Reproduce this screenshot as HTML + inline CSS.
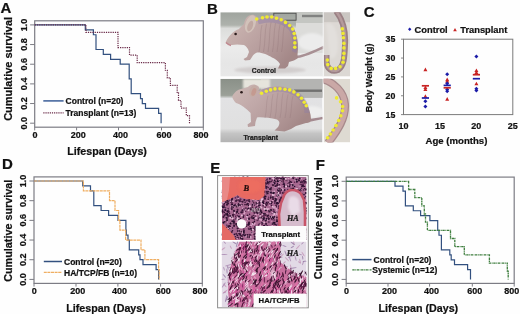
<!DOCTYPE html>
<html><head><meta charset="utf-8"><style>
html,body{margin:0;padding:0;background:#fff;}
svg{display:block;font-family:"Liberation Sans", sans-serif;}
text{stroke:#111;stroke-width:0.22px;}
</style></head><body>
<svg width="520" height="314" viewBox="0 0 520 314">
<rect width="520" height="314" fill="#fefefe"/>
<defs>
<filter id="soft" x="-5%" y="-5%" width="110%" height="110%"><feGaussianBlur stdDeviation="0.55"/></filter>
<filter id="soft2" x="-20%" y="-20%" width="140%" height="140%"><feGaussianBlur stdDeviation="1.2"/></filter>
<filter id="soft3" x="-20%" y="-20%" width="140%" height="140%"><feGaussianBlur stdDeviation="2.2"/></filter>
<clipPath id="cB1"><rect x="220.3" y="12.2" width="103.2" height="64.4"/></clipPath>
<clipPath id="cB1i"><rect x="323.6" y="12.2" width="26.6" height="64.4"/></clipPath>
<clipPath id="cB2"><rect x="220.3" y="78.8" width="102.2" height="63.6"/></clipPath>
<clipPath id="cB2i"><rect x="323.6" y="78.8" width="26.6" height="63.6"/></clipPath>
<clipPath id="cE1"><rect x="221.6" y="176.4" width="85" height="63.6"/></clipPath>
<clipPath id="cE2"><rect x="221.6" y="241.5" width="85" height="65.8"/></clipPath>
<linearGradient id="gB1bg" x1="0" y1="0" x2="0" y2="1">
 <stop offset="0" stop-color="#9fa49e"/><stop offset="0.2" stop-color="#aeb2ac"/>
 <stop offset="0.25" stop-color="#dcdddb"/><stop offset="0.55" stop-color="#ebebeb"/><stop offset="0.8" stop-color="#e6e6e6"/><stop offset="1" stop-color="#e8e8e8"/>
</linearGradient>
<linearGradient id="gB2bg" x1="0" y1="0" x2="0" y2="1">
 <stop offset="0" stop-color="#8a9088"/><stop offset="0.26" stop-color="#9ba098"/>
 <stop offset="0.31" stop-color="#e2e2e4"/><stop offset="0.78" stop-color="#e0e0e0"/><stop offset="0.86" stop-color="#c4c4c4"/><stop offset="1" stop-color="#b2b2b2"/>
</linearGradient>
<linearGradient id="gMouse" x1="0" y1="0" x2="1" y2="0.6">
 <stop offset="0" stop-color="#d0bcb6"/><stop offset="0.35" stop-color="#c2aaa8"/><stop offset="0.7" stop-color="#b49a9a"/><stop offset="1" stop-color="#a48888"/>
</linearGradient>
<linearGradient id="gMouse2" x1="0" y1="0" x2="1" y2="0.6">
 <stop offset="0" stop-color="#cebab6"/><stop offset="0.35" stop-color="#c2aaaa"/><stop offset="0.7" stop-color="#b49a9a"/><stop offset="1" stop-color="#a48888"/>
</linearGradient>
</defs>
<g filter="url(#soft)">
<g clip-path="url(#cB1)">
<rect x="220.3" y="12.2" width="103.2" height="64.4" fill="url(#gB1bg)"/>
<rect x="296" y="12.2" width="28" height="11" fill="#c4c6c2"/>
<rect x="296" y="23" width="28" height="30" fill="#dcdcda"/>
<ellipse cx="312" cy="42" rx="14" ry="9" fill="#ececec" filter="url(#soft2)"/>
<rect x="273.8" y="13.2" width="22.3" height="7" fill="none" stroke="#4a4a4a" stroke-width="0.9"/>
<rect x="302" y="14.8" width="21" height="2.4" fill="#555" opacity="0.6"/>
<ellipse cx="270" cy="70" rx="36" ry="3.5" fill="#d2cece" filter="url(#soft2)"/>
<path d="M296,57 C303,57 313,52 324,47" fill="none" stroke="#a89094" stroke-width="2.6"/>
<path d="M225.7,42.2 C228,37 233,31 238.6,29.3 L244,24 C245,17 250,14 254,15 C257,16 258,18 257,20 C262,16.5 270,15 276,16 C285,18 293,25 295.5,32 C298,40 298.5,48 297.5,55 L298,58 C296,60 292,61 289,62 L288,66 L285,68.5 L278,68.5 L280,64 C278,61 275,58.5 272,57.5 C268,55 262,52.3 257,52.5 C255,53 253,55 252,57 L250,60 L245,60.5 L243.5,59 L247,57 L249,52 C248,48 246,46 244,45 C240,44.5 236,44 232,45 C229,45 226,44 225.7,42.2 Z" fill="url(#gMouse)"/>
<ellipse cx="250.5" cy="24" rx="5" ry="9" fill="#d2c2ba" transform="rotate(20 250.5 24)"/><ellipse cx="250.2" cy="26" rx="2.6" ry="5.5" fill="#c0a8a2" transform="rotate(20 250.2 26)"/>
<path d="M258,22 C270,18 285,20 292,30 C296,40 296,48 294,52" fill="none" stroke="#8c7ca8" stroke-width="5" opacity="0.45"/>
<path d="M262,25.0 C260,32 261,42 259,52" fill="none" stroke="#8a6e70" stroke-width="0.8" opacity="0.35"/>
<path d="M266.5,23.6 C264.5,32 265.5,42 263.5,52" fill="none" stroke="#8a6e70" stroke-width="0.8" opacity="0.35"/>
<path d="M271,22.3 C269,32 270,42 268,52" fill="none" stroke="#8a6e70" stroke-width="0.8" opacity="0.35"/>
<path d="M275.5,23.1 C273.5,32 274.5,42 272.5,52" fill="none" stroke="#8a6e70" stroke-width="0.8" opacity="0.35"/>
<path d="M280,24.4 C278,32 279,42 277,52" fill="none" stroke="#8a6e70" stroke-width="0.8" opacity="0.35"/>
<path d="M284.5,25.8 C282.5,32 283.5,42 281.5,52" fill="none" stroke="#8a6e70" stroke-width="0.8" opacity="0.35"/>
<circle cx="235.6" cy="34" r="1.3" fill="#2a1a1a"/>
<path d="M226,42.5 C227.5,44 229,45 231,45.5" fill="none" stroke="#c08890" stroke-width="1.5"/>
<circle cx="256.7" cy="19" r="1.8" fill="#eeea30"/><circle cx="262.5" cy="17.7" r="1.8" fill="#eeea30"/><circle cx="267" cy="17" r="1.8" fill="#eeea30"/><circle cx="271.7" cy="17" r="1.8" fill="#eeea30"/><circle cx="276.5" cy="18.3" r="1.8" fill="#eeea30"/><circle cx="281.2" cy="19.8" r="1.8" fill="#eeea30"/><circle cx="285.5" cy="22.4" r="1.8" fill="#eeea30"/><circle cx="289.7" cy="25.5" r="1.8" fill="#eeea30"/><circle cx="292.7" cy="29.1" r="1.8" fill="#eeea30"/><circle cx="294.2" cy="33.6" r="1.8" fill="#eeea30"/><circle cx="294.8" cy="38" r="1.8" fill="#eeea30"/><circle cx="294.8" cy="42.9" r="1.8" fill="#eeea30"/><circle cx="294.8" cy="47.2" r="1.8" fill="#eeea30"/>
<text x="251.8" y="72.6" font-size="6.8" font-weight="bold" fill="#2a2a2a">Control</text>
</g>
<g clip-path="url(#cB1i)">
<rect x="323.6" y="12.2" width="26.6" height="64.4" fill="#dcd8d4"/>
<rect x="323.6" y="12.2" width="26.6" height="10" fill="#cac6c2"/>
<path d="M326,24 C332,20 338,30 338,45 C338,55 334,60 330,58 Z" fill="#e2dfdc" filter="url(#soft2)"/>
<path d="M336,11 C343,20 346,30 345,45 C344.5,58 344,66 338,70 C332,72.5 327,69 326.5,62 L326.5,55" fill="none" stroke="#9a8084" stroke-width="6"/>
<path d="M336,11 C343,20 346,30 345,45 C344.5,58 344,66 338,70 C332,72.5 327,69 326.5,62 L326.5,55" fill="none" stroke="#b49a9c" stroke-width="2.5"/>
<circle cx="342.3" cy="28.9" r="1.8" fill="#eeea30"/><circle cx="343" cy="33.4" r="1.8" fill="#eeea30"/><circle cx="343.4" cy="37.8" r="1.8" fill="#eeea30"/><circle cx="343.9" cy="43.4" r="1.8" fill="#eeea30"/><circle cx="343.9" cy="47.9" r="1.8" fill="#eeea30"/><circle cx="343.9" cy="53.4" r="1.8" fill="#eeea30"/><circle cx="343.4" cy="57.9" r="1.8" fill="#eeea30"/><circle cx="343" cy="62.3" r="1.8" fill="#eeea30"/><circle cx="340" cy="66.8" r="1.8" fill="#eeea30"/><circle cx="335.6" cy="68.4" r="1.8" fill="#eeea30"/><circle cx="331.2" cy="68.4" r="1.8" fill="#eeea30"/><circle cx="327.8" cy="64.6" r="1.8" fill="#eeea30"/><circle cx="327.4" cy="60.1" r="1.8" fill="#eeea30"/>
</g>
<rect x="322.7" y="12.2" width="0.9" height="64.4" fill="#f4f4f4"/>
<g clip-path="url(#cB2)">
<rect x="220.3" y="78.8" width="102.2" height="63.6" fill="url(#gB2bg)"/>
<rect x="261" y="78.8" width="62" height="19" fill="#b4b4b2"/>
<rect x="243" y="78.8" width="27" height="10" fill="#e6e4dc" filter="url(#soft2)"/>
<rect x="294" y="89.5" width="28" height="2.4" fill="#3a3a3a" opacity="0.55"/>
<ellipse cx="312" cy="112" rx="12" ry="6" fill="#eeeeee" filter="url(#soft2)"/>
<path d="M306,121 C312,120 317,119 323,118" fill="none" stroke="#a48a90" stroke-width="2.6"/>
<path d="M232.2,96.6 C234,92 238,89.5 241.2,88.9 L248,87 C250,84 255,83.5 258,86 C260,88 259,90 258.5,91 C265,88 272,86 280,86.3 C290,87 300,93 305.6,101.8 C309,108 311,114 311,119 C311,122 309,123 306,123 L296,126 L291,129 L284.5,131.5 L274.5,130.5 L278,127 C280,124 280,121 277,119.5 C270,118 262,117 257,117.5 L255.5,122 L255,126 L248,127 L247.5,124.5 L251,122 L250.6,113 C246,108 240,104 236,103 C234,101 232.5,99 232.2,96.6 Z" fill="url(#gMouse2)"/>
<ellipse cx="253.5" cy="91" rx="4" ry="6" fill="#c4aca4" transform="rotate(20 253.5 91)"/><ellipse cx="253.8" cy="92" rx="2.2" ry="4" fill="#c49a90" transform="rotate(20 253.8 92)"/>
<path d="M262,92 C272,88 288,88 298,95 C305,101 307,108 307,113" fill="none" stroke="#8c7ca8" stroke-width="5" opacity="0.4"/>
<path d="M268,95.6 C266,102 267,110 265,118" fill="none" stroke="#8a6e70" stroke-width="0.8" opacity="0.3"/>
<path d="M273,94.1 C271,102 272,110 270,118" fill="none" stroke="#8a6e70" stroke-width="0.8" opacity="0.3"/>
<path d="M278,92.6 C276,102 277,110 275,118" fill="none" stroke="#8a6e70" stroke-width="0.8" opacity="0.3"/>
<path d="M283,92.9 C281,102 282,110 280,118" fill="none" stroke="#8a6e70" stroke-width="0.8" opacity="0.3"/>
<path d="M288,94.4 C286,102 287,110 285,118" fill="none" stroke="#8a6e70" stroke-width="0.8" opacity="0.3"/>
<path d="M293,95.9 C291,102 292,110 290,118" fill="none" stroke="#8a6e70" stroke-width="0.8" opacity="0.3"/>
<circle cx="241.5" cy="92.3" r="1.3" fill="#2a1a1a"/>
<circle cx="261.6" cy="93.3" r="1.8" fill="#eeea30"/><circle cx="266.3" cy="91.3" r="1.8" fill="#eeea30"/><circle cx="270.6" cy="89.9" r="1.8" fill="#eeea30"/><circle cx="275" cy="88.9" r="1.8" fill="#eeea30"/><circle cx="280" cy="88.7" r="1.8" fill="#eeea30"/><circle cx="285" cy="89.2" r="1.8" fill="#eeea30"/><circle cx="289.7" cy="89.9" r="1.8" fill="#eeea30"/><circle cx="293.9" cy="91.9" r="1.8" fill="#eeea30"/><circle cx="298" cy="94.7" r="1.8" fill="#eeea30"/><circle cx="301.5" cy="98.2" r="1.8" fill="#eeea30"/><circle cx="304.2" cy="102.3" r="1.8" fill="#eeea30"/><circle cx="306.3" cy="105.8" r="1.8" fill="#eeea30"/>
<text x="243.6" y="139.6" font-size="6.8" font-weight="bold" fill="#222">Transplant</text>
</g>
<g clip-path="url(#cB2i)">
<rect x="323.6" y="78.8" width="26.6" height="63.6" fill="#dedad2"/>
<path d="M322,79 C334,82 344,92 345,104 C346,118 338,130 328,143" fill="none" stroke="#a88a8c" stroke-width="8"/>
<path d="M322,79 C334,82 344,92 345,104 C346,118 338,130 328,143" fill="none" stroke="#caa8a6" stroke-width="5.5"/>
<circle cx="336.6" cy="97.9" r="1.8" fill="#eeea30"/><circle cx="340.6" cy="101.8" r="1.8" fill="#eeea30"/><circle cx="342.6" cy="106.5" r="1.8" fill="#eeea30"/><circle cx="342.5" cy="110.8" r="1.8" fill="#eeea30"/><circle cx="340.8" cy="115.8" r="1.8" fill="#eeea30"/><circle cx="338.6" cy="120.5" r="1.8" fill="#eeea30"/><circle cx="336" cy="125.5" r="1.8" fill="#eeea30"/><circle cx="333.2" cy="130" r="1.8" fill="#eeea30"/><circle cx="330.4" cy="134" r="1.8" fill="#eeea30"/><circle cx="327.6" cy="137.8" r="1.8" fill="#eeea30"/>
</g>
</g>
<rect x="217.6" y="175.6" width="90.7" height="132.2" fill="#fff" stroke="#8e8e8e" stroke-width="1"/>
<g filter="url(#soft)">
<g clip-path="url(#cE1)">
<rect x="222" y="177" width="84.5" height="63" fill="#a86890"/>
<circle cx="260.2" cy="212.3" r="1.11" fill="#d8a0c4"/>
<circle cx="260.2" cy="230.9" r="0.70" fill="#d8a0c4"/>
<circle cx="275.2" cy="227.0" r="0.65" fill="#5a2850"/>
<circle cx="234.0" cy="210.9" r="1.09" fill="#3a1838"/>
<circle cx="272.3" cy="202.0" r="0.85" fill="#4a2040"/>
<circle cx="274.7" cy="229.4" r="0.63" fill="#3a1838"/>
<circle cx="238.1" cy="192.2" r="0.62" fill="#d8a0c4"/>
<circle cx="249.6" cy="214.2" r="0.71" fill="#341434"/>
<circle cx="276.1" cy="208.5" r="0.96" fill="#d8a0c4"/>
<circle cx="277.3" cy="202.6" r="0.90" fill="#2a1030"/>
<circle cx="281.8" cy="196.9" r="0.73" fill="#5a2850"/>
<circle cx="224.5" cy="212.5" r="0.66" fill="#2a1030"/>
<circle cx="293.5" cy="201.4" r="1.13" fill="#3a1838"/>
<circle cx="240.0" cy="235.4" r="0.63" fill="#e6c0d8"/>
<circle cx="304.8" cy="202.0" r="0.64" fill="#341434"/>
<circle cx="287.8" cy="194.0" r="0.65" fill="#24102a"/>
<circle cx="223.3" cy="202.8" r="1.11" fill="#4a2040"/>
<circle cx="242.8" cy="183.4" r="0.63" fill="#d8a0c4"/>
<circle cx="237.0" cy="212.2" r="0.85" fill="#341434"/>
<circle cx="305.3" cy="225.5" r="0.83" fill="#e6c0d8"/>
<circle cx="231.8" cy="203.5" r="0.72" fill="#5a2850"/>
<circle cx="295.0" cy="238.4" r="0.93" fill="#3a1838"/>
<circle cx="239.8" cy="201.8" r="1.07" fill="#2a1030"/>
<circle cx="225.6" cy="186.2" r="0.84" fill="#3a1838"/>
<circle cx="287.3" cy="197.7" r="0.76" fill="#2a1030"/>
<circle cx="228.3" cy="190.2" r="0.95" fill="#3a1838"/>
<circle cx="272.8" cy="200.4" r="0.85" fill="#d8a0c4"/>
<circle cx="292.3" cy="185.6" r="0.81" fill="#4a2040"/>
<circle cx="248.3" cy="191.4" r="0.94" fill="#341434"/>
<circle cx="235.4" cy="216.6" r="0.90" fill="#e6c0d8"/>
<circle cx="296.5" cy="215.0" r="0.83" fill="#2a1030"/>
<circle cx="231.2" cy="209.3" r="0.74" fill="#e6c0d8"/>
<circle cx="243.7" cy="228.9" r="0.93" fill="#5a2850"/>
<circle cx="265.9" cy="235.5" r="1.14" fill="#4a2040"/>
<circle cx="241.3" cy="212.2" r="1.07" fill="#2a1030"/>
<circle cx="245.7" cy="234.8" r="0.71" fill="#3a1838"/>
<circle cx="227.8" cy="202.9" r="0.74" fill="#3a1838"/>
<circle cx="236.9" cy="200.2" r="0.91" fill="#4a2040"/>
<circle cx="229.8" cy="185.7" r="0.85" fill="#24102a"/>
<circle cx="277.5" cy="220.5" r="0.92" fill="#4a2040"/>
<circle cx="271.8" cy="235.2" r="0.86" fill="#24102a"/>
<circle cx="281.2" cy="237.7" r="0.61" fill="#2a1030"/>
<circle cx="262.7" cy="223.0" r="0.78" fill="#2a1030"/>
<circle cx="228.4" cy="211.4" r="1.01" fill="#4a2040"/>
<circle cx="289.0" cy="234.6" r="0.79" fill="#d8a0c4"/>
<circle cx="298.1" cy="231.9" r="0.83" fill="#3a1838"/>
<circle cx="295.0" cy="213.1" r="0.94" fill="#e6c0d8"/>
<circle cx="254.0" cy="177.8" r="0.64" fill="#2a1030"/>
<circle cx="276.0" cy="239.6" r="1.08" fill="#24102a"/>
<circle cx="254.8" cy="223.3" r="0.92" fill="#d8a0c4"/>
<circle cx="261.1" cy="211.1" r="0.89" fill="#3a1838"/>
<circle cx="248.2" cy="182.5" r="0.61" fill="#2a1030"/>
<circle cx="264.0" cy="215.7" r="1.11" fill="#5a2850"/>
<circle cx="297.7" cy="200.2" r="0.68" fill="#341434"/>
<circle cx="265.8" cy="224.5" r="0.79" fill="#d8a0c4"/>
<circle cx="264.1" cy="192.2" r="0.82" fill="#5a2850"/>
<circle cx="238.8" cy="204.1" r="1.04" fill="#341434"/>
<circle cx="296.4" cy="201.2" r="0.92" fill="#24102a"/>
<circle cx="239.7" cy="185.5" r="0.79" fill="#3a1838"/>
<circle cx="282.1" cy="236.9" r="0.75" fill="#4a2040"/>
<circle cx="231.5" cy="206.7" r="1.11" fill="#e6c0d8"/>
<circle cx="254.3" cy="209.8" r="0.97" fill="#d8a0c4"/>
<circle cx="249.1" cy="229.2" r="0.75" fill="#3a1838"/>
<circle cx="279.3" cy="194.7" r="0.79" fill="#3a1838"/>
<circle cx="276.2" cy="202.5" r="0.70" fill="#5a2850"/>
<circle cx="242.1" cy="185.9" r="0.63" fill="#2a1030"/>
<circle cx="259.7" cy="216.7" r="0.96" fill="#24102a"/>
<circle cx="303.0" cy="220.1" r="0.71" fill="#d8a0c4"/>
<circle cx="243.6" cy="222.0" r="1.02" fill="#3a1838"/>
<circle cx="237.1" cy="194.2" r="0.79" fill="#4a2040"/>
<circle cx="255.3" cy="226.9" r="1.10" fill="#2a1030"/>
<circle cx="256.7" cy="233.2" r="0.81" fill="#d8a0c4"/>
<circle cx="260.3" cy="216.4" r="1.10" fill="#e6c0d8"/>
<circle cx="268.5" cy="218.1" r="0.88" fill="#24102a"/>
<circle cx="261.2" cy="218.0" r="0.71" fill="#2a1030"/>
<circle cx="240.0" cy="233.7" r="1.14" fill="#5a2850"/>
<circle cx="267.4" cy="226.8" r="0.78" fill="#3a1838"/>
<circle cx="251.4" cy="182.2" r="0.84" fill="#e6c0d8"/>
<circle cx="286.9" cy="207.7" r="0.62" fill="#2a1030"/>
<circle cx="258.2" cy="179.2" r="0.89" fill="#4a2040"/>
<circle cx="261.8" cy="240.0" r="1.10" fill="#d8a0c4"/>
<circle cx="301.9" cy="208.0" r="1.12" fill="#2a1030"/>
<circle cx="286.0" cy="204.7" r="0.91" fill="#4a2040"/>
<circle cx="266.2" cy="230.1" r="0.91" fill="#5a2850"/>
<circle cx="278.7" cy="237.2" r="1.08" fill="#341434"/>
<circle cx="247.7" cy="185.9" r="0.90" fill="#5a2850"/>
<circle cx="270.4" cy="189.7" r="0.89" fill="#3a1838"/>
<circle cx="273.1" cy="178.7" r="1.13" fill="#e6c0d8"/>
<circle cx="268.0" cy="239.3" r="0.67" fill="#2a1030"/>
<circle cx="280.4" cy="181.2" r="0.90" fill="#e6c0d8"/>
<circle cx="299.8" cy="227.4" r="0.82" fill="#341434"/>
<circle cx="262.0" cy="185.0" r="0.84" fill="#d8a0c4"/>
<circle cx="266.4" cy="183.8" r="0.83" fill="#3a1838"/>
<circle cx="300.2" cy="185.2" r="1.03" fill="#3a1838"/>
<circle cx="225.0" cy="186.8" r="0.61" fill="#5a2850"/>
<circle cx="249.2" cy="199.4" r="0.94" fill="#2a1030"/>
<circle cx="264.2" cy="213.7" r="1.07" fill="#5a2850"/>
<circle cx="282.6" cy="221.2" r="1.08" fill="#3a1838"/>
<circle cx="253.7" cy="203.0" r="0.89" fill="#4a2040"/>
<circle cx="267.5" cy="231.4" r="0.89" fill="#341434"/>
<circle cx="266.8" cy="230.6" r="0.94" fill="#4a2040"/>
<circle cx="241.7" cy="223.7" r="1.05" fill="#4a2040"/>
<circle cx="248.7" cy="196.8" r="1.11" fill="#341434"/>
<circle cx="287.8" cy="189.3" r="0.65" fill="#341434"/>
<circle cx="233.2" cy="182.6" r="0.81" fill="#e6c0d8"/>
<circle cx="292.3" cy="203.6" r="1.03" fill="#4a2040"/>
<circle cx="239.0" cy="216.6" r="1.04" fill="#2a1030"/>
<circle cx="239.0" cy="220.0" r="1.10" fill="#24102a"/>
<circle cx="231.8" cy="208.9" r="1.02" fill="#341434"/>
<circle cx="289.8" cy="207.4" r="0.61" fill="#d8a0c4"/>
<circle cx="234.4" cy="188.6" r="0.71" fill="#4a2040"/>
<circle cx="305.7" cy="235.4" r="0.65" fill="#3a1838"/>
<circle cx="233.4" cy="219.9" r="0.64" fill="#2a1030"/>
<circle cx="249.6" cy="206.4" r="0.88" fill="#e6c0d8"/>
<circle cx="239.8" cy="200.5" r="0.95" fill="#3a1838"/>
<circle cx="293.3" cy="188.4" r="0.85" fill="#24102a"/>
<circle cx="256.2" cy="189.3" r="0.69" fill="#3a1838"/>
<circle cx="249.4" cy="182.3" r="1.06" fill="#e6c0d8"/>
<circle cx="270.1" cy="189.0" r="0.92" fill="#24102a"/>
<circle cx="290.0" cy="193.3" r="1.10" fill="#4a2040"/>
<circle cx="290.8" cy="202.6" r="1.09" fill="#24102a"/>
<circle cx="286.8" cy="225.2" r="0.82" fill="#4a2040"/>
<circle cx="228.0" cy="198.5" r="0.86" fill="#3a1838"/>
<circle cx="297.0" cy="239.4" r="1.10" fill="#3a1838"/>
<circle cx="241.6" cy="236.5" r="0.97" fill="#24102a"/>
<circle cx="240.3" cy="202.6" r="0.70" fill="#2a1030"/>
<circle cx="254.9" cy="240.0" r="0.95" fill="#2a1030"/>
<circle cx="286.4" cy="238.7" r="0.61" fill="#2a1030"/>
<circle cx="284.4" cy="193.2" r="0.82" fill="#3a1838"/>
<circle cx="286.3" cy="217.8" r="0.61" fill="#5a2850"/>
<circle cx="243.2" cy="234.1" r="0.90" fill="#e6c0d8"/>
<circle cx="303.7" cy="212.8" r="1.15" fill="#d8a0c4"/>
<circle cx="290.4" cy="181.8" r="0.93" fill="#3a1838"/>
<circle cx="254.7" cy="236.1" r="0.81" fill="#4a2040"/>
<circle cx="294.3" cy="211.1" r="0.93" fill="#e6c0d8"/>
<circle cx="301.9" cy="203.5" r="0.89" fill="#5a2850"/>
<circle cx="252.9" cy="195.0" r="0.96" fill="#5a2850"/>
<circle cx="278.1" cy="224.1" r="0.61" fill="#341434"/>
<circle cx="271.5" cy="216.9" r="0.82" fill="#e6c0d8"/>
<circle cx="226.5" cy="196.9" r="0.82" fill="#24102a"/>
<circle cx="228.2" cy="234.0" r="0.84" fill="#d8a0c4"/>
<circle cx="243.2" cy="224.6" r="0.62" fill="#2a1030"/>
<circle cx="301.2" cy="222.5" r="0.86" fill="#341434"/>
<circle cx="273.0" cy="184.3" r="0.94" fill="#d8a0c4"/>
<circle cx="232.0" cy="231.3" r="0.80" fill="#4a2040"/>
<circle cx="232.5" cy="204.9" r="0.97" fill="#d8a0c4"/>
<circle cx="272.8" cy="217.3" r="0.98" fill="#24102a"/>
<circle cx="287.7" cy="210.4" r="1.15" fill="#5a2850"/>
<circle cx="284.0" cy="192.0" r="0.66" fill="#5a2850"/>
<circle cx="288.3" cy="216.4" r="0.80" fill="#5a2850"/>
<circle cx="273.5" cy="222.7" r="0.98" fill="#341434"/>
<circle cx="275.5" cy="224.5" r="0.70" fill="#341434"/>
<circle cx="264.4" cy="218.1" r="0.71" fill="#3a1838"/>
<circle cx="275.1" cy="177.6" r="0.74" fill="#3a1838"/>
<circle cx="274.7" cy="183.5" r="0.90" fill="#2a1030"/>
<circle cx="285.9" cy="234.5" r="0.69" fill="#341434"/>
<circle cx="275.3" cy="200.5" r="0.86" fill="#341434"/>
<circle cx="250.6" cy="208.1" r="0.67" fill="#2a1030"/>
<circle cx="289.8" cy="205.2" r="1.05" fill="#341434"/>
<circle cx="259.5" cy="224.1" r="0.81" fill="#4a2040"/>
<circle cx="253.2" cy="218.2" r="1.14" fill="#24102a"/>
<circle cx="246.6" cy="224.8" r="1.05" fill="#4a2040"/>
<circle cx="258.1" cy="200.3" r="0.65" fill="#24102a"/>
<circle cx="228.6" cy="182.2" r="0.91" fill="#d8a0c4"/>
<circle cx="290.9" cy="206.2" r="1.05" fill="#3a1838"/>
<circle cx="228.4" cy="190.4" r="0.96" fill="#2a1030"/>
<circle cx="280.7" cy="208.2" r="1.02" fill="#24102a"/>
<circle cx="245.9" cy="186.0" r="0.80" fill="#24102a"/>
<circle cx="253.0" cy="184.4" r="0.99" fill="#5a2850"/>
<circle cx="259.0" cy="227.6" r="0.77" fill="#24102a"/>
<circle cx="240.7" cy="238.0" r="1.00" fill="#341434"/>
<circle cx="229.1" cy="229.2" r="0.61" fill="#e6c0d8"/>
<circle cx="271.4" cy="227.2" r="1.01" fill="#24102a"/>
<circle cx="289.4" cy="211.1" r="1.06" fill="#4a2040"/>
<circle cx="236.9" cy="224.8" r="1.08" fill="#5a2850"/>
<circle cx="290.6" cy="190.9" r="0.63" fill="#4a2040"/>
<circle cx="270.0" cy="237.9" r="0.96" fill="#e6c0d8"/>
<circle cx="227.4" cy="211.4" r="1.03" fill="#2a1030"/>
<circle cx="250.3" cy="194.2" r="0.66" fill="#24102a"/>
<circle cx="229.2" cy="217.0" r="0.68" fill="#e6c0d8"/>
<circle cx="242.7" cy="190.9" r="1.02" fill="#24102a"/>
<circle cx="286.6" cy="201.8" r="0.79" fill="#24102a"/>
<circle cx="278.8" cy="208.1" r="0.90" fill="#2a1030"/>
<circle cx="281.8" cy="234.6" r="0.83" fill="#24102a"/>
<circle cx="294.1" cy="227.8" r="1.06" fill="#d8a0c4"/>
<circle cx="302.9" cy="217.3" r="0.89" fill="#3a1838"/>
<circle cx="289.8" cy="203.6" r="0.83" fill="#4a2040"/>
<circle cx="242.8" cy="187.2" r="0.95" fill="#4a2040"/>
<circle cx="249.1" cy="201.5" r="0.89" fill="#5a2850"/>
<circle cx="303.9" cy="180.7" r="0.77" fill="#2a1030"/>
<circle cx="247.6" cy="186.8" r="1.11" fill="#3a1838"/>
<circle cx="285.6" cy="178.1" r="0.86" fill="#3a1838"/>
<circle cx="248.4" cy="189.5" r="0.80" fill="#341434"/>
<circle cx="272.7" cy="206.7" r="0.88" fill="#d8a0c4"/>
<circle cx="237.6" cy="194.7" r="0.69" fill="#5a2850"/>
<circle cx="275.0" cy="236.3" r="0.90" fill="#5a2850"/>
<circle cx="263.0" cy="202.4" r="1.13" fill="#2a1030"/>
<circle cx="262.8" cy="190.9" r="0.63" fill="#4a2040"/>
<circle cx="289.7" cy="201.3" r="0.89" fill="#5a2850"/>
<circle cx="288.6" cy="180.7" r="1.11" fill="#3a1838"/>
<circle cx="295.9" cy="234.0" r="0.85" fill="#341434"/>
<circle cx="282.3" cy="215.2" r="0.69" fill="#4a2040"/>
<circle cx="287.2" cy="186.1" r="1.10" fill="#4a2040"/>
<circle cx="275.8" cy="239.6" r="0.75" fill="#3a1838"/>
<circle cx="234.7" cy="225.5" r="0.60" fill="#4a2040"/>
<circle cx="291.5" cy="182.2" r="0.75" fill="#2a1030"/>
<circle cx="297.2" cy="220.7" r="0.65" fill="#5a2850"/>
<circle cx="223.6" cy="188.8" r="0.71" fill="#2a1030"/>
<circle cx="288.0" cy="204.7" r="0.62" fill="#e6c0d8"/>
<circle cx="266.4" cy="186.9" r="1.06" fill="#5a2850"/>
<circle cx="248.7" cy="202.5" r="0.91" fill="#d8a0c4"/>
<circle cx="278.4" cy="181.2" r="0.64" fill="#4a2040"/>
<circle cx="230.9" cy="201.8" r="0.85" fill="#2a1030"/>
<circle cx="277.3" cy="177.8" r="0.81" fill="#d8a0c4"/>
<circle cx="242.1" cy="212.5" r="0.85" fill="#3a1838"/>
<circle cx="294.3" cy="230.2" r="1.00" fill="#4a2040"/>
<circle cx="246.5" cy="200.7" r="0.90" fill="#5a2850"/>
<circle cx="302.6" cy="224.6" r="0.91" fill="#2a1030"/>
<circle cx="243.7" cy="189.6" r="1.00" fill="#24102a"/>
<circle cx="248.2" cy="194.2" r="0.86" fill="#24102a"/>
<circle cx="259.8" cy="201.1" r="0.66" fill="#2a1030"/>
<circle cx="233.1" cy="216.7" r="0.70" fill="#341434"/>
<circle cx="256.0" cy="229.7" r="0.93" fill="#2a1030"/>
<circle cx="230.5" cy="179.0" r="1.14" fill="#e6c0d8"/>
<circle cx="256.4" cy="181.6" r="1.11" fill="#e6c0d8"/>
<circle cx="300.3" cy="185.8" r="0.71" fill="#4a2040"/>
<circle cx="291.4" cy="201.3" r="0.78" fill="#e6c0d8"/>
<circle cx="274.6" cy="222.8" r="0.94" fill="#24102a"/>
<circle cx="305.0" cy="226.7" r="0.96" fill="#3a1838"/>
<circle cx="244.0" cy="188.9" r="0.77" fill="#d8a0c4"/>
<circle cx="231.0" cy="200.8" r="0.88" fill="#5a2850"/>
<circle cx="291.7" cy="215.5" r="0.69" fill="#5a2850"/>
<circle cx="268.3" cy="199.2" r="0.88" fill="#4a2040"/>
<circle cx="270.5" cy="189.5" r="1.11" fill="#341434"/>
<circle cx="269.9" cy="178.7" r="0.96" fill="#2a1030"/>
<circle cx="233.5" cy="207.1" r="0.83" fill="#24102a"/>
<circle cx="249.8" cy="235.5" r="0.80" fill="#d8a0c4"/>
<circle cx="296.6" cy="205.5" r="1.00" fill="#341434"/>
<circle cx="298.4" cy="211.2" r="0.91" fill="#5a2850"/>
<circle cx="236.2" cy="224.0" r="1.09" fill="#24102a"/>
<circle cx="272.8" cy="184.7" r="1.05" fill="#5a2850"/>
<circle cx="279.9" cy="199.9" r="1.02" fill="#24102a"/>
<circle cx="292.2" cy="188.7" r="0.90" fill="#2a1030"/>
<circle cx="260.4" cy="202.4" r="1.03" fill="#4a2040"/>
<circle cx="248.0" cy="219.3" r="1.01" fill="#e6c0d8"/>
<circle cx="274.0" cy="217.3" r="1.02" fill="#4a2040"/>
<circle cx="238.9" cy="206.5" r="0.68" fill="#e6c0d8"/>
<circle cx="232.0" cy="202.6" r="0.78" fill="#4a2040"/>
<circle cx="244.3" cy="212.8" r="0.78" fill="#3a1838"/>
<circle cx="283.0" cy="226.6" r="0.82" fill="#d8a0c4"/>
<circle cx="272.7" cy="206.6" r="0.83" fill="#e6c0d8"/>
<circle cx="285.5" cy="207.6" r="1.15" fill="#e6c0d8"/>
<circle cx="291.7" cy="184.4" r="0.66" fill="#24102a"/>
<circle cx="266.4" cy="204.2" r="1.10" fill="#24102a"/>
<circle cx="298.7" cy="195.7" r="0.94" fill="#e6c0d8"/>
<circle cx="283.9" cy="214.6" r="1.01" fill="#5a2850"/>
<circle cx="296.6" cy="232.3" r="0.73" fill="#d8a0c4"/>
<circle cx="242.5" cy="232.0" r="1.13" fill="#d8a0c4"/>
<circle cx="280.7" cy="210.2" r="0.73" fill="#5a2850"/>
<circle cx="277.5" cy="236.2" r="1.08" fill="#24102a"/>
<circle cx="295.2" cy="203.5" r="1.04" fill="#341434"/>
<circle cx="276.9" cy="203.6" r="0.67" fill="#2a1030"/>
<circle cx="230.3" cy="226.9" r="0.67" fill="#d8a0c4"/>
<circle cx="222.0" cy="192.4" r="0.76" fill="#24102a"/>
<circle cx="236.5" cy="204.8" r="0.85" fill="#e6c0d8"/>
<circle cx="233.9" cy="220.6" r="0.73" fill="#5a2850"/>
<circle cx="224.6" cy="233.6" r="0.77" fill="#d8a0c4"/>
<circle cx="234.1" cy="225.9" r="1.03" fill="#341434"/>
<circle cx="239.1" cy="231.1" r="0.98" fill="#3a1838"/>
<circle cx="238.5" cy="229.8" r="0.79" fill="#d8a0c4"/>
<circle cx="223.4" cy="217.0" r="0.98" fill="#341434"/>
<circle cx="267.0" cy="191.9" r="1.12" fill="#3a1838"/>
<circle cx="276.9" cy="196.3" r="1.05" fill="#5a2850"/>
<circle cx="295.5" cy="221.9" r="0.67" fill="#d8a0c4"/>
<circle cx="257.1" cy="187.7" r="1.07" fill="#2a1030"/>
<circle cx="282.0" cy="189.4" r="0.70" fill="#341434"/>
<circle cx="264.4" cy="195.6" r="0.75" fill="#2a1030"/>
<circle cx="271.8" cy="191.4" r="0.77" fill="#4a2040"/>
<circle cx="278.4" cy="194.4" r="0.95" fill="#2a1030"/>
<circle cx="261.1" cy="181.8" r="1.10" fill="#2a1030"/>
<circle cx="266.9" cy="179.9" r="0.93" fill="#5a2850"/>
<circle cx="267.4" cy="203.7" r="0.91" fill="#4a2040"/>
<circle cx="246.1" cy="224.6" r="0.74" fill="#5a2850"/>
<circle cx="284.0" cy="178.8" r="1.03" fill="#4a2040"/>
<circle cx="305.5" cy="179.1" r="0.85" fill="#e6c0d8"/>
<circle cx="222.2" cy="233.2" r="0.63" fill="#2a1030"/>
<circle cx="269.0" cy="217.6" r="0.80" fill="#d8a0c4"/>
<circle cx="288.2" cy="209.6" r="0.88" fill="#4a2040"/>
<circle cx="272.2" cy="225.6" r="0.66" fill="#e6c0d8"/>
<circle cx="241.9" cy="204.7" r="1.03" fill="#341434"/>
<circle cx="243.9" cy="211.3" r="1.07" fill="#d8a0c4"/>
<circle cx="244.1" cy="189.8" r="1.13" fill="#3a1838"/>
<circle cx="270.4" cy="232.0" r="0.70" fill="#4a2040"/>
<circle cx="273.4" cy="215.3" r="1.04" fill="#d8a0c4"/>
<circle cx="283.1" cy="231.0" r="0.62" fill="#2a1030"/>
<circle cx="298.7" cy="212.8" r="0.90" fill="#341434"/>
<circle cx="274.7" cy="180.4" r="0.83" fill="#24102a"/>
<circle cx="291.3" cy="223.5" r="1.03" fill="#d8a0c4"/>
<circle cx="229.5" cy="228.7" r="0.69" fill="#5a2850"/>
<circle cx="243.0" cy="208.3" r="0.96" fill="#d8a0c4"/>
<circle cx="227.2" cy="202.9" r="0.80" fill="#341434"/>
<circle cx="281.5" cy="237.3" r="0.67" fill="#4a2040"/>
<circle cx="234.2" cy="205.7" r="1.01" fill="#3a1838"/>
<circle cx="222.3" cy="202.8" r="0.89" fill="#2a1030"/>
<circle cx="255.2" cy="195.8" r="0.83" fill="#2a1030"/>
<circle cx="304.1" cy="219.8" r="0.99" fill="#341434"/>
<circle cx="247.0" cy="184.5" r="1.07" fill="#e6c0d8"/>
<circle cx="261.0" cy="235.7" r="0.80" fill="#24102a"/>
<circle cx="302.0" cy="235.2" r="0.72" fill="#4a2040"/>
<circle cx="256.1" cy="217.9" r="0.63" fill="#24102a"/>
<circle cx="269.9" cy="234.5" r="1.09" fill="#4a2040"/>
<circle cx="261.1" cy="201.8" r="1.06" fill="#e6c0d8"/>
<circle cx="254.0" cy="180.1" r="0.83" fill="#341434"/>
<circle cx="237.5" cy="211.6" r="0.69" fill="#341434"/>
<circle cx="255.8" cy="214.4" r="1.02" fill="#d8a0c4"/>
<circle cx="259.8" cy="239.6" r="0.97" fill="#d8a0c4"/>
<circle cx="239.3" cy="201.1" r="0.64" fill="#5a2850"/>
<circle cx="252.7" cy="194.3" r="0.61" fill="#4a2040"/>
<circle cx="284.7" cy="209.3" r="0.91" fill="#341434"/>
<circle cx="244.7" cy="199.7" r="0.68" fill="#24102a"/>
<circle cx="233.6" cy="192.2" r="1.06" fill="#2a1030"/>
<circle cx="223.7" cy="197.3" r="0.81" fill="#2a1030"/>
<circle cx="294.2" cy="201.0" r="0.74" fill="#3a1838"/>
<circle cx="247.5" cy="215.3" r="0.87" fill="#341434"/>
<circle cx="234.7" cy="214.5" r="0.62" fill="#5a2850"/>
<circle cx="256.7" cy="207.2" r="0.98" fill="#5a2850"/>
<circle cx="248.5" cy="205.5" r="0.81" fill="#341434"/>
<circle cx="292.5" cy="210.7" r="0.85" fill="#4a2040"/>
<circle cx="254.7" cy="231.6" r="0.72" fill="#5a2850"/>
<circle cx="253.3" cy="215.5" r="0.68" fill="#3a1838"/>
<circle cx="285.1" cy="207.4" r="0.61" fill="#5a2850"/>
<circle cx="277.8" cy="181.2" r="1.07" fill="#24102a"/>
<circle cx="278.3" cy="237.2" r="1.08" fill="#341434"/>
<circle cx="288.2" cy="193.4" r="1.04" fill="#2a1030"/>
<circle cx="255.2" cy="180.8" r="0.81" fill="#24102a"/>
<circle cx="246.0" cy="221.3" r="0.72" fill="#e6c0d8"/>
<circle cx="239.1" cy="225.4" r="0.79" fill="#341434"/>
<circle cx="266.0" cy="223.8" r="1.10" fill="#4a2040"/>
<circle cx="262.4" cy="193.2" r="1.07" fill="#5a2850"/>
<circle cx="281.2" cy="178.5" r="0.82" fill="#24102a"/>
<circle cx="298.9" cy="234.5" r="0.75" fill="#e6c0d8"/>
<circle cx="263.9" cy="213.9" r="0.86" fill="#24102a"/>
<circle cx="296.9" cy="181.6" r="0.62" fill="#24102a"/>
<circle cx="297.4" cy="212.6" r="0.74" fill="#4a2040"/>
<circle cx="276.3" cy="201.2" r="0.79" fill="#24102a"/>
<circle cx="224.6" cy="221.6" r="0.72" fill="#2a1030"/>
<circle cx="275.0" cy="216.1" r="0.83" fill="#e6c0d8"/>
<circle cx="227.4" cy="181.3" r="0.86" fill="#d8a0c4"/>
<circle cx="254.3" cy="234.3" r="0.62" fill="#4a2040"/>
<circle cx="279.7" cy="194.2" r="0.87" fill="#d8a0c4"/>
<circle cx="304.6" cy="186.4" r="0.71" fill="#341434"/>
<circle cx="243.8" cy="190.9" r="0.89" fill="#e6c0d8"/>
<circle cx="222.3" cy="211.5" r="1.07" fill="#2a1030"/>
<circle cx="274.8" cy="212.3" r="1.06" fill="#24102a"/>
<circle cx="244.3" cy="183.5" r="0.61" fill="#341434"/>
<circle cx="280.8" cy="220.3" r="1.13" fill="#4a2040"/>
<circle cx="235.5" cy="216.2" r="0.87" fill="#5a2850"/>
<circle cx="253.2" cy="195.0" r="1.01" fill="#d8a0c4"/>
<circle cx="242.0" cy="192.7" r="0.78" fill="#4a2040"/>
<circle cx="299.5" cy="223.5" r="1.08" fill="#2a1030"/>
<circle cx="291.1" cy="232.8" r="0.77" fill="#d8a0c4"/>
<circle cx="265.3" cy="219.8" r="0.62" fill="#e6c0d8"/>
<circle cx="295.5" cy="180.4" r="0.74" fill="#e6c0d8"/>
<circle cx="243.4" cy="217.0" r="0.80" fill="#24102a"/>
<circle cx="237.5" cy="230.9" r="0.71" fill="#4a2040"/>
<circle cx="270.0" cy="203.5" r="0.99" fill="#5a2850"/>
<circle cx="289.7" cy="184.9" r="0.81" fill="#5a2850"/>
<circle cx="241.5" cy="188.6" r="0.61" fill="#4a2040"/>
<circle cx="244.6" cy="194.1" r="0.74" fill="#e6c0d8"/>
<circle cx="254.7" cy="219.8" r="0.68" fill="#4a2040"/>
<circle cx="282.3" cy="184.5" r="0.62" fill="#5a2850"/>
<circle cx="252.1" cy="210.9" r="1.04" fill="#e6c0d8"/>
<circle cx="249.9" cy="178.7" r="0.90" fill="#d8a0c4"/>
<circle cx="236.5" cy="181.2" r="0.84" fill="#5a2850"/>
<circle cx="240.9" cy="222.5" r="0.82" fill="#4a2040"/>
<circle cx="304.9" cy="201.5" r="0.98" fill="#5a2850"/>
<circle cx="289.6" cy="186.3" r="0.70" fill="#2a1030"/>
<circle cx="269.0" cy="233.5" r="1.08" fill="#e6c0d8"/>
<circle cx="232.2" cy="197.4" r="0.61" fill="#4a2040"/>
<circle cx="245.1" cy="202.2" r="0.78" fill="#2a1030"/>
<circle cx="262.7" cy="200.0" r="0.74" fill="#3a1838"/>
<circle cx="234.8" cy="177.4" r="1.02" fill="#2a1030"/>
<circle cx="222.3" cy="198.2" r="0.68" fill="#341434"/>
<circle cx="305.8" cy="202.7" r="0.62" fill="#24102a"/>
<circle cx="290.2" cy="201.9" r="0.63" fill="#5a2850"/>
<circle cx="245.4" cy="236.1" r="1.08" fill="#d8a0c4"/>
<circle cx="270.3" cy="236.3" r="0.63" fill="#3a1838"/>
<circle cx="301.8" cy="211.0" r="0.97" fill="#5a2850"/>
<circle cx="252.3" cy="224.5" r="0.77" fill="#d8a0c4"/>
<circle cx="222.9" cy="190.2" r="1.13" fill="#3a1838"/>
<circle cx="286.8" cy="193.7" r="0.73" fill="#d8a0c4"/>
<circle cx="255.7" cy="227.6" r="1.06" fill="#2a1030"/>
<circle cx="301.1" cy="207.4" r="1.06" fill="#e6c0d8"/>
<circle cx="243.2" cy="234.3" r="0.61" fill="#4a2040"/>
<circle cx="241.2" cy="201.5" r="0.80" fill="#5a2850"/>
<circle cx="290.5" cy="200.0" r="0.95" fill="#24102a"/>
<circle cx="248.4" cy="181.2" r="0.96" fill="#2a1030"/>
<circle cx="244.4" cy="190.5" r="0.70" fill="#3a1838"/>
<circle cx="284.8" cy="211.4" r="0.97" fill="#4a2040"/>
<circle cx="251.4" cy="186.8" r="0.81" fill="#4a2040"/>
<circle cx="258.4" cy="177.6" r="0.88" fill="#e6c0d8"/>
<circle cx="230.0" cy="236.9" r="1.06" fill="#341434"/>
<circle cx="223.8" cy="188.0" r="0.64" fill="#2a1030"/>
<circle cx="270.9" cy="197.3" r="0.86" fill="#341434"/>
<circle cx="264.2" cy="226.2" r="1.09" fill="#5a2850"/>
<circle cx="227.9" cy="201.6" r="1.11" fill="#4a2040"/>
<circle cx="287.7" cy="210.1" r="0.61" fill="#e6c0d8"/>
<circle cx="299.0" cy="180.5" r="0.94" fill="#24102a"/>
<circle cx="297.0" cy="231.0" r="0.95" fill="#2a1030"/>
<circle cx="232.3" cy="223.5" r="1.01" fill="#e6c0d8"/>
<circle cx="278.2" cy="203.4" r="0.81" fill="#341434"/>
<circle cx="253.7" cy="211.1" r="0.62" fill="#3a1838"/>
<circle cx="266.6" cy="205.5" r="0.76" fill="#3a1838"/>
<circle cx="272.2" cy="235.7" r="0.68" fill="#d8a0c4"/>
<circle cx="249.7" cy="193.1" r="0.94" fill="#341434"/>
<circle cx="284.3" cy="239.3" r="0.82" fill="#4a2040"/>
<circle cx="285.6" cy="233.5" r="0.66" fill="#4a2040"/>
<circle cx="293.0" cy="217.9" r="1.12" fill="#2a1030"/>
<circle cx="289.4" cy="209.2" r="1.15" fill="#2a1030"/>
<circle cx="237.6" cy="179.4" r="0.79" fill="#24102a"/>
<circle cx="260.4" cy="210.8" r="1.08" fill="#341434"/>
<circle cx="263.3" cy="237.6" r="0.73" fill="#2a1030"/>
<circle cx="268.9" cy="226.6" r="0.87" fill="#341434"/>
<circle cx="228.1" cy="208.3" r="0.63" fill="#2a1030"/>
<circle cx="289.3" cy="186.6" r="0.80" fill="#2a1030"/>
<circle cx="250.2" cy="235.5" r="1.13" fill="#341434"/>
<circle cx="292.5" cy="184.4" r="0.70" fill="#e6c0d8"/>
<circle cx="224.6" cy="220.0" r="0.86" fill="#d8a0c4"/>
<circle cx="228.1" cy="239.2" r="0.71" fill="#24102a"/>
<circle cx="296.1" cy="222.8" r="0.71" fill="#e6c0d8"/>
<circle cx="254.0" cy="228.4" r="0.98" fill="#5a2850"/>
<circle cx="277.6" cy="190.1" r="0.72" fill="#4a2040"/>
<circle cx="236.5" cy="213.6" r="0.62" fill="#5a2850"/>
<circle cx="231.8" cy="236.3" r="0.94" fill="#24102a"/>
<circle cx="248.0" cy="177.5" r="0.64" fill="#341434"/>
<circle cx="284.2" cy="199.7" r="0.77" fill="#e6c0d8"/>
<circle cx="238.9" cy="181.5" r="0.75" fill="#24102a"/>
<circle cx="291.3" cy="202.8" r="0.85" fill="#2a1030"/>
<circle cx="301.6" cy="198.8" r="0.99" fill="#341434"/>
<circle cx="263.6" cy="184.4" r="0.67" fill="#5a2850"/>
<circle cx="302.4" cy="181.9" r="0.96" fill="#341434"/>
<circle cx="300.9" cy="201.4" r="1.01" fill="#341434"/>
<circle cx="259.9" cy="181.0" r="0.83" fill="#5a2850"/>
<circle cx="271.4" cy="218.5" r="0.75" fill="#3a1838"/>
<circle cx="278.8" cy="192.4" r="0.83" fill="#4a2040"/>
<circle cx="272.1" cy="231.6" r="0.81" fill="#5a2850"/>
<circle cx="250.9" cy="228.7" r="1.07" fill="#2a1030"/>
<circle cx="268.1" cy="183.3" r="1.09" fill="#2a1030"/>
<circle cx="288.8" cy="178.0" r="0.62" fill="#24102a"/>
<circle cx="305.6" cy="228.4" r="1.08" fill="#4a2040"/>
<circle cx="261.6" cy="199.8" r="0.86" fill="#24102a"/>
<circle cx="262.5" cy="218.1" r="0.63" fill="#341434"/>
<circle cx="304.5" cy="239.5" r="0.82" fill="#341434"/>
<circle cx="276.9" cy="221.2" r="1.15" fill="#2a1030"/>
<circle cx="306.5" cy="218.3" r="1.03" fill="#341434"/>
<circle cx="265.8" cy="213.8" r="0.87" fill="#4a2040"/>
<circle cx="265.6" cy="183.0" r="1.04" fill="#3a1838"/>
<circle cx="236.1" cy="217.9" r="0.94" fill="#5a2850"/>
<circle cx="278.1" cy="238.1" r="0.86" fill="#2a1030"/>
<circle cx="258.6" cy="186.8" r="0.80" fill="#24102a"/>
<circle cx="301.8" cy="233.4" r="0.61" fill="#24102a"/>
<circle cx="256.9" cy="212.3" r="1.14" fill="#2a1030"/>
<circle cx="247.5" cy="209.0" r="0.67" fill="#341434"/>
<circle cx="233.0" cy="182.6" r="0.88" fill="#5a2850"/>
<circle cx="251.8" cy="192.5" r="0.92" fill="#d8a0c4"/>
<circle cx="226.6" cy="190.7" r="0.85" fill="#2a1030"/>
<circle cx="260.8" cy="230.6" r="0.66" fill="#4a2040"/>
<circle cx="234.2" cy="212.6" r="0.70" fill="#2a1030"/>
<circle cx="256.9" cy="177.7" r="0.68" fill="#2a1030"/>
<circle cx="284.1" cy="221.9" r="0.69" fill="#3a1838"/>
<circle cx="256.2" cy="208.1" r="1.10" fill="#3a1838"/>
<circle cx="254.9" cy="195.9" r="0.72" fill="#2a1030"/>
<circle cx="277.5" cy="203.4" r="1.09" fill="#341434"/>
<circle cx="277.3" cy="232.9" r="1.12" fill="#2a1030"/>
<circle cx="255.3" cy="195.9" r="1.01" fill="#5a2850"/>
<circle cx="240.6" cy="182.3" r="1.04" fill="#e6c0d8"/>
<circle cx="252.3" cy="204.1" r="0.85" fill="#3a1838"/>
<circle cx="248.3" cy="210.5" r="0.69" fill="#e6c0d8"/>
<circle cx="268.3" cy="202.2" r="0.72" fill="#2a1030"/>
<circle cx="282.3" cy="179.0" r="0.80" fill="#341434"/>
<circle cx="265.9" cy="210.2" r="1.00" fill="#24102a"/>
<circle cx="256.4" cy="237.9" r="0.60" fill="#24102a"/>
<circle cx="303.2" cy="200.0" r="0.93" fill="#24102a"/>
<circle cx="293.0" cy="190.2" r="1.02" fill="#3a1838"/>
<circle cx="248.6" cy="208.4" r="0.88" fill="#24102a"/>
<circle cx="226.5" cy="182.8" r="0.74" fill="#5a2850"/>
<circle cx="290.3" cy="236.5" r="0.96" fill="#24102a"/>
<circle cx="256.0" cy="195.0" r="0.97" fill="#2a1030"/>
<circle cx="255.5" cy="191.2" r="0.74" fill="#3a1838"/>
<circle cx="248.8" cy="228.6" r="1.03" fill="#5a2850"/>
<circle cx="226.8" cy="225.1" r="0.63" fill="#2a1030"/>
<circle cx="268.7" cy="235.4" r="0.95" fill="#3a1838"/>
<circle cx="274.1" cy="220.0" r="0.72" fill="#3a1838"/>
<circle cx="291.6" cy="207.2" r="0.78" fill="#2a1030"/>
<circle cx="236.6" cy="182.3" r="0.98" fill="#4a2040"/>
<circle cx="253.9" cy="205.2" r="0.84" fill="#2a1030"/>
<circle cx="259.6" cy="233.5" r="1.00" fill="#2a1030"/>
<circle cx="302.8" cy="199.4" r="1.06" fill="#2a1030"/>
<circle cx="281.4" cy="202.0" r="0.98" fill="#2a1030"/>
<circle cx="299.9" cy="190.3" r="0.83" fill="#4a2040"/>
<circle cx="292.9" cy="184.8" r="1.08" fill="#d8a0c4"/>
<circle cx="256.4" cy="233.5" r="1.11" fill="#341434"/>
<circle cx="279.0" cy="235.5" r="0.87" fill="#e6c0d8"/>
<circle cx="265.2" cy="207.3" r="0.90" fill="#4a2040"/>
<circle cx="287.3" cy="197.4" r="0.61" fill="#4a2040"/>
<circle cx="277.0" cy="200.8" r="1.04" fill="#e6c0d8"/>
<circle cx="260.3" cy="214.1" r="0.85" fill="#4a2040"/>
<circle cx="262.6" cy="238.8" r="0.78" fill="#d8a0c4"/>
<circle cx="241.7" cy="193.5" r="1.00" fill="#3a1838"/>
<circle cx="243.7" cy="181.0" r="1.05" fill="#e6c0d8"/>
<circle cx="242.6" cy="190.4" r="1.10" fill="#2a1030"/>
<circle cx="269.3" cy="238.5" r="1.10" fill="#d8a0c4"/>
<circle cx="254.7" cy="184.4" r="0.70" fill="#2a1030"/>
<circle cx="279.4" cy="208.5" r="0.68" fill="#24102a"/>
<circle cx="270.0" cy="211.7" r="0.78" fill="#4a2040"/>
<circle cx="259.7" cy="238.2" r="0.80" fill="#5a2850"/>
<circle cx="230.3" cy="226.4" r="0.72" fill="#341434"/>
<circle cx="294.8" cy="223.5" r="0.79" fill="#4a2040"/>
<circle cx="286.6" cy="213.7" r="1.09" fill="#24102a"/>
<circle cx="280.2" cy="199.9" r="1.12" fill="#5a2850"/>
<circle cx="273.4" cy="229.3" r="1.14" fill="#2a1030"/>
<circle cx="243.1" cy="178.3" r="0.90" fill="#5a2850"/>
<circle cx="278.4" cy="195.0" r="0.91" fill="#5a2850"/>
<circle cx="263.0" cy="194.2" r="0.76" fill="#5a2850"/>
<circle cx="301.7" cy="186.6" r="0.81" fill="#4a2040"/>
<circle cx="273.5" cy="211.3" r="1.00" fill="#5a2850"/>
<circle cx="247.9" cy="203.9" r="1.03" fill="#341434"/>
<circle cx="262.6" cy="220.2" r="0.79" fill="#341434"/>
<circle cx="301.7" cy="208.9" r="0.91" fill="#24102a"/>
<circle cx="296.8" cy="181.7" r="0.90" fill="#2a1030"/>
<circle cx="247.5" cy="177.2" r="1.11" fill="#2a1030"/>
<circle cx="238.5" cy="200.1" r="0.79" fill="#4a2040"/>
<circle cx="227.2" cy="219.0" r="0.64" fill="#3a1838"/>
<circle cx="256.9" cy="186.0" r="1.10" fill="#2a1030"/>
<circle cx="258.9" cy="219.8" r="0.65" fill="#24102a"/>
<circle cx="273.8" cy="235.3" r="1.08" fill="#2a1030"/>
<circle cx="257.3" cy="207.6" r="0.64" fill="#d8a0c4"/>
<circle cx="224.5" cy="236.2" r="1.09" fill="#2a1030"/>
<circle cx="233.4" cy="195.9" r="0.78" fill="#5a2850"/>
<circle cx="301.3" cy="238.5" r="1.12" fill="#4a2040"/>
<circle cx="294.6" cy="235.9" r="0.61" fill="#d8a0c4"/>
<circle cx="289.2" cy="239.8" r="0.91" fill="#24102a"/>
<circle cx="300.9" cy="182.4" r="0.89" fill="#3a1838"/>
<circle cx="231.2" cy="195.8" r="0.77" fill="#3a1838"/>
<circle cx="257.0" cy="186.4" r="0.70" fill="#2a1030"/>
<circle cx="222.1" cy="181.3" r="1.04" fill="#e6c0d8"/>
<circle cx="292.4" cy="202.7" r="0.78" fill="#24102a"/>
<circle cx="255.1" cy="233.6" r="0.73" fill="#3a1838"/>
<circle cx="271.5" cy="210.1" r="0.78" fill="#24102a"/>
<circle cx="260.4" cy="191.8" r="1.09" fill="#4a2040"/>
<circle cx="239.0" cy="190.3" r="0.85" fill="#341434"/>
<circle cx="288.2" cy="198.0" r="0.73" fill="#5a2850"/>
<circle cx="272.3" cy="213.2" r="0.92" fill="#3a1838"/>
<circle cx="237.6" cy="191.6" r="0.77" fill="#24102a"/>
<circle cx="284.5" cy="189.9" r="0.62" fill="#341434"/>
<circle cx="267.6" cy="182.0" r="1.02" fill="#341434"/>
<circle cx="259.3" cy="179.8" r="0.91" fill="#4a2040"/>
<circle cx="253.3" cy="199.5" r="1.10" fill="#e6c0d8"/>
<circle cx="306.5" cy="203.4" r="0.97" fill="#341434"/>
<circle cx="250.6" cy="226.8" r="0.81" fill="#5a2850"/>
<circle cx="269.5" cy="236.5" r="0.64" fill="#3a1838"/>
<circle cx="226.4" cy="179.1" r="1.12" fill="#e6c0d8"/>
<circle cx="299.3" cy="186.0" r="0.71" fill="#d8a0c4"/>
<circle cx="303.2" cy="235.7" r="0.79" fill="#4a2040"/>
<circle cx="234.0" cy="222.0" r="1.12" fill="#341434"/>
<circle cx="242.1" cy="221.2" r="0.73" fill="#d8a0c4"/>
<circle cx="253.0" cy="222.8" r="1.11" fill="#4a2040"/>
<circle cx="301.3" cy="181.5" r="0.70" fill="#24102a"/>
<circle cx="279.2" cy="184.8" r="0.78" fill="#2a1030"/>
<circle cx="245.1" cy="209.9" r="1.05" fill="#d8a0c4"/>
<circle cx="286.4" cy="210.2" r="1.12" fill="#2a1030"/>
<circle cx="277.2" cy="178.0" r="1.11" fill="#4a2040"/>
<circle cx="235.5" cy="197.8" r="0.91" fill="#5a2850"/>
<circle cx="262.9" cy="233.3" r="0.93" fill="#24102a"/>
<circle cx="273.0" cy="230.3" r="0.86" fill="#341434"/>
<circle cx="234.5" cy="206.6" r="0.97" fill="#d8a0c4"/>
<circle cx="286.4" cy="202.2" r="0.63" fill="#4a2040"/>
<circle cx="225.8" cy="202.3" r="1.05" fill="#3a1838"/>
<circle cx="224.0" cy="203.7" r="1.13" fill="#2a1030"/>
<circle cx="261.3" cy="188.5" r="0.61" fill="#5a2850"/>
<circle cx="304.1" cy="198.2" r="1.07" fill="#24102a"/>
<circle cx="280.1" cy="192.8" r="1.01" fill="#4a2040"/>
<circle cx="252.1" cy="232.7" r="0.92" fill="#e6c0d8"/>
<circle cx="258.3" cy="214.0" r="0.74" fill="#d8a0c4"/>
<circle cx="241.7" cy="236.0" r="1.07" fill="#4a2040"/>
<circle cx="261.6" cy="212.4" r="1.11" fill="#4a2040"/>
<circle cx="300.9" cy="196.8" r="0.91" fill="#e6c0d8"/>
<circle cx="235.3" cy="236.7" r="0.76" fill="#2a1030"/>
<circle cx="275.6" cy="177.2" r="0.86" fill="#2a1030"/>
<circle cx="264.0" cy="235.1" r="0.88" fill="#e6c0d8"/>
<circle cx="279.9" cy="218.8" r="0.82" fill="#d8a0c4"/>
<circle cx="270.5" cy="216.8" r="0.85" fill="#2a1030"/>
<circle cx="249.0" cy="217.3" r="0.63" fill="#4a2040"/>
<circle cx="304.0" cy="194.6" r="0.84" fill="#2a1030"/>
<circle cx="245.7" cy="180.2" r="0.92" fill="#e6c0d8"/>
<circle cx="289.4" cy="193.0" r="1.10" fill="#2a1030"/>
<circle cx="258.0" cy="212.0" r="1.12" fill="#d8a0c4"/>
<circle cx="294.6" cy="186.5" r="0.77" fill="#24102a"/>
<circle cx="300.3" cy="217.7" r="0.98" fill="#d8a0c4"/>
<circle cx="289.9" cy="238.7" r="1.10" fill="#341434"/>
<circle cx="289.4" cy="221.8" r="1.05" fill="#4a2040"/>
<circle cx="231.9" cy="207.0" r="0.99" fill="#3a1838"/>
<circle cx="299.7" cy="178.4" r="0.88" fill="#24102a"/>
<circle cx="261.8" cy="217.6" r="0.97" fill="#e6c0d8"/>
<circle cx="300.8" cy="217.6" r="0.64" fill="#4a2040"/>
<circle cx="231.2" cy="238.9" r="1.08" fill="#5a2850"/>
<circle cx="243.5" cy="215.5" r="1.03" fill="#5a2850"/>
<circle cx="305.2" cy="216.2" r="0.67" fill="#3a1838"/>
<circle cx="258.9" cy="202.7" r="0.82" fill="#3a1838"/>
<circle cx="270.1" cy="236.4" r="0.95" fill="#d8a0c4"/>
<circle cx="241.0" cy="221.8" r="0.62" fill="#4a2040"/>
<circle cx="264.2" cy="238.7" r="0.73" fill="#2a1030"/>
<circle cx="280.7" cy="209.5" r="0.77" fill="#5a2850"/>
<circle cx="280.4" cy="178.7" r="0.75" fill="#2a1030"/>
<circle cx="249.9" cy="235.4" r="1.10" fill="#5a2850"/>
<circle cx="267.0" cy="213.6" r="0.77" fill="#d8a0c4"/>
<circle cx="287.4" cy="198.0" r="0.75" fill="#d8a0c4"/>
<circle cx="227.6" cy="183.1" r="0.99" fill="#3a1838"/>
<circle cx="262.0" cy="223.9" r="0.74" fill="#341434"/>
<circle cx="300.8" cy="199.9" r="0.84" fill="#e6c0d8"/>
<circle cx="227.9" cy="180.3" r="0.80" fill="#e6c0d8"/>
<circle cx="240.2" cy="235.0" r="1.03" fill="#2a1030"/>
<circle cx="232.3" cy="204.3" r="0.98" fill="#5a2850"/>
<circle cx="271.5" cy="203.4" r="0.61" fill="#2a1030"/>
<circle cx="238.0" cy="225.3" r="0.63" fill="#4a2040"/>
<circle cx="237.5" cy="238.0" r="1.03" fill="#24102a"/>
<circle cx="244.7" cy="227.2" r="0.62" fill="#3a1838"/>
<circle cx="260.6" cy="204.2" r="0.66" fill="#d8a0c4"/>
<circle cx="238.4" cy="192.9" r="1.10" fill="#2a1030"/>
<circle cx="222.2" cy="206.3" r="0.94" fill="#4a2040"/>
<circle cx="306.1" cy="208.4" r="1.03" fill="#341434"/>
<circle cx="256.1" cy="217.9" r="0.97" fill="#e6c0d8"/>
<circle cx="225.9" cy="221.8" r="0.67" fill="#3a1838"/>
<circle cx="270.2" cy="202.4" r="0.81" fill="#e6c0d8"/>
<circle cx="283.7" cy="216.0" r="0.71" fill="#341434"/>
<circle cx="294.0" cy="207.7" r="0.92" fill="#24102a"/>
<circle cx="300.3" cy="217.2" r="0.78" fill="#3a1838"/>
<circle cx="240.7" cy="231.5" r="0.88" fill="#e6c0d8"/>
<circle cx="284.5" cy="231.8" r="0.71" fill="#3a1838"/>
<circle cx="288.9" cy="221.6" r="0.85" fill="#24102a"/>
<circle cx="278.0" cy="189.9" r="0.84" fill="#341434"/>
<circle cx="274.7" cy="202.9" r="0.77" fill="#2a1030"/>
<circle cx="260.5" cy="206.8" r="1.08" fill="#d8a0c4"/>
<circle cx="277.7" cy="219.7" r="0.88" fill="#e6c0d8"/>
<circle cx="296.9" cy="181.7" r="0.72" fill="#341434"/>
<circle cx="283.2" cy="236.8" r="0.96" fill="#d8a0c4"/>
<circle cx="258.8" cy="218.2" r="0.72" fill="#2a1030"/>
<circle cx="267.6" cy="238.7" r="0.79" fill="#e6c0d8"/>
<circle cx="223.4" cy="203.2" r="1.02" fill="#5a2850"/>
<circle cx="229.6" cy="200.9" r="1.08" fill="#5a2850"/>
<circle cx="306.0" cy="189.4" r="1.10" fill="#3a1838"/>
<circle cx="264.1" cy="180.3" r="0.72" fill="#e6c0d8"/>
<circle cx="227.6" cy="238.6" r="0.99" fill="#24102a"/>
<circle cx="285.1" cy="213.5" r="0.74" fill="#e6c0d8"/>
<circle cx="268.0" cy="239.2" r="0.68" fill="#24102a"/>
<circle cx="290.4" cy="209.1" r="0.61" fill="#24102a"/>
<circle cx="266.6" cy="208.2" r="0.69" fill="#d8a0c4"/>
<circle cx="278.0" cy="195.2" r="1.04" fill="#e6c0d8"/>
<circle cx="279.1" cy="183.2" r="0.63" fill="#d8a0c4"/>
<circle cx="266.8" cy="239.4" r="0.91" fill="#5a2850"/>
<circle cx="251.8" cy="224.8" r="0.64" fill="#5a2850"/>
<circle cx="268.1" cy="187.6" r="0.80" fill="#341434"/>
<circle cx="254.1" cy="194.2" r="0.80" fill="#3a1838"/>
<circle cx="267.6" cy="202.1" r="0.82" fill="#5a2850"/>
<circle cx="274.9" cy="229.6" r="0.94" fill="#341434"/>
<circle cx="237.0" cy="184.4" r="0.65" fill="#3a1838"/>
<circle cx="284.4" cy="193.7" r="0.87" fill="#3a1838"/>
<circle cx="278.2" cy="195.3" r="0.78" fill="#24102a"/>
<circle cx="281.1" cy="198.2" r="1.08" fill="#341434"/>
<circle cx="293.5" cy="221.2" r="0.62" fill="#5a2850"/>
<circle cx="273.5" cy="239.2" r="0.72" fill="#341434"/>
<circle cx="272.9" cy="197.1" r="0.96" fill="#24102a"/>
<circle cx="288.6" cy="232.9" r="0.70" fill="#4a2040"/>
<circle cx="299.3" cy="219.7" r="0.69" fill="#24102a"/>
<circle cx="273.1" cy="198.9" r="1.02" fill="#24102a"/>
<circle cx="295.7" cy="191.3" r="0.80" fill="#341434"/>
<circle cx="263.7" cy="219.1" r="1.07" fill="#2a1030"/>
<circle cx="286.8" cy="219.9" r="1.12" fill="#3a1838"/>
<circle cx="230.0" cy="179.8" r="0.79" fill="#d8a0c4"/>
<circle cx="272.7" cy="231.3" r="0.63" fill="#2a1030"/>
<circle cx="257.3" cy="234.3" r="0.94" fill="#5a2850"/>
<circle cx="225.7" cy="186.6" r="0.97" fill="#3a1838"/>
<circle cx="261.5" cy="195.2" r="0.91" fill="#24102a"/>
<circle cx="243.1" cy="177.2" r="1.11" fill="#5a2850"/>
<circle cx="244.0" cy="178.0" r="0.77" fill="#4a2040"/>
<circle cx="244.7" cy="184.1" r="1.07" fill="#d8a0c4"/>
<circle cx="279.2" cy="189.0" r="0.90" fill="#d8a0c4"/>
<circle cx="280.5" cy="208.5" r="0.83" fill="#e6c0d8"/>
<circle cx="252.6" cy="193.7" r="0.84" fill="#341434"/>
<circle cx="246.1" cy="195.7" r="0.82" fill="#3a1838"/>
<circle cx="274.4" cy="195.0" r="0.71" fill="#d8a0c4"/>
<circle cx="280.4" cy="223.9" r="0.85" fill="#e6c0d8"/>
<circle cx="264.4" cy="191.3" r="0.92" fill="#341434"/>
<circle cx="228.3" cy="192.6" r="1.13" fill="#e6c0d8"/>
<circle cx="265.5" cy="196.5" r="1.07" fill="#24102a"/>
<circle cx="305.7" cy="181.8" r="1.15" fill="#3a1838"/>
<circle cx="295.2" cy="227.3" r="0.99" fill="#2a1030"/>
<circle cx="259.8" cy="239.3" r="1.09" fill="#3a1838"/>
<circle cx="271.2" cy="187.9" r="0.86" fill="#341434"/>
<circle cx="279.0" cy="190.7" r="0.85" fill="#24102a"/>
<circle cx="305.6" cy="235.1" r="0.94" fill="#3a1838"/>
<circle cx="240.6" cy="218.4" r="0.72" fill="#2a1030"/>
<circle cx="242.5" cy="196.6" r="0.70" fill="#2a1030"/>
<circle cx="304.5" cy="188.6" r="0.70" fill="#341434"/>
<circle cx="286.1" cy="180.6" r="0.62" fill="#4a2040"/>
<circle cx="288.8" cy="217.0" r="1.01" fill="#d8a0c4"/>
<circle cx="276.5" cy="239.0" r="1.04" fill="#4a2040"/>
<circle cx="249.0" cy="184.3" r="0.60" fill="#3a1838"/>
<circle cx="295.2" cy="196.2" r="1.08" fill="#5a2850"/>
<circle cx="254.8" cy="217.8" r="0.83" fill="#3a1838"/>
<circle cx="242.3" cy="194.6" r="1.10" fill="#2a1030"/>
<circle cx="227.6" cy="188.7" r="0.73" fill="#5a2850"/>
<circle cx="301.1" cy="218.9" r="0.67" fill="#e6c0d8"/>
<circle cx="301.0" cy="197.2" r="0.60" fill="#e6c0d8"/>
<circle cx="263.6" cy="201.2" r="0.89" fill="#3a1838"/>
<circle cx="231.9" cy="199.7" r="0.93" fill="#24102a"/>
<circle cx="254.9" cy="236.4" r="0.95" fill="#4a2040"/>
<circle cx="239.2" cy="177.7" r="0.96" fill="#341434"/>
<circle cx="259.9" cy="207.5" r="0.62" fill="#3a1838"/>
<circle cx="233.0" cy="201.2" r="0.72" fill="#e6c0d8"/>
<circle cx="274.4" cy="224.0" r="1.02" fill="#3a1838"/>
<circle cx="251.6" cy="181.2" r="0.75" fill="#3a1838"/>
<circle cx="297.7" cy="192.2" r="0.96" fill="#4a2040"/>
<circle cx="229.3" cy="179.9" r="1.07" fill="#3a1838"/>
<circle cx="272.1" cy="191.5" r="0.70" fill="#d8a0c4"/>
<circle cx="231.5" cy="189.6" r="0.95" fill="#4a2040"/>
<circle cx="228.0" cy="229.1" r="1.04" fill="#e6c0d8"/>
<circle cx="234.6" cy="212.8" r="0.88" fill="#e6c0d8"/>
<circle cx="222.5" cy="196.4" r="1.14" fill="#3a1838"/>
<circle cx="238.3" cy="198.2" r="0.61" fill="#e6c0d8"/>
<circle cx="246.5" cy="195.0" r="0.97" fill="#4a2040"/>
<circle cx="254.4" cy="221.6" r="0.80" fill="#2a1030"/>
<circle cx="298.7" cy="179.6" r="0.76" fill="#5a2850"/>
<circle cx="242.7" cy="239.8" r="0.65" fill="#4a2040"/>
<circle cx="275.1" cy="231.5" r="0.79" fill="#5a2850"/>
<circle cx="231.5" cy="238.7" r="1.01" fill="#24102a"/>
<circle cx="271.9" cy="219.6" r="0.92" fill="#5a2850"/>
<circle cx="306.4" cy="229.9" r="0.96" fill="#4a2040"/>
<circle cx="243.9" cy="208.3" r="0.65" fill="#3a1838"/>
<circle cx="258.7" cy="213.5" r="0.71" fill="#e6c0d8"/>
<circle cx="238.2" cy="205.2" r="1.07" fill="#3a1838"/>
<circle cx="244.2" cy="200.0" r="0.98" fill="#341434"/>
<circle cx="267.8" cy="193.6" r="0.81" fill="#24102a"/>
<circle cx="284.0" cy="184.3" r="0.98" fill="#24102a"/>
<circle cx="276.2" cy="206.6" r="0.88" fill="#3a1838"/>
<circle cx="227.5" cy="222.1" r="0.73" fill="#d8a0c4"/>
<circle cx="237.0" cy="206.2" r="0.86" fill="#e6c0d8"/>
<circle cx="244.7" cy="212.4" r="0.73" fill="#d8a0c4"/>
<circle cx="267.5" cy="216.0" r="1.10" fill="#341434"/>
<circle cx="232.6" cy="214.7" r="0.98" fill="#e6c0d8"/>
<circle cx="257.0" cy="188.5" r="1.00" fill="#24102a"/>
<circle cx="303.8" cy="180.7" r="0.65" fill="#3a1838"/>
<circle cx="233.8" cy="219.6" r="0.74" fill="#5a2850"/>
<circle cx="268.3" cy="230.9" r="0.80" fill="#2a1030"/>
<circle cx="226.8" cy="217.8" r="0.86" fill="#2a1030"/>
<circle cx="224.5" cy="187.2" r="0.64" fill="#24102a"/>
<circle cx="232.8" cy="215.0" r="1.05" fill="#24102a"/>
<circle cx="299.6" cy="200.5" r="0.96" fill="#24102a"/>
<circle cx="296.7" cy="211.9" r="0.92" fill="#3a1838"/>
<circle cx="279.2" cy="238.4" r="0.76" fill="#5a2850"/>
<circle cx="275.5" cy="206.5" r="0.61" fill="#d8a0c4"/>
<circle cx="294.0" cy="207.4" r="1.10" fill="#4a2040"/>
<circle cx="265.1" cy="180.7" r="0.67" fill="#24102a"/>
<circle cx="279.6" cy="239.4" r="1.04" fill="#5a2850"/>
<circle cx="228.2" cy="215.3" r="0.83" fill="#5a2850"/>
<circle cx="255.3" cy="235.0" r="0.87" fill="#e6c0d8"/>
<circle cx="279.6" cy="230.9" r="0.64" fill="#2a1030"/>
<circle cx="225.9" cy="202.2" r="0.64" fill="#4a2040"/>
<circle cx="259.5" cy="212.8" r="0.65" fill="#341434"/>
<circle cx="286.5" cy="205.0" r="0.76" fill="#24102a"/>
<circle cx="254.4" cy="234.4" r="1.00" fill="#3a1838"/>
<circle cx="296.9" cy="207.4" r="0.67" fill="#4a2040"/>
<circle cx="231.6" cy="232.3" r="1.00" fill="#4a2040"/>
<circle cx="240.1" cy="205.1" r="0.93" fill="#3a1838"/>
<circle cx="245.8" cy="180.1" r="0.99" fill="#e6c0d8"/>
<circle cx="287.9" cy="183.9" r="0.62" fill="#24102a"/>
<circle cx="261.7" cy="233.7" r="1.03" fill="#341434"/>
<circle cx="292.0" cy="234.4" r="0.70" fill="#d8a0c4"/>
<circle cx="247.4" cy="234.8" r="0.71" fill="#2a1030"/>
<circle cx="257.4" cy="186.9" r="0.85" fill="#4a2040"/>
<circle cx="249.1" cy="222.6" r="1.10" fill="#3a1838"/>
<circle cx="291.0" cy="192.0" r="1.06" fill="#5a2850"/>
<circle cx="243.0" cy="211.8" r="0.77" fill="#4a2040"/>
<circle cx="272.3" cy="193.5" r="0.73" fill="#e6c0d8"/>
<circle cx="295.4" cy="236.0" r="0.72" fill="#2a1030"/>
<circle cx="232.0" cy="183.0" r="0.69" fill="#e6c0d8"/>
<circle cx="263.9" cy="217.6" r="0.80" fill="#24102a"/>
<circle cx="228.5" cy="191.2" r="0.93" fill="#341434"/>
<circle cx="232.9" cy="221.3" r="0.93" fill="#e6c0d8"/>
<circle cx="256.4" cy="217.8" r="0.81" fill="#e6c0d8"/>
<circle cx="288.1" cy="184.8" r="0.74" fill="#d8a0c4"/>
<circle cx="251.7" cy="230.3" r="1.04" fill="#4a2040"/>
<circle cx="293.3" cy="201.3" r="0.95" fill="#5a2850"/>
<circle cx="254.5" cy="212.8" r="1.13" fill="#4a2040"/>
<circle cx="299.8" cy="196.1" r="0.81" fill="#2a1030"/>
<circle cx="281.1" cy="238.8" r="0.89" fill="#2a1030"/>
<circle cx="267.1" cy="226.0" r="0.87" fill="#2a1030"/>
<circle cx="296.2" cy="199.2" r="0.86" fill="#341434"/>
<circle cx="289.6" cy="235.8" r="1.04" fill="#5a2850"/>
<circle cx="283.6" cy="178.9" r="0.95" fill="#24102a"/>
<circle cx="264.0" cy="177.7" r="0.83" fill="#2a1030"/>
<circle cx="288.9" cy="215.0" r="0.61" fill="#d8a0c4"/>
<circle cx="261.5" cy="207.7" r="0.78" fill="#e6c0d8"/>
<circle cx="259.0" cy="193.2" r="0.67" fill="#2a1030"/>
<circle cx="232.6" cy="227.9" r="0.65" fill="#2a1030"/>
<circle cx="264.6" cy="188.3" r="0.94" fill="#5a2850"/>
<circle cx="305.8" cy="213.4" r="1.09" fill="#2a1030"/>
<circle cx="286.0" cy="217.7" r="0.86" fill="#24102a"/>
<circle cx="278.6" cy="187.0" r="0.89" fill="#e6c0d8"/>
<circle cx="290.1" cy="223.9" r="1.09" fill="#d8a0c4"/>
<circle cx="229.8" cy="186.1" r="0.63" fill="#4a2040"/>
<circle cx="303.3" cy="226.0" r="0.66" fill="#4a2040"/>
<circle cx="261.3" cy="212.6" r="0.75" fill="#24102a"/>
<circle cx="230.7" cy="198.1" r="0.83" fill="#d8a0c4"/>
<circle cx="268.3" cy="182.9" r="1.09" fill="#2a1030"/>
<circle cx="251.4" cy="217.8" r="0.97" fill="#4a2040"/>
<circle cx="256.9" cy="209.8" r="0.71" fill="#d8a0c4"/>
<circle cx="225.5" cy="180.7" r="0.86" fill="#4a2040"/>
<circle cx="272.4" cy="212.7" r="0.90" fill="#d8a0c4"/>
<circle cx="222.3" cy="239.2" r="1.06" fill="#e6c0d8"/>
<circle cx="274.9" cy="207.0" r="0.96" fill="#d8a0c4"/>
<circle cx="237.1" cy="224.6" r="1.05" fill="#341434"/>
<circle cx="276.6" cy="200.0" r="0.84" fill="#2a1030"/>
<circle cx="298.9" cy="206.8" r="0.67" fill="#24102a"/>
<circle cx="229.7" cy="194.9" r="1.07" fill="#24102a"/>
<circle cx="258.9" cy="205.8" r="0.86" fill="#24102a"/>
<circle cx="289.1" cy="208.9" r="1.12" fill="#24102a"/>
<circle cx="304.1" cy="221.0" r="0.68" fill="#e6c0d8"/>
<circle cx="269.5" cy="235.5" r="0.90" fill="#e6c0d8"/>
<circle cx="278.5" cy="191.1" r="0.79" fill="#2a1030"/>
<circle cx="248.8" cy="200.2" r="0.77" fill="#4a2040"/>
<circle cx="227.0" cy="220.3" r="0.94" fill="#24102a"/>
<circle cx="236.9" cy="183.6" r="0.61" fill="#341434"/>
<circle cx="237.7" cy="228.5" r="1.12" fill="#341434"/>
<circle cx="238.0" cy="196.9" r="1.02" fill="#5a2850"/>
<circle cx="225.7" cy="207.8" r="0.65" fill="#2a1030"/>
<circle cx="289.1" cy="193.5" r="1.05" fill="#5a2850"/>
<circle cx="272.8" cy="237.4" r="1.12" fill="#4a2040"/>
<circle cx="294.0" cy="197.7" r="1.11" fill="#341434"/>
<circle cx="232.2" cy="196.1" r="0.84" fill="#24102a"/>
<circle cx="239.2" cy="233.6" r="1.08" fill="#3a1838"/>
<circle cx="226.3" cy="195.0" r="0.76" fill="#e6c0d8"/>
<circle cx="255.7" cy="181.9" r="1.07" fill="#e6c0d8"/>
<circle cx="228.0" cy="192.5" r="1.00" fill="#24102a"/>
<circle cx="259.0" cy="208.5" r="1.03" fill="#5a2850"/>
<circle cx="256.8" cy="211.4" r="0.82" fill="#5a2850"/>
<circle cx="253.2" cy="205.7" r="0.62" fill="#d8a0c4"/>
<circle cx="289.3" cy="182.8" r="0.94" fill="#3a1838"/>
<circle cx="247.1" cy="195.8" r="0.66" fill="#3a1838"/>
<circle cx="289.9" cy="214.5" r="1.00" fill="#3a1838"/>
<circle cx="252.4" cy="205.0" r="0.89" fill="#3a1838"/>
<circle cx="257.4" cy="202.3" r="1.06" fill="#d8a0c4"/>
<circle cx="230.2" cy="201.3" r="0.75" fill="#e6c0d8"/>
<circle cx="289.0" cy="229.6" r="1.09" fill="#4a2040"/>
<circle cx="278.9" cy="206.1" r="0.89" fill="#3a1838"/>
<circle cx="292.4" cy="229.1" r="0.90" fill="#3a1838"/>
<circle cx="272.6" cy="185.4" r="0.60" fill="#4a2040"/>
<circle cx="297.8" cy="194.0" r="1.09" fill="#d8a0c4"/>
<circle cx="231.5" cy="216.9" r="1.05" fill="#e6c0d8"/>
<circle cx="222.6" cy="191.2" r="1.00" fill="#5a2850"/>
<circle cx="303.2" cy="202.8" r="0.85" fill="#3a1838"/>
<circle cx="271.7" cy="221.1" r="0.64" fill="#d8a0c4"/>
<circle cx="262.5" cy="198.3" r="0.66" fill="#e6c0d8"/>
<circle cx="301.0" cy="184.8" r="0.85" fill="#5a2850"/>
<circle cx="268.7" cy="208.6" r="0.70" fill="#e6c0d8"/>
<circle cx="256.7" cy="206.8" r="0.84" fill="#5a2850"/>
<circle cx="301.4" cy="235.7" r="1.10" fill="#341434"/>
<circle cx="281.8" cy="189.5" r="1.10" fill="#d8a0c4"/>
<circle cx="273.2" cy="199.0" r="1.15" fill="#5a2850"/>
<circle cx="277.2" cy="185.2" r="1.11" fill="#3a1838"/>
<circle cx="277.6" cy="183.3" r="0.67" fill="#2a1030"/>
<circle cx="297.9" cy="193.6" r="0.66" fill="#5a2850"/>
<circle cx="304.1" cy="222.1" r="0.86" fill="#24102a"/>
<circle cx="286.8" cy="209.1" r="0.75" fill="#24102a"/>
<circle cx="284.7" cy="185.6" r="0.74" fill="#341434"/>
<circle cx="236.7" cy="223.9" r="0.66" fill="#3a1838"/>
<circle cx="300.2" cy="230.0" r="1.07" fill="#24102a"/>
<circle cx="269.9" cy="181.7" r="1.00" fill="#3a1838"/>
<circle cx="225.7" cy="180.9" r="1.00" fill="#d8a0c4"/>
<circle cx="226.0" cy="213.9" r="0.98" fill="#341434"/>
<circle cx="278.2" cy="220.7" r="0.80" fill="#2a1030"/>
<circle cx="286.3" cy="200.9" r="0.99" fill="#e6c0d8"/>
<circle cx="261.1" cy="189.9" r="0.85" fill="#2a1030"/>
<circle cx="235.2" cy="239.2" r="1.11" fill="#341434"/>
<circle cx="233.6" cy="238.0" r="1.05" fill="#4a2040"/>
<circle cx="279.2" cy="178.3" r="1.08" fill="#4a2040"/>
<circle cx="283.8" cy="215.7" r="0.79" fill="#24102a"/>
<circle cx="276.0" cy="199.0" r="1.14" fill="#3a1838"/>
<circle cx="278.4" cy="215.2" r="1.04" fill="#d8a0c4"/>
<circle cx="260.8" cy="177.9" r="0.94" fill="#4a2040"/>
<circle cx="294.9" cy="215.6" r="0.80" fill="#3a1838"/>
<circle cx="276.5" cy="197.4" r="0.87" fill="#d8a0c4"/>
<circle cx="272.1" cy="230.7" r="1.02" fill="#341434"/>
<circle cx="261.1" cy="233.5" r="0.82" fill="#3a1838"/>
<circle cx="268.8" cy="234.8" r="0.63" fill="#e6c0d8"/>
<circle cx="248.7" cy="181.1" r="1.08" fill="#5a2850"/>
<circle cx="284.9" cy="223.9" r="0.65" fill="#e6c0d8"/>
<circle cx="252.2" cy="179.9" r="0.94" fill="#341434"/>
<circle cx="270.7" cy="196.0" r="0.78" fill="#5a2850"/>
<circle cx="257.2" cy="220.4" r="0.79" fill="#5a2850"/>
<circle cx="281.0" cy="199.5" r="0.82" fill="#5a2850"/>
<circle cx="302.4" cy="225.9" r="1.04" fill="#4a2040"/>
<circle cx="295.2" cy="223.7" r="0.63" fill="#4a2040"/>
<circle cx="242.9" cy="183.1" r="1.06" fill="#4a2040"/>
<circle cx="291.8" cy="183.8" r="0.84" fill="#d8a0c4"/>
<circle cx="233.4" cy="238.0" r="0.88" fill="#5a2850"/>
<circle cx="227.0" cy="204.7" r="1.05" fill="#3a1838"/>
<circle cx="243.9" cy="190.7" r="0.77" fill="#e6c0d8"/>
<circle cx="249.0" cy="218.9" r="1.10" fill="#341434"/>
<circle cx="297.1" cy="235.1" r="0.74" fill="#24102a"/>
<circle cx="229.6" cy="213.7" r="0.64" fill="#2a1030"/>
<circle cx="265.3" cy="220.4" r="0.72" fill="#3a1838"/>
<circle cx="291.7" cy="185.3" r="1.06" fill="#d8a0c4"/>
<circle cx="294.4" cy="208.2" r="0.85" fill="#5a2850"/>
<circle cx="225.3" cy="210.1" r="1.11" fill="#2a1030"/>
<circle cx="249.7" cy="188.1" r="0.83" fill="#4a2040"/>
<circle cx="256.9" cy="210.1" r="0.75" fill="#5a2850"/>
<circle cx="280.1" cy="195.5" r="0.65" fill="#e6c0d8"/>
<circle cx="253.0" cy="189.0" r="0.60" fill="#2a1030"/>
<circle cx="285.5" cy="238.9" r="0.92" fill="#3a1838"/>
<circle cx="261.9" cy="234.1" r="0.99" fill="#24102a"/>
<circle cx="274.6" cy="237.2" r="0.76" fill="#341434"/>
<circle cx="229.1" cy="178.1" r="1.07" fill="#4a2040"/>
<circle cx="263.7" cy="203.5" r="0.80" fill="#24102a"/>
<circle cx="247.9" cy="188.9" r="0.84" fill="#d8a0c4"/>
<circle cx="224.5" cy="215.4" r="1.08" fill="#3a1838"/>
<circle cx="242.6" cy="184.9" r="0.78" fill="#341434"/>
<circle cx="242.7" cy="186.8" r="1.13" fill="#2a1030"/>
<circle cx="300.0" cy="211.1" r="0.63" fill="#24102a"/>
<circle cx="293.9" cy="190.6" r="0.69" fill="#3a1838"/>
<circle cx="222.2" cy="234.8" r="1.08" fill="#24102a"/>
<circle cx="225.9" cy="236.7" r="0.73" fill="#341434"/>
<circle cx="230.2" cy="210.7" r="0.63" fill="#d8a0c4"/>
<circle cx="230.4" cy="223.6" r="0.84" fill="#2a1030"/>
<circle cx="242.6" cy="201.8" r="1.04" fill="#3a1838"/>
<circle cx="268.0" cy="200.7" r="0.73" fill="#d8a0c4"/>
<circle cx="302.1" cy="220.8" r="0.72" fill="#341434"/>
<circle cx="232.6" cy="230.6" r="0.72" fill="#2a1030"/>
<circle cx="265.0" cy="198.7" r="1.07" fill="#2a1030"/>
<circle cx="226.4" cy="216.8" r="0.85" fill="#e6c0d8"/>
<circle cx="305.0" cy="191.9" r="0.63" fill="#d8a0c4"/>
<circle cx="301.6" cy="190.1" r="0.60" fill="#4a2040"/>
<circle cx="261.8" cy="198.8" r="1.07" fill="#d8a0c4"/>
<circle cx="257.2" cy="237.3" r="0.61" fill="#5a2850"/>
<circle cx="233.3" cy="214.4" r="0.95" fill="#4a2040"/>
<circle cx="271.5" cy="205.4" r="0.82" fill="#3a1838"/>
<circle cx="275.4" cy="187.1" r="1.09" fill="#d8a0c4"/>
<circle cx="296.9" cy="188.8" r="0.87" fill="#341434"/>
<circle cx="248.8" cy="189.7" r="0.84" fill="#d8a0c4"/>
<circle cx="262.0" cy="239.1" r="0.76" fill="#e6c0d8"/>
<circle cx="287.0" cy="237.9" r="0.76" fill="#341434"/>
<circle cx="296.6" cy="235.2" r="0.75" fill="#2a1030"/>
<circle cx="305.5" cy="233.0" r="0.91" fill="#4a2040"/>
<circle cx="268.9" cy="210.7" r="0.80" fill="#2a1030"/>
<circle cx="285.9" cy="207.2" r="0.71" fill="#2a1030"/>
<circle cx="294.1" cy="205.8" r="0.84" fill="#3a1838"/>
<circle cx="302.0" cy="184.7" r="0.94" fill="#4a2040"/>
<circle cx="279.4" cy="222.4" r="0.68" fill="#2a1030"/>
<circle cx="277.3" cy="183.8" r="0.66" fill="#2a1030"/>
<circle cx="273.5" cy="231.6" r="0.90" fill="#4a2040"/>
<circle cx="291.4" cy="234.7" r="0.94" fill="#3a1838"/>
<circle cx="223.9" cy="198.9" r="0.65" fill="#4a2040"/>
<circle cx="272.0" cy="193.3" r="0.63" fill="#24102a"/>
<circle cx="256.6" cy="235.6" r="0.71" fill="#341434"/>
<circle cx="239.9" cy="203.0" r="0.65" fill="#e6c0d8"/>
<circle cx="235.0" cy="178.0" r="0.92" fill="#341434"/>
<circle cx="237.7" cy="189.6" r="1.14" fill="#5a2850"/>
<circle cx="283.5" cy="212.4" r="0.74" fill="#341434"/>
<circle cx="243.8" cy="231.8" r="0.97" fill="#24102a"/>
<circle cx="236.3" cy="212.1" r="0.61" fill="#3a1838"/>
<circle cx="248.2" cy="184.1" r="0.62" fill="#341434"/>
<circle cx="242.4" cy="183.3" r="1.03" fill="#4a2040"/>
<circle cx="297.7" cy="206.5" r="0.70" fill="#3a1838"/>
<circle cx="292.0" cy="229.6" r="1.14" fill="#341434"/>
<circle cx="274.6" cy="213.7" r="0.78" fill="#e6c0d8"/>
<circle cx="273.0" cy="194.9" r="1.14" fill="#e6c0d8"/>
<circle cx="295.0" cy="222.4" r="0.72" fill="#3a1838"/>
<circle cx="242.5" cy="184.4" r="0.67" fill="#5a2850"/>
<circle cx="265.8" cy="215.2" r="0.90" fill="#4a2040"/>
<circle cx="269.1" cy="211.8" r="0.73" fill="#2a1030"/>
<circle cx="270.6" cy="196.7" r="0.66" fill="#5a2850"/>
<circle cx="223.8" cy="202.0" r="1.11" fill="#d8a0c4"/>
<circle cx="237.1" cy="226.7" r="0.65" fill="#341434"/>
<circle cx="279.7" cy="229.0" r="0.60" fill="#2a1030"/>
<circle cx="237.1" cy="222.1" r="0.92" fill="#d8a0c4"/>
<circle cx="261.8" cy="185.9" r="0.88" fill="#341434"/>
<circle cx="245.3" cy="183.3" r="1.11" fill="#5a2850"/>
<circle cx="274.1" cy="211.6" r="1.02" fill="#5a2850"/>
<circle cx="248.1" cy="225.1" r="0.87" fill="#4a2040"/>
<circle cx="252.1" cy="186.2" r="0.88" fill="#24102a"/>
<circle cx="274.5" cy="201.2" r="0.65" fill="#3a1838"/>
<circle cx="248.8" cy="224.4" r="1.07" fill="#341434"/>
<circle cx="288.1" cy="204.5" r="1.01" fill="#24102a"/>
<circle cx="278.4" cy="212.3" r="0.65" fill="#3a1838"/>
<circle cx="258.2" cy="238.1" r="0.86" fill="#4a2040"/>
<circle cx="255.1" cy="216.1" r="0.76" fill="#3a1838"/>
<circle cx="297.1" cy="188.2" r="0.99" fill="#4a2040"/>
<circle cx="269.9" cy="191.0" r="0.76" fill="#d8a0c4"/>
<circle cx="222.5" cy="238.6" r="1.10" fill="#d8a0c4"/>
<circle cx="228.6" cy="226.5" r="1.13" fill="#24102a"/>
<circle cx="253.2" cy="195.0" r="1.03" fill="#d8a0c4"/>
<circle cx="291.1" cy="177.2" r="0.91" fill="#e6c0d8"/>
<circle cx="249.3" cy="237.1" r="0.93" fill="#5a2850"/>
<circle cx="250.8" cy="209.4" r="0.92" fill="#341434"/>
<circle cx="263.2" cy="195.1" r="0.69" fill="#341434"/>
<circle cx="239.6" cy="191.5" r="0.79" fill="#5a2850"/>
<circle cx="261.4" cy="217.2" r="0.95" fill="#4a2040"/>
<circle cx="242.0" cy="238.5" r="0.90" fill="#24102a"/>
<circle cx="252.5" cy="204.4" r="1.14" fill="#d8a0c4"/>
<circle cx="279.8" cy="193.1" r="1.07" fill="#5a2850"/>
<circle cx="254.3" cy="239.9" r="0.82" fill="#e6c0d8"/>
<circle cx="270.8" cy="209.9" r="0.90" fill="#341434"/>
<circle cx="302.3" cy="223.8" r="0.65" fill="#2a1030"/>
<circle cx="223.3" cy="180.3" r="1.05" fill="#5a2850"/>
<circle cx="303.9" cy="226.7" r="1.11" fill="#2a1030"/>
<circle cx="293.3" cy="178.2" r="0.69" fill="#3a1838"/>
<circle cx="279.8" cy="201.7" r="0.86" fill="#341434"/>
<circle cx="271.9" cy="234.4" r="0.97" fill="#341434"/>
<circle cx="262.2" cy="199.8" r="1.00" fill="#e6c0d8"/>
<circle cx="300.1" cy="207.4" r="0.71" fill="#d8a0c4"/>
<circle cx="285.6" cy="207.6" r="0.73" fill="#3a1838"/>
<circle cx="229.7" cy="192.2" r="0.70" fill="#e6c0d8"/>
<circle cx="280.1" cy="191.3" r="0.98" fill="#5a2850"/>
<circle cx="285.4" cy="239.7" r="0.78" fill="#d8a0c4"/>
<circle cx="260.5" cy="209.1" r="0.70" fill="#2a1030"/>
<circle cx="284.8" cy="239.4" r="1.07" fill="#2a1030"/>
<circle cx="229.1" cy="211.2" r="0.71" fill="#5a2850"/>
<circle cx="289.2" cy="214.1" r="0.78" fill="#d8a0c4"/>
<circle cx="279.4" cy="239.7" r="0.94" fill="#d8a0c4"/>
<circle cx="282.6" cy="189.5" r="1.01" fill="#e6c0d8"/>
<circle cx="288.4" cy="192.6" r="1.03" fill="#2a1030"/>
<circle cx="294.6" cy="182.2" r="0.72" fill="#5a2850"/>
<circle cx="246.0" cy="236.4" r="0.84" fill="#d8a0c4"/>
<circle cx="243.9" cy="177.6" r="1.14" fill="#5a2850"/>
<circle cx="232.5" cy="218.5" r="1.11" fill="#e6c0d8"/>
<circle cx="248.8" cy="210.1" r="0.80" fill="#e6c0d8"/>
<circle cx="240.5" cy="199.3" r="1.04" fill="#5a2850"/>
<circle cx="265.3" cy="186.3" r="1.00" fill="#5a2850"/>
<circle cx="296.5" cy="178.1" r="0.78" fill="#e6c0d8"/>
<circle cx="282.4" cy="211.1" r="0.89" fill="#24102a"/>
<circle cx="268.6" cy="183.6" r="0.87" fill="#5a2850"/>
<circle cx="285.8" cy="204.0" r="0.93" fill="#2a1030"/>
<circle cx="284.4" cy="186.8" r="0.95" fill="#2a1030"/>
<circle cx="255.4" cy="230.3" r="1.01" fill="#4a2040"/>
<circle cx="298.7" cy="237.8" r="0.80" fill="#3a1838"/>
<circle cx="286.6" cy="208.2" r="0.69" fill="#d8a0c4"/>
<circle cx="227.7" cy="191.7" r="1.03" fill="#341434"/>
<circle cx="261.4" cy="178.1" r="0.91" fill="#4a2040"/>
<circle cx="266.4" cy="188.6" r="0.64" fill="#341434"/>
<circle cx="246.3" cy="226.7" r="0.87" fill="#e6c0d8"/>
<circle cx="275.7" cy="212.5" r="0.96" fill="#e6c0d8"/>
<circle cx="261.0" cy="229.3" r="0.80" fill="#341434"/>
<circle cx="305.3" cy="229.2" r="1.02" fill="#341434"/>
<circle cx="271.5" cy="181.4" r="0.76" fill="#4a2040"/>
<circle cx="268.4" cy="215.3" r="0.84" fill="#341434"/>
<circle cx="236.6" cy="233.8" r="0.60" fill="#4a2040"/>
<circle cx="248.9" cy="196.8" r="0.85" fill="#e6c0d8"/>
<circle cx="270.6" cy="233.7" r="0.61" fill="#e6c0d8"/>
<circle cx="259.9" cy="205.1" r="0.96" fill="#24102a"/>
<circle cx="239.6" cy="193.9" r="0.73" fill="#e6c0d8"/>
<circle cx="252.8" cy="177.7" r="0.75" fill="#d8a0c4"/>
<circle cx="267.5" cy="226.5" r="0.64" fill="#2a1030"/>
<circle cx="288.9" cy="194.6" r="0.61" fill="#4a2040"/>
<circle cx="227.8" cy="195.8" r="1.12" fill="#4a2040"/>
<circle cx="298.2" cy="233.9" r="1.02" fill="#341434"/>
<circle cx="263.9" cy="228.5" r="0.76" fill="#4a2040"/>
<circle cx="260.2" cy="225.3" r="1.14" fill="#e6c0d8"/>
<circle cx="262.5" cy="200.9" r="0.64" fill="#4a2040"/>
<circle cx="266.1" cy="224.2" r="0.64" fill="#24102a"/>
<circle cx="279.4" cy="179.9" r="1.12" fill="#d8a0c4"/>
<circle cx="241.4" cy="231.7" r="0.88" fill="#4a2040"/>
<circle cx="294.2" cy="211.7" r="0.74" fill="#d8a0c4"/>
<circle cx="242.5" cy="179.7" r="0.90" fill="#e6c0d8"/>
<circle cx="234.6" cy="192.9" r="0.67" fill="#3a1838"/>
<circle cx="276.1" cy="205.6" r="0.99" fill="#4a2040"/>
<circle cx="273.4" cy="218.5" r="0.76" fill="#24102a"/>
<circle cx="284.9" cy="221.7" r="0.71" fill="#e6c0d8"/>
<circle cx="279.7" cy="188.2" r="1.00" fill="#4a2040"/>
<circle cx="247.5" cy="200.2" r="0.74" fill="#5a2850"/>
<circle cx="252.6" cy="187.1" r="0.82" fill="#2a1030"/>
<circle cx="246.5" cy="226.5" r="0.75" fill="#4a2040"/>
<circle cx="258.2" cy="238.4" r="1.08" fill="#d8a0c4"/>
<circle cx="293.1" cy="234.6" r="1.11" fill="#e6c0d8"/>
<circle cx="236.2" cy="205.9" r="0.62" fill="#24102a"/>
<circle cx="255.8" cy="199.6" r="1.13" fill="#d8a0c4"/>
<circle cx="228.3" cy="203.6" r="0.87" fill="#3a1838"/>
<circle cx="275.4" cy="186.3" r="0.97" fill="#341434"/>
<circle cx="280.1" cy="186.8" r="0.92" fill="#d8a0c4"/>
<circle cx="242.5" cy="210.2" r="1.07" fill="#24102a"/>
<circle cx="251.4" cy="192.3" r="0.89" fill="#2a1030"/>
<circle cx="291.6" cy="216.9" r="1.03" fill="#2a1030"/>
<circle cx="274.6" cy="216.5" r="0.81" fill="#341434"/>
<circle cx="237.4" cy="195.1" r="0.66" fill="#3a1838"/>
<circle cx="279.3" cy="224.6" r="1.11" fill="#2a1030"/>
<circle cx="299.9" cy="207.5" r="0.89" fill="#d8a0c4"/>
<circle cx="235.5" cy="204.5" r="0.88" fill="#5a2850"/>
<circle cx="253.6" cy="178.7" r="1.05" fill="#e6c0d8"/>
<circle cx="238.2" cy="237.6" r="0.96" fill="#4a2040"/>
<circle cx="282.1" cy="205.7" r="1.07" fill="#5a2850"/>
<circle cx="306.5" cy="211.3" r="1.00" fill="#4a2040"/>
<circle cx="262.4" cy="187.8" r="0.95" fill="#d8a0c4"/>
<circle cx="306.4" cy="210.6" r="0.60" fill="#2a1030"/>
<circle cx="289.3" cy="201.6" r="0.78" fill="#341434"/>
<circle cx="288.0" cy="209.8" r="0.76" fill="#e6c0d8"/>
<circle cx="261.5" cy="200.0" r="0.99" fill="#e6c0d8"/>
<circle cx="303.3" cy="232.3" r="0.90" fill="#3a1838"/>
<circle cx="267.6" cy="219.9" r="0.66" fill="#e6c0d8"/>
<circle cx="289.2" cy="216.5" r="0.65" fill="#24102a"/>
<circle cx="260.0" cy="219.6" r="1.05" fill="#d8a0c4"/>
<circle cx="258.2" cy="210.1" r="0.63" fill="#341434"/>
<circle cx="284.6" cy="216.3" r="1.14" fill="#24102a"/>
<circle cx="284.0" cy="225.6" r="1.13" fill="#e6c0d8"/>
<circle cx="254.2" cy="224.6" r="0.85" fill="#d8a0c4"/>
<circle cx="236.3" cy="233.7" r="0.99" fill="#4a2040"/>
<circle cx="294.8" cy="208.9" r="0.98" fill="#2a1030"/>
<circle cx="296.4" cy="179.9" r="1.05" fill="#d8a0c4"/>
<circle cx="246.3" cy="180.1" r="1.09" fill="#24102a"/>
<circle cx="238.7" cy="227.1" r="0.88" fill="#3a1838"/>
<circle cx="293.3" cy="221.7" r="0.81" fill="#4a2040"/>
<circle cx="262.0" cy="183.9" r="1.07" fill="#4a2040"/>
<circle cx="260.9" cy="187.4" r="0.75" fill="#4a2040"/>
<circle cx="295.6" cy="197.0" r="1.10" fill="#3a1838"/>
<circle cx="278.3" cy="192.9" r="1.12" fill="#e6c0d8"/>
<circle cx="300.4" cy="186.0" r="0.67" fill="#d8a0c4"/>
<circle cx="303.4" cy="221.1" r="1.04" fill="#2a1030"/>
<circle cx="245.9" cy="182.4" r="0.98" fill="#3a1838"/>
<circle cx="231.9" cy="223.9" r="0.70" fill="#4a2040"/>
<circle cx="275.8" cy="181.7" r="0.80" fill="#2a1030"/>
<circle cx="275.2" cy="201.0" r="0.67" fill="#341434"/>
<circle cx="243.8" cy="225.4" r="1.08" fill="#e6c0d8"/>
<circle cx="281.3" cy="190.0" r="1.01" fill="#3a1838"/>
<circle cx="292.4" cy="236.1" r="1.14" fill="#3a1838"/>
<circle cx="284.5" cy="200.6" r="0.72" fill="#d8a0c4"/>
<circle cx="244.6" cy="181.8" r="1.07" fill="#5a2850"/>
<circle cx="298.8" cy="212.7" r="0.65" fill="#d8a0c4"/>
<circle cx="264.5" cy="238.5" r="0.85" fill="#d8a0c4"/>
<circle cx="237.2" cy="238.6" r="0.78" fill="#d8a0c4"/>
<circle cx="301.5" cy="194.1" r="1.09" fill="#24102a"/>
<circle cx="287.2" cy="195.7" r="0.85" fill="#341434"/>
<circle cx="236.2" cy="219.0" r="0.84" fill="#341434"/>
<circle cx="294.0" cy="238.2" r="1.10" fill="#5a2850"/>
<circle cx="268.6" cy="197.2" r="0.63" fill="#4a2040"/>
<circle cx="288.4" cy="181.0" r="0.75" fill="#d8a0c4"/>
<circle cx="224.0" cy="207.1" r="1.07" fill="#3a1838"/>
<circle cx="252.4" cy="204.5" r="0.72" fill="#2a1030"/>
<circle cx="263.4" cy="204.6" r="0.65" fill="#4a2040"/>
<circle cx="240.9" cy="186.8" r="0.87" fill="#24102a"/>
<circle cx="262.5" cy="239.4" r="1.14" fill="#341434"/>
<circle cx="273.3" cy="193.3" r="1.01" fill="#341434"/>
<circle cx="301.4" cy="208.9" r="0.81" fill="#5a2850"/>
<circle cx="289.0" cy="199.6" r="0.75" fill="#4a2040"/>
<circle cx="232.8" cy="188.1" r="0.65" fill="#e6c0d8"/>
<circle cx="286.3" cy="210.4" r="1.07" fill="#d8a0c4"/>
<circle cx="250.8" cy="197.2" r="0.63" fill="#2a1030"/>
<circle cx="254.2" cy="197.4" r="0.92" fill="#e6c0d8"/>
<circle cx="304.8" cy="201.0" r="1.03" fill="#d8a0c4"/>
<circle cx="293.6" cy="233.8" r="0.76" fill="#3a1838"/>
<circle cx="276.7" cy="178.5" r="1.10" fill="#24102a"/>
<circle cx="230.1" cy="215.9" r="0.95" fill="#2a1030"/>
<circle cx="261.3" cy="187.7" r="0.95" fill="#24102a"/>
<circle cx="229.7" cy="226.0" r="0.88" fill="#341434"/>
<circle cx="275.6" cy="212.7" r="0.69" fill="#4a2040"/>
<circle cx="271.5" cy="201.7" r="0.82" fill="#3a1838"/>
<circle cx="255.8" cy="184.3" r="0.64" fill="#d8a0c4"/>
<circle cx="300.0" cy="190.8" r="0.93" fill="#341434"/>
<circle cx="255.7" cy="199.0" r="0.68" fill="#24102a"/>
<circle cx="223.0" cy="207.2" r="1.01" fill="#2a1030"/>
<circle cx="257.8" cy="199.2" r="1.11" fill="#d8a0c4"/>
<circle cx="238.6" cy="205.9" r="0.61" fill="#24102a"/>
<circle cx="227.9" cy="185.7" r="0.88" fill="#341434"/>
<circle cx="263.8" cy="225.9" r="0.82" fill="#3a1838"/>
<circle cx="262.7" cy="214.6" r="0.68" fill="#e6c0d8"/>
<circle cx="246.6" cy="216.6" r="0.65" fill="#e6c0d8"/>
<circle cx="240.7" cy="202.9" r="0.64" fill="#d8a0c4"/>
<circle cx="237.4" cy="215.5" r="0.87" fill="#5a2850"/>
<circle cx="276.1" cy="186.0" r="0.72" fill="#341434"/>
<circle cx="242.2" cy="178.7" r="0.98" fill="#5a2850"/>
<circle cx="290.1" cy="230.9" r="0.72" fill="#5a2850"/>
<circle cx="279.5" cy="212.4" r="0.88" fill="#5a2850"/>
<circle cx="268.7" cy="191.7" r="0.73" fill="#2a1030"/>
<circle cx="243.5" cy="194.9" r="0.86" fill="#4a2040"/>
<circle cx="303.0" cy="186.2" r="1.13" fill="#3a1838"/>
<circle cx="257.8" cy="203.9" r="0.70" fill="#2a1030"/>
<circle cx="292.7" cy="207.3" r="0.60" fill="#d8a0c4"/>
<circle cx="248.9" cy="223.2" r="0.86" fill="#341434"/>
<circle cx="264.2" cy="227.5" r="0.79" fill="#24102a"/>
<circle cx="287.7" cy="199.2" r="1.01" fill="#24102a"/>
<circle cx="290.2" cy="228.3" r="0.84" fill="#5a2850"/>
<circle cx="282.7" cy="192.9" r="0.87" fill="#3a1838"/>
<circle cx="272.6" cy="234.3" r="1.00" fill="#d8a0c4"/>
<circle cx="284.6" cy="220.5" r="1.11" fill="#d8a0c4"/>
<circle cx="267.1" cy="236.3" r="0.77" fill="#341434"/>
<circle cx="227.3" cy="213.4" r="0.72" fill="#24102a"/>
<circle cx="275.7" cy="177.1" r="0.71" fill="#e6c0d8"/>
<circle cx="264.1" cy="222.4" r="0.79" fill="#e6c0d8"/>
<circle cx="304.3" cy="182.8" r="0.94" fill="#4a2040"/>
<circle cx="264.7" cy="208.9" r="1.14" fill="#e6c0d8"/>
<circle cx="244.0" cy="230.6" r="0.86" fill="#2a1030"/>
<circle cx="305.4" cy="179.3" r="0.81" fill="#341434"/>
<circle cx="272.2" cy="233.6" r="0.69" fill="#341434"/>
<circle cx="271.6" cy="233.3" r="1.11" fill="#2a1030"/>
<circle cx="227.6" cy="180.6" r="0.67" fill="#3a1838"/>
<circle cx="285.6" cy="195.5" r="0.77" fill="#4a2040"/>
<circle cx="288.9" cy="238.5" r="0.65" fill="#5a2850"/>
<circle cx="284.5" cy="237.3" r="1.00" fill="#5a2850"/>
<circle cx="247.4" cy="237.0" r="0.76" fill="#24102a"/>
<circle cx="253.2" cy="180.8" r="0.81" fill="#d8a0c4"/>
<circle cx="290.8" cy="184.8" r="0.88" fill="#5a2850"/>
<circle cx="252.5" cy="210.7" r="1.05" fill="#3a1838"/>
<circle cx="285.2" cy="210.5" r="0.93" fill="#24102a"/>
<circle cx="234.5" cy="234.3" r="0.88" fill="#2a1030"/>
<circle cx="289.3" cy="236.1" r="1.07" fill="#341434"/>
<circle cx="306.1" cy="179.3" r="0.73" fill="#5a2850"/>
<circle cx="277.8" cy="180.3" r="0.71" fill="#24102a"/>
<circle cx="283.2" cy="182.8" r="0.65" fill="#24102a"/>
<circle cx="237.4" cy="235.4" r="0.92" fill="#2a1030"/>
<circle cx="222.7" cy="181.2" r="1.05" fill="#4a2040"/>
<circle cx="265.5" cy="221.0" r="0.70" fill="#4a2040"/>
<circle cx="302.8" cy="185.6" r="0.84" fill="#2a1030"/>
<circle cx="305.9" cy="237.4" r="0.61" fill="#24102a"/>
<circle cx="276.6" cy="203.4" r="0.92" fill="#2a1030"/>
<circle cx="244.7" cy="209.8" r="0.63" fill="#2a1030"/>
<circle cx="306.0" cy="202.4" r="0.64" fill="#2a1030"/>
<circle cx="226.7" cy="233.7" r="0.89" fill="#d8a0c4"/>
<circle cx="277.3" cy="235.4" r="0.78" fill="#24102a"/>
<circle cx="264.5" cy="192.1" r="1.03" fill="#3a1838"/>
<circle cx="239.9" cy="189.1" r="0.83" fill="#d8a0c4"/>
<circle cx="274.1" cy="190.9" r="0.72" fill="#5a2850"/>
<circle cx="292.1" cy="205.2" r="0.74" fill="#d8a0c4"/>
<circle cx="239.8" cy="183.8" r="0.62" fill="#3a1838"/>
<circle cx="238.7" cy="213.3" r="0.62" fill="#341434"/>
<circle cx="294.3" cy="219.8" r="1.02" fill="#4a2040"/>
<circle cx="280.0" cy="232.9" r="0.67" fill="#341434"/>
<circle cx="222.6" cy="212.7" r="0.81" fill="#4a2040"/>
<circle cx="292.5" cy="231.2" r="0.61" fill="#3a1838"/>
<circle cx="301.1" cy="188.5" r="0.78" fill="#24102a"/>
<circle cx="251.6" cy="185.1" r="1.08" fill="#341434"/>
<circle cx="256.7" cy="180.7" r="0.93" fill="#24102a"/>
<circle cx="231.5" cy="204.7" r="0.72" fill="#341434"/>
<circle cx="230.1" cy="184.9" r="0.77" fill="#24102a"/>
<circle cx="227.7" cy="237.6" r="0.92" fill="#341434"/>
<circle cx="266.6" cy="202.5" r="0.66" fill="#5a2850"/>
<circle cx="294.9" cy="239.9" r="1.05" fill="#341434"/>
<circle cx="225.3" cy="178.0" r="0.65" fill="#341434"/>
<circle cx="277.6" cy="238.7" r="0.98" fill="#5a2850"/>
<circle cx="277.9" cy="178.5" r="1.12" fill="#5a2850"/>
<circle cx="248.6" cy="224.0" r="0.87" fill="#2a1030"/>
<circle cx="266.5" cy="234.9" r="1.06" fill="#e6c0d8"/>
<circle cx="273.8" cy="192.6" r="1.11" fill="#24102a"/>
<circle cx="283.8" cy="226.6" r="0.95" fill="#e6c0d8"/>
<circle cx="291.1" cy="207.2" r="0.63" fill="#5a2850"/>
<circle cx="286.7" cy="231.7" r="1.09" fill="#e6c0d8"/>
<circle cx="258.1" cy="213.4" r="0.67" fill="#e6c0d8"/>
<circle cx="291.7" cy="198.3" r="1.04" fill="#d8a0c4"/>
<circle cx="305.8" cy="193.1" r="1.01" fill="#2a1030"/>
<circle cx="289.2" cy="193.5" r="1.15" fill="#24102a"/>
<circle cx="290.9" cy="232.6" r="0.67" fill="#24102a"/>
<circle cx="264.0" cy="205.1" r="1.11" fill="#e6c0d8"/>
<circle cx="280.1" cy="200.3" r="0.80" fill="#341434"/>
<circle cx="301.9" cy="181.3" r="0.91" fill="#5a2850"/>
<circle cx="240.4" cy="178.3" r="1.09" fill="#5a2850"/>
<circle cx="282.2" cy="198.0" r="0.84" fill="#2a1030"/>
<circle cx="232.2" cy="204.5" r="0.81" fill="#24102a"/>
<circle cx="275.4" cy="232.7" r="0.71" fill="#e6c0d8"/>
<circle cx="226.4" cy="217.5" r="0.98" fill="#341434"/>
<circle cx="294.1" cy="238.5" r="1.00" fill="#2a1030"/>
<circle cx="283.2" cy="180.9" r="1.01" fill="#4a2040"/>
<circle cx="253.5" cy="192.3" r="0.65" fill="#341434"/>
<circle cx="250.4" cy="236.7" r="0.95" fill="#e6c0d8"/>
<circle cx="299.2" cy="204.9" r="0.64" fill="#24102a"/>
<circle cx="273.7" cy="208.2" r="0.88" fill="#e6c0d8"/>
<circle cx="244.2" cy="213.6" r="0.99" fill="#d8a0c4"/>
<circle cx="289.1" cy="196.9" r="0.78" fill="#e6c0d8"/>
<circle cx="282.2" cy="208.9" r="1.08" fill="#5a2850"/>
<circle cx="268.9" cy="222.0" r="0.79" fill="#341434"/>
<circle cx="252.0" cy="216.2" r="0.66" fill="#24102a"/>
<circle cx="236.0" cy="201.0" r="1.01" fill="#3a1838"/>
<circle cx="254.8" cy="238.7" r="1.10" fill="#341434"/>
<circle cx="268.7" cy="239.1" r="1.14" fill="#2a1030"/>
<circle cx="228.3" cy="216.4" r="1.09" fill="#5a2850"/>
<circle cx="271.8" cy="232.1" r="1.07" fill="#5a2850"/>
<circle cx="274.1" cy="182.3" r="0.82" fill="#24102a"/>
<circle cx="275.2" cy="198.6" r="0.65" fill="#24102a"/>
<circle cx="227.3" cy="214.8" r="1.12" fill="#24102a"/>
<circle cx="275.2" cy="234.4" r="0.60" fill="#341434"/>
<circle cx="266.6" cy="187.4" r="0.69" fill="#d8a0c4"/>
<circle cx="277.0" cy="220.1" r="1.11" fill="#4a2040"/>
<circle cx="289.5" cy="195.5" r="1.00" fill="#3a1838"/>
<circle cx="224.5" cy="199.7" r="1.14" fill="#e6c0d8"/>
<circle cx="302.2" cy="212.1" r="0.99" fill="#2a1030"/>
<circle cx="262.9" cy="216.3" r="0.81" fill="#5a2850"/>
<circle cx="293.0" cy="234.7" r="1.07" fill="#24102a"/>
<circle cx="229.4" cy="184.4" r="0.88" fill="#341434"/>
<circle cx="284.7" cy="190.0" r="0.88" fill="#3a1838"/>
<circle cx="289.4" cy="227.7" r="1.06" fill="#d8a0c4"/>
<circle cx="232.2" cy="198.8" r="0.86" fill="#341434"/>
<circle cx="267.3" cy="178.9" r="0.60" fill="#341434"/>
<circle cx="305.2" cy="234.6" r="0.68" fill="#341434"/>
<circle cx="222.3" cy="192.4" r="1.01" fill="#d8a0c4"/>
<circle cx="276.8" cy="237.8" r="1.11" fill="#24102a"/>
<circle cx="228.8" cy="212.3" r="0.78" fill="#3a1838"/>
<circle cx="304.0" cy="225.0" r="1.03" fill="#3a1838"/>
<circle cx="257.7" cy="213.1" r="1.11" fill="#3a1838"/>
<circle cx="224.1" cy="205.2" r="1.08" fill="#5a2850"/>
<circle cx="262.8" cy="235.9" r="1.02" fill="#341434"/>
<circle cx="286.6" cy="237.1" r="1.09" fill="#d8a0c4"/>
<circle cx="301.2" cy="204.2" r="1.07" fill="#3a1838"/>
<circle cx="231.5" cy="217.3" r="0.71" fill="#4a2040"/>
<circle cx="289.3" cy="217.9" r="1.10" fill="#2a1030"/>
<circle cx="289.3" cy="231.4" r="0.90" fill="#e6c0d8"/>
<circle cx="305.7" cy="232.0" r="0.89" fill="#2a1030"/>
<circle cx="294.1" cy="229.4" r="0.69" fill="#3a1838"/>
<circle cx="301.6" cy="224.1" r="0.74" fill="#4a2040"/>
<circle cx="293.9" cy="224.7" r="0.69" fill="#4a2040"/>
<circle cx="306.0" cy="200.6" r="1.13" fill="#d8a0c4"/>
<circle cx="298.7" cy="190.6" r="1.06" fill="#3a1838"/>
<circle cx="232.2" cy="221.2" r="0.90" fill="#2a1030"/>
<circle cx="259.5" cy="203.0" r="0.73" fill="#2a1030"/>
<circle cx="249.1" cy="234.4" r="0.62" fill="#3a1838"/>
<circle cx="223.6" cy="222.6" r="1.12" fill="#24102a"/>
<circle cx="255.7" cy="218.2" r="1.09" fill="#d8a0c4"/>
<circle cx="263.7" cy="227.5" r="0.62" fill="#4a2040"/>
<circle cx="227.7" cy="178.8" r="0.69" fill="#24102a"/>
<circle cx="223.9" cy="200.8" r="0.81" fill="#2a1030"/>
<circle cx="294.6" cy="192.1" r="1.01" fill="#24102a"/>
<circle cx="256.5" cy="204.1" r="0.95" fill="#2a1030"/>
<circle cx="261.7" cy="203.7" r="0.85" fill="#d8a0c4"/>
<circle cx="280.4" cy="202.3" r="0.89" fill="#3a1838"/>
<circle cx="279.5" cy="189.2" r="0.68" fill="#5a2850"/>
<circle cx="238.9" cy="231.7" r="0.93" fill="#d8a0c4"/>
<circle cx="303.5" cy="221.0" r="0.80" fill="#e6c0d8"/>
<circle cx="264.4" cy="237.0" r="0.88" fill="#4a2040"/>
<circle cx="294.7" cy="190.1" r="0.90" fill="#341434"/>
<circle cx="288.5" cy="178.7" r="0.91" fill="#d8a0c4"/>
<circle cx="244.1" cy="195.5" r="1.09" fill="#341434"/>
<circle cx="294.6" cy="208.7" r="0.67" fill="#24102a"/>
<circle cx="260.6" cy="207.8" r="0.62" fill="#d8a0c4"/>
<circle cx="255.9" cy="198.2" r="0.65" fill="#24102a"/>
<circle cx="237.1" cy="219.8" r="0.88" fill="#e6c0d8"/>
<circle cx="292.5" cy="235.4" r="0.88" fill="#5a2850"/>
<circle cx="272.1" cy="180.1" r="0.87" fill="#5a2850"/>
<circle cx="292.8" cy="185.0" r="1.00" fill="#24102a"/>
<circle cx="264.9" cy="184.1" r="1.00" fill="#341434"/>
<circle cx="281.6" cy="203.0" r="0.60" fill="#3a1838"/>
<circle cx="294.9" cy="211.4" r="1.13" fill="#3a1838"/>
<circle cx="245.9" cy="208.1" r="0.90" fill="#4a2040"/>
<circle cx="276.8" cy="214.2" r="1.12" fill="#d8a0c4"/>
<circle cx="223.6" cy="211.7" r="0.95" fill="#5a2850"/>
<circle cx="278.0" cy="239.1" r="0.79" fill="#e6c0d8"/>
<circle cx="267.5" cy="234.4" r="1.07" fill="#e6c0d8"/>
<circle cx="273.6" cy="209.2" r="0.76" fill="#4a2040"/>
<circle cx="228.4" cy="197.7" r="0.77" fill="#341434"/>
<circle cx="304.9" cy="227.4" r="0.90" fill="#e6c0d8"/>
<circle cx="251.2" cy="225.4" r="1.01" fill="#d8a0c4"/>
<circle cx="252.4" cy="223.9" r="0.83" fill="#e6c0d8"/>
<circle cx="299.8" cy="233.1" r="0.86" fill="#e6c0d8"/>
<circle cx="227.9" cy="225.8" r="0.65" fill="#5a2850"/>
<circle cx="257.3" cy="183.3" r="0.90" fill="#5a2850"/>
<circle cx="234.5" cy="205.6" r="1.02" fill="#24102a"/>
<circle cx="276.2" cy="217.7" r="1.02" fill="#e6c0d8"/>
<circle cx="255.6" cy="226.4" r="0.65" fill="#3a1838"/>
<circle cx="285.6" cy="235.0" r="1.08" fill="#2a1030"/>
<circle cx="276.7" cy="209.9" r="0.98" fill="#d8a0c4"/>
<circle cx="251.3" cy="188.3" r="0.93" fill="#5a2850"/>
<circle cx="267.3" cy="209.2" r="0.94" fill="#e6c0d8"/>
<circle cx="281.7" cy="229.1" r="0.86" fill="#5a2850"/>
<circle cx="231.5" cy="182.1" r="0.85" fill="#2a1030"/>
<circle cx="241.8" cy="237.4" r="0.76" fill="#d8a0c4"/>
<circle cx="304.9" cy="208.7" r="0.71" fill="#24102a"/>
<circle cx="243.3" cy="217.0" r="0.80" fill="#24102a"/>
<circle cx="261.6" cy="228.8" r="0.97" fill="#5a2850"/>
<circle cx="270.9" cy="192.5" r="1.11" fill="#2a1030"/>
<circle cx="282.2" cy="213.0" r="0.63" fill="#341434"/>
<circle cx="249.5" cy="236.9" r="0.84" fill="#3a1838"/>
<circle cx="293.4" cy="207.7" r="0.81" fill="#341434"/>
<circle cx="225.2" cy="193.4" r="0.80" fill="#e6c0d8"/>
<circle cx="239.2" cy="177.8" r="1.08" fill="#3a1838"/>
<circle cx="237.5" cy="209.6" r="0.92" fill="#4a2040"/>
<circle cx="284.5" cy="205.5" r="0.72" fill="#2a1030"/>
<circle cx="254.3" cy="229.1" r="1.10" fill="#4a2040"/>
<circle cx="239.8" cy="231.2" r="0.77" fill="#3a1838"/>
<circle cx="273.5" cy="185.2" r="0.84" fill="#4a2040"/>
<circle cx="303.8" cy="214.3" r="0.87" fill="#2a1030"/>
<circle cx="301.6" cy="178.8" r="0.75" fill="#d8a0c4"/>
<circle cx="263.8" cy="231.8" r="0.64" fill="#e6c0d8"/>
<circle cx="294.9" cy="189.6" r="0.62" fill="#5a2850"/>
<circle cx="286.2" cy="203.0" r="0.99" fill="#2a1030"/>
<circle cx="252.4" cy="205.1" r="0.61" fill="#341434"/>
<circle cx="242.3" cy="211.2" r="0.75" fill="#5a2850"/>
<circle cx="302.0" cy="234.8" r="0.83" fill="#2a1030"/>
<circle cx="258.7" cy="224.8" r="0.96" fill="#5a2850"/>
<circle cx="249.9" cy="206.2" r="1.00" fill="#e6c0d8"/>
<circle cx="244.6" cy="184.5" r="0.89" fill="#5a2850"/>
<circle cx="249.3" cy="201.6" r="1.01" fill="#3a1838"/>
<circle cx="262.2" cy="205.8" r="0.67" fill="#d8a0c4"/>
<circle cx="305.7" cy="196.7" r="0.61" fill="#2a1030"/>
<circle cx="226.9" cy="200.3" r="1.12" fill="#2a1030"/>
<circle cx="251.9" cy="232.6" r="0.69" fill="#341434"/>
<circle cx="294.8" cy="223.3" r="0.76" fill="#5a2850"/>
<circle cx="268.9" cy="218.4" r="0.87" fill="#341434"/>
<circle cx="262.0" cy="194.6" r="1.07" fill="#24102a"/>
<circle cx="245.2" cy="224.5" r="1.15" fill="#4a2040"/>
<circle cx="233.4" cy="221.4" r="1.08" fill="#2a1030"/>
<circle cx="233.6" cy="223.2" r="1.10" fill="#341434"/>
<circle cx="268.5" cy="208.9" r="0.82" fill="#d8a0c4"/>
<circle cx="272.5" cy="224.0" r="0.86" fill="#24102a"/>
<circle cx="287.0" cy="209.1" r="0.77" fill="#5a2850"/>
<circle cx="287.5" cy="218.1" r="0.97" fill="#4a2040"/>
<circle cx="266.0" cy="203.9" r="0.93" fill="#5a2850"/>
<circle cx="232.2" cy="198.5" r="1.07" fill="#341434"/>
<circle cx="243.9" cy="232.9" r="0.90" fill="#24102a"/>
<circle cx="258.7" cy="236.4" r="0.91" fill="#24102a"/>
<circle cx="263.2" cy="178.1" r="1.08" fill="#5a2850"/>
<circle cx="286.4" cy="193.6" r="0.97" fill="#e6c0d8"/>
<circle cx="230.0" cy="234.0" r="0.77" fill="#5a2850"/>
<circle cx="276.4" cy="225.1" r="0.76" fill="#3a1838"/>
<circle cx="247.7" cy="235.0" r="0.62" fill="#3a1838"/>
<circle cx="290.6" cy="188.6" r="0.73" fill="#24102a"/>
<circle cx="265.3" cy="184.6" r="0.89" fill="#24102a"/>
<circle cx="276.8" cy="230.3" r="0.74" fill="#2a1030"/>
<circle cx="269.9" cy="232.1" r="0.86" fill="#e6c0d8"/>
<circle cx="230.3" cy="217.9" r="0.90" fill="#e6c0d8"/>
<circle cx="265.8" cy="218.5" r="0.74" fill="#e6c0d8"/>
<circle cx="283.9" cy="240.0" r="0.70" fill="#2a1030"/>
<circle cx="286.1" cy="186.4" r="1.05" fill="#e6c0d8"/>
<circle cx="296.2" cy="227.2" r="0.68" fill="#341434"/>
<circle cx="283.1" cy="224.3" r="0.84" fill="#341434"/>
<circle cx="237.9" cy="231.1" r="0.89" fill="#3a1838"/>
<circle cx="302.5" cy="239.2" r="1.01" fill="#3a1838"/>
<circle cx="282.7" cy="177.1" r="1.12" fill="#5a2850"/>
<circle cx="238.7" cy="184.4" r="0.67" fill="#2a1030"/>
<circle cx="282.5" cy="220.0" r="1.05" fill="#e6c0d8"/>
<circle cx="294.4" cy="198.2" r="1.09" fill="#24102a"/>
<circle cx="264.7" cy="189.4" r="0.77" fill="#d8a0c4"/>
<circle cx="237.1" cy="211.4" r="0.85" fill="#2a1030"/>
<circle cx="236.0" cy="184.2" r="0.91" fill="#3a1838"/>
<circle cx="243.3" cy="185.4" r="1.03" fill="#4a2040"/>
<circle cx="248.5" cy="187.6" r="0.88" fill="#d8a0c4"/>
<circle cx="240.5" cy="186.6" r="1.06" fill="#e6c0d8"/>
<circle cx="285.1" cy="223.6" r="0.82" fill="#5a2850"/>
<circle cx="289.4" cy="209.6" r="1.08" fill="#5a2850"/>
<circle cx="257.8" cy="193.8" r="1.09" fill="#341434"/>
<circle cx="256.8" cy="228.3" r="1.14" fill="#3a1838"/>
<circle cx="296.5" cy="179.7" r="1.14" fill="#2a1030"/>
<circle cx="280.0" cy="180.6" r="0.79" fill="#4a2040"/>
<circle cx="273.6" cy="199.4" r="0.61" fill="#4a2040"/>
<circle cx="295.4" cy="209.1" r="0.97" fill="#2a1030"/>
<circle cx="243.4" cy="225.5" r="0.79" fill="#5a2850"/>
<circle cx="304.0" cy="223.3" r="1.07" fill="#341434"/>
<circle cx="257.9" cy="234.2" r="0.85" fill="#24102a"/>
<circle cx="257.1" cy="191.2" r="1.04" fill="#4a2040"/>
<circle cx="306.3" cy="182.8" r="1.07" fill="#5a2850"/>
<circle cx="262.0" cy="224.2" r="0.62" fill="#4a2040"/>
<circle cx="295.2" cy="202.7" r="1.01" fill="#341434"/>
<circle cx="264.4" cy="225.5" r="0.87" fill="#2a1030"/>
<circle cx="222.9" cy="202.8" r="0.92" fill="#d8a0c4"/>
<circle cx="230.6" cy="223.4" r="0.78" fill="#24102a"/>
<circle cx="292.4" cy="213.2" r="0.92" fill="#5a2850"/>
<circle cx="282.0" cy="233.4" r="1.03" fill="#3a1838"/>
<circle cx="282.7" cy="220.9" r="0.98" fill="#d8a0c4"/>
<circle cx="235.6" cy="186.1" r="1.06" fill="#3a1838"/>
<circle cx="290.4" cy="235.6" r="1.11" fill="#341434"/>
<circle cx="264.4" cy="184.6" r="0.95" fill="#d8a0c4"/>
<circle cx="242.8" cy="193.8" r="0.61" fill="#d8a0c4"/>
<circle cx="292.1" cy="195.2" r="0.70" fill="#4a2040"/>
<circle cx="252.9" cy="201.0" r="0.73" fill="#24102a"/>
<circle cx="293.3" cy="178.1" r="1.03" fill="#341434"/>
<circle cx="231.9" cy="236.4" r="0.69" fill="#24102a"/>
<circle cx="274.5" cy="227.8" r="0.96" fill="#2a1030"/>
<circle cx="297.0" cy="188.4" r="0.97" fill="#e6c0d8"/>
<circle cx="226.5" cy="233.7" r="1.01" fill="#3a1838"/>
<circle cx="287.5" cy="225.6" r="1.11" fill="#4a2040"/>
<circle cx="242.5" cy="238.6" r="0.94" fill="#341434"/>
<circle cx="296.5" cy="209.8" r="0.72" fill="#4a2040"/>
<circle cx="294.9" cy="220.9" r="1.03" fill="#2a1030"/>
<circle cx="301.3" cy="223.4" r="0.84" fill="#5a2850"/>
<circle cx="252.7" cy="187.0" r="0.95" fill="#5a2850"/>
<circle cx="283.2" cy="208.9" r="1.00" fill="#24102a"/>
<circle cx="266.4" cy="218.8" r="1.02" fill="#2a1030"/>
<circle cx="261.7" cy="236.9" r="0.84" fill="#24102a"/>
<circle cx="290.5" cy="238.1" r="0.88" fill="#24102a"/>
<circle cx="293.3" cy="230.4" r="0.70" fill="#341434"/>
<circle cx="266.4" cy="202.5" r="0.66" fill="#2a1030"/>
<circle cx="229.0" cy="197.2" r="0.78" fill="#2a1030"/>
<circle cx="225.1" cy="193.9" r="0.93" fill="#24102a"/>
<circle cx="227.8" cy="185.3" r="1.12" fill="#24102a"/>
<circle cx="241.7" cy="205.3" r="0.80" fill="#d8a0c4"/>
<circle cx="226.4" cy="227.5" r="0.72" fill="#341434"/>
<circle cx="275.1" cy="237.5" r="1.05" fill="#3a1838"/>
<circle cx="266.1" cy="220.5" r="0.80" fill="#2a1030"/>
<circle cx="288.6" cy="234.5" r="0.61" fill="#4a2040"/>
<circle cx="225.4" cy="229.1" r="0.63" fill="#e6c0d8"/>
<circle cx="237.0" cy="195.9" r="0.73" fill="#24102a"/>
<circle cx="282.1" cy="232.7" r="0.88" fill="#3a1838"/>
<circle cx="304.2" cy="181.2" r="0.68" fill="#2a1030"/>
<circle cx="236.9" cy="195.7" r="0.68" fill="#d8a0c4"/>
<circle cx="252.4" cy="207.2" r="1.03" fill="#4a2040"/>
<circle cx="274.4" cy="214.1" r="1.01" fill="#e6c0d8"/>
<circle cx="247.5" cy="216.9" r="0.88" fill="#d8a0c4"/>
<circle cx="295.7" cy="189.4" r="0.94" fill="#e6c0d8"/>
<circle cx="304.5" cy="237.6" r="1.05" fill="#341434"/>
<circle cx="238.4" cy="189.5" r="1.06" fill="#e6c0d8"/>
<circle cx="267.6" cy="232.2" r="0.77" fill="#341434"/>
<circle cx="245.0" cy="235.0" r="0.70" fill="#5a2850"/>
<circle cx="270.5" cy="198.0" r="0.79" fill="#24102a"/>
<circle cx="279.8" cy="222.2" r="0.71" fill="#24102a"/>
<circle cx="236.0" cy="192.4" r="1.03" fill="#4a2040"/>
<circle cx="280.4" cy="235.9" r="0.82" fill="#4a2040"/>
<circle cx="300.5" cy="189.5" r="0.96" fill="#d8a0c4"/>
<circle cx="264.3" cy="179.0" r="0.74" fill="#2a1030"/>
<circle cx="261.4" cy="222.3" r="0.61" fill="#3a1838"/>
<circle cx="234.1" cy="223.7" r="0.96" fill="#5a2850"/>
<circle cx="272.0" cy="233.2" r="0.81" fill="#4a2040"/>
<circle cx="297.9" cy="224.2" r="0.82" fill="#5a2850"/>
<circle cx="278.3" cy="188.1" r="0.65" fill="#2a1030"/>
<circle cx="256.2" cy="202.8" r="0.71" fill="#24102a"/>
<circle cx="252.1" cy="216.8" r="0.72" fill="#4a2040"/>
<circle cx="222.4" cy="210.1" r="0.92" fill="#341434"/>
<circle cx="269.6" cy="239.7" r="1.09" fill="#2a1030"/>
<circle cx="285.8" cy="178.8" r="0.98" fill="#e6c0d8"/>
<circle cx="276.0" cy="178.5" r="0.64" fill="#5a2850"/>
<circle cx="244.8" cy="235.5" r="1.05" fill="#2a1030"/>
<circle cx="229.1" cy="235.7" r="0.94" fill="#5a2850"/>
<circle cx="239.7" cy="190.2" r="0.87" fill="#3a1838"/>
<circle cx="256.3" cy="179.9" r="0.78" fill="#24102a"/>
<circle cx="284.0" cy="183.1" r="0.65" fill="#2a1030"/>
<circle cx="269.5" cy="205.4" r="0.70" fill="#d8a0c4"/>
<circle cx="233.1" cy="215.5" r="0.94" fill="#4a2040"/>
<circle cx="298.4" cy="228.1" r="1.03" fill="#d8a0c4"/>
<circle cx="306.2" cy="239.4" r="0.95" fill="#5a2850"/>
<circle cx="263.9" cy="235.0" r="1.01" fill="#3a1838"/>
<circle cx="277.3" cy="192.7" r="0.63" fill="#4a2040"/>
<circle cx="293.5" cy="177.2" r="0.96" fill="#5a2850"/>
<circle cx="292.1" cy="199.4" r="0.81" fill="#5a2850"/>
<circle cx="279.4" cy="204.4" r="0.67" fill="#e6c0d8"/>
<circle cx="236.7" cy="206.7" r="0.89" fill="#4a2040"/>
<circle cx="228.5" cy="210.0" r="0.61" fill="#2a1030"/>
<circle cx="287.4" cy="239.6" r="1.07" fill="#2a1030"/>
<circle cx="303.6" cy="189.9" r="0.70" fill="#341434"/>
<circle cx="226.8" cy="237.8" r="0.98" fill="#341434"/>
<circle cx="244.7" cy="193.2" r="0.63" fill="#4a2040"/>
<circle cx="231.5" cy="204.5" r="0.61" fill="#341434"/>
<circle cx="300.4" cy="189.8" r="0.75" fill="#2a1030"/>
<circle cx="250.9" cy="238.0" r="0.69" fill="#e6c0d8"/>
<circle cx="243.1" cy="234.8" r="0.88" fill="#2a1030"/>
<circle cx="258.2" cy="191.5" r="1.00" fill="#2a1030"/>
<circle cx="259.0" cy="195.8" r="0.78" fill="#5a2850"/>
<circle cx="257.3" cy="204.7" r="0.84" fill="#d8a0c4"/>
<circle cx="251.8" cy="191.5" r="0.62" fill="#5a2850"/>
<circle cx="266.4" cy="193.8" r="0.64" fill="#341434"/>
<circle cx="227.9" cy="229.7" r="1.02" fill="#3a1838"/>
<circle cx="237.8" cy="210.1" r="0.78" fill="#4a2040"/>
<circle cx="241.9" cy="215.5" r="0.97" fill="#e6c0d8"/>
<circle cx="280.7" cy="239.2" r="0.99" fill="#3a1838"/>
<circle cx="246.7" cy="204.5" r="0.95" fill="#3a1838"/>
<circle cx="303.1" cy="184.3" r="0.97" fill="#5a2850"/>
<circle cx="224.5" cy="233.9" r="0.77" fill="#24102a"/>
<circle cx="268.7" cy="219.0" r="0.98" fill="#3a1838"/>
<circle cx="305.2" cy="221.4" r="0.78" fill="#d8a0c4"/>
<circle cx="276.8" cy="217.6" r="1.14" fill="#4a2040"/>
<circle cx="282.5" cy="199.7" r="0.61" fill="#2a1030"/>
<circle cx="227.4" cy="179.7" r="0.93" fill="#341434"/>
<circle cx="259.6" cy="190.2" r="0.61" fill="#4a2040"/>
<circle cx="227.5" cy="193.2" r="0.64" fill="#341434"/>
<circle cx="284.2" cy="186.1" r="0.66" fill="#3a1838"/>
<circle cx="264.3" cy="196.9" r="1.03" fill="#341434"/>
<circle cx="261.3" cy="220.0" r="1.08" fill="#d8a0c4"/>
<circle cx="228.4" cy="184.7" r="1.04" fill="#341434"/>
<circle cx="252.0" cy="186.5" r="0.79" fill="#e6c0d8"/>
<circle cx="233.5" cy="189.9" r="0.63" fill="#24102a"/>
<circle cx="251.2" cy="189.8" r="0.87" fill="#e6c0d8"/>
<circle cx="245.0" cy="204.6" r="0.92" fill="#4a2040"/>
<circle cx="238.2" cy="226.3" r="0.63" fill="#4a2040"/>
<circle cx="274.2" cy="191.3" r="1.06" fill="#d8a0c4"/>
<circle cx="297.1" cy="190.8" r="0.99" fill="#d8a0c4"/>
<circle cx="297.8" cy="191.8" r="0.93" fill="#3a1838"/>
<circle cx="299.2" cy="199.8" r="0.82" fill="#341434"/>
<circle cx="237.6" cy="218.5" r="1.14" fill="#e6c0d8"/>
<circle cx="243.4" cy="195.2" r="0.85" fill="#e6c0d8"/>
<circle cx="268.3" cy="217.5" r="0.64" fill="#4a2040"/>
<circle cx="249.9" cy="226.6" r="0.62" fill="#4a2040"/>
<circle cx="252.9" cy="229.8" r="1.04" fill="#e6c0d8"/>
<circle cx="230.4" cy="190.3" r="0.71" fill="#3a1838"/>
<circle cx="290.1" cy="178.5" r="0.60" fill="#d8a0c4"/>
<circle cx="263.3" cy="236.8" r="1.07" fill="#4a2040"/>
<circle cx="233.4" cy="238.0" r="0.85" fill="#d8a0c4"/>
<circle cx="298.3" cy="222.9" r="0.90" fill="#d8a0c4"/>
<circle cx="245.7" cy="211.3" r="0.74" fill="#5a2850"/>
<circle cx="266.6" cy="187.1" r="1.01" fill="#2a1030"/>
<circle cx="259.1" cy="205.5" r="0.67" fill="#3a1838"/>
<circle cx="254.9" cy="196.5" r="0.75" fill="#e6c0d8"/>
<circle cx="263.1" cy="205.7" r="0.99" fill="#5a2850"/>
<circle cx="281.3" cy="181.2" r="0.76" fill="#5a2850"/>
<circle cx="290.4" cy="189.5" r="1.09" fill="#d8a0c4"/>
<circle cx="232.9" cy="180.8" r="0.63" fill="#e6c0d8"/>
<circle cx="303.4" cy="214.4" r="0.71" fill="#d8a0c4"/>
<circle cx="263.8" cy="194.8" r="1.04" fill="#5a2850"/>
<circle cx="289.7" cy="205.4" r="0.96" fill="#d8a0c4"/>
<circle cx="233.8" cy="181.3" r="0.73" fill="#4a2040"/>
<circle cx="252.0" cy="209.1" r="0.77" fill="#3a1838"/>
<path d="M222,177 L265.5,177 L265.2,186 L264.5,191.4 L264.5,195.7 L259,200 L252,199.5 L246,199 L241,197.5 L237.4,195 L233,197.5 L228.7,199.5 L222.2,202 Z" fill="#e86a62"/>
<path d="M222,177 L230,177 L229,190 L227,200 L222,202 Z" fill="#ea9494" opacity="0.75"/>
<ellipse cx="250" cy="186" rx="12" ry="7" fill="#f0705e" opacity="0.6" filter="url(#soft2)"/>
<path d="M279.6,227 L279,214 L281,203 L284.5,194.5 C287,191 290,190 292.3,190 C296,190 299,191.5 301,194 L304,200 L306.6,212 L306.6,227 Z" fill="#d6bccd"/>
<path d="M279.6,227 L279,214 L281,203 L284.5,194.5 C287,191 290,190 292.3,190 C296,190 299,191.5 301,194 L304,200 L305,212 L305,227" fill="none" stroke="#c85468" stroke-width="2.6"/>
<path d="M289,198 C292,195 297,196 299,200 L300,212 L292,216 L288,208 Z" fill="#f0e6f0" opacity="0.75" filter="url(#soft2)"/>
<path d="M222,223.5 L228,229 L234,236 L236,240 L222,240 Z" fill="#e46a66"/>
<circle cx="241.6" cy="223.9" r="4.7" fill="#fcfcfc"/>
<text x="243.5" y="191.2" font-family='"Liberation Serif", serif' font-style="italic" font-weight="bold" font-size="8.5" fill="#2a0a0a">B</text>
<text x="251" y="211.6" font-family='"Liberation Serif", serif' font-style="italic" font-weight="bold" font-size="6" fill="#f4e8f0" stroke="none" opacity="0.8">BM</text>
<text x="287" y="220.9" font-family='"Liberation Serif", serif' font-style="italic" font-weight="bold" font-size="8.2" fill="#1a1a1a">HA</text>
<rect x="255.6" y="226" width="52" height="15" fill="#fcfcfc"/>
</g>
<g clip-path="url(#cE2)">
<rect x="221.6" y="241.5" width="85" height="65.8" fill="#e2dae6"/>
<ellipse cx="284.3" cy="245.9" rx="2.3" ry="0.55" fill="#8a6a9a" opacity="0.7" transform="rotate(20 284.3 245.9)"/>
<ellipse cx="297.6" cy="297.3" rx="2.5" ry="0.55" fill="#a07aa8" opacity="0.7" transform="rotate(161 297.6 297.3)"/>
<ellipse cx="289.5" cy="274.1" rx="1.9" ry="0.55" fill="#c08ab0" opacity="0.7" transform="rotate(23 289.5 274.1)"/>
<ellipse cx="230.8" cy="247.3" rx="1.9" ry="0.55" fill="#c08ab0" opacity="0.7" transform="rotate(62 230.8 247.3)"/>
<ellipse cx="267.2" cy="269.9" rx="2.5" ry="0.55" fill="#c08ab0" opacity="0.7" transform="rotate(145 267.2 269.9)"/>
<ellipse cx="252.5" cy="276.0" rx="3.5" ry="0.55" fill="#c08ab0" opacity="0.7" transform="rotate(77 252.5 276.0)"/>
<ellipse cx="255.3" cy="265.0" rx="3.0" ry="0.55" fill="#c08ab0" opacity="0.7" transform="rotate(57 255.3 265.0)"/>
<ellipse cx="287.9" cy="283.2" rx="3.5" ry="0.55" fill="#a07aa8" opacity="0.7" transform="rotate(86 287.9 283.2)"/>
<ellipse cx="261.7" cy="285.9" rx="3.3" ry="0.55" fill="#8a6a9a" opacity="0.7" transform="rotate(131 261.7 285.9)"/>
<ellipse cx="264.0" cy="298.1" rx="1.6" ry="0.55" fill="#8a6a9a" opacity="0.7" transform="rotate(90 264.0 298.1)"/>
<ellipse cx="242.1" cy="261.7" rx="2.1" ry="0.55" fill="#a07aa8" opacity="0.7" transform="rotate(57 242.1 261.7)"/>
<ellipse cx="247.4" cy="261.3" rx="2.3" ry="0.55" fill="#a07aa8" opacity="0.7" transform="rotate(101 247.4 261.3)"/>
<ellipse cx="304.8" cy="273.5" rx="3.4" ry="0.55" fill="#a07aa8" opacity="0.7" transform="rotate(140 304.8 273.5)"/>
<ellipse cx="267.5" cy="298.3" rx="3.5" ry="0.55" fill="#8a6a9a" opacity="0.7" transform="rotate(159 267.5 298.3)"/>
<ellipse cx="276.9" cy="242.2" rx="2.8" ry="0.55" fill="#8a6a9a" opacity="0.7" transform="rotate(169 276.9 242.2)"/>
<ellipse cx="279.1" cy="264.5" rx="2.6" ry="0.55" fill="#c08ab0" opacity="0.7" transform="rotate(32 279.1 264.5)"/>
<ellipse cx="266.3" cy="276.0" rx="1.8" ry="0.55" fill="#8a6a9a" opacity="0.7" transform="rotate(40 266.3 276.0)"/>
<ellipse cx="252.4" cy="280.1" rx="2.4" ry="0.55" fill="#c08ab0" opacity="0.7" transform="rotate(105 252.4 280.1)"/>
<ellipse cx="240.9" cy="288.9" rx="2.0" ry="0.55" fill="#a07aa8" opacity="0.7" transform="rotate(169 240.9 288.9)"/>
<ellipse cx="238.8" cy="294.8" rx="1.8" ry="0.55" fill="#8a6a9a" opacity="0.7" transform="rotate(163 238.8 294.8)"/>
<ellipse cx="242.4" cy="256.4" rx="2.6" ry="0.55" fill="#c08ab0" opacity="0.7" transform="rotate(145 242.4 256.4)"/>
<ellipse cx="232.6" cy="292.5" rx="2.1" ry="0.55" fill="#c08ab0" opacity="0.7" transform="rotate(141 232.6 292.5)"/>
<ellipse cx="231.3" cy="288.9" rx="1.8" ry="0.55" fill="#a07aa8" opacity="0.7" transform="rotate(4 231.3 288.9)"/>
<ellipse cx="268.0" cy="262.4" rx="2.3" ry="0.55" fill="#a07aa8" opacity="0.7" transform="rotate(0 268.0 262.4)"/>
<ellipse cx="287.3" cy="273.6" rx="3.1" ry="0.55" fill="#c08ab0" opacity="0.7" transform="rotate(99 287.3 273.6)"/>
<ellipse cx="267.0" cy="295.2" rx="2.3" ry="0.55" fill="#a07aa8" opacity="0.7" transform="rotate(59 267.0 295.2)"/>
<ellipse cx="303.1" cy="254.1" rx="2.8" ry="0.55" fill="#c08ab0" opacity="0.7" transform="rotate(58 303.1 254.1)"/>
<ellipse cx="258.5" cy="265.2" rx="2.6" ry="0.55" fill="#c08ab0" opacity="0.7" transform="rotate(138 258.5 265.2)"/>
<ellipse cx="226.1" cy="298.5" rx="3.5" ry="0.55" fill="#a07aa8" opacity="0.7" transform="rotate(100 226.1 298.5)"/>
<ellipse cx="247.3" cy="243.0" rx="1.9" ry="0.55" fill="#a07aa8" opacity="0.7" transform="rotate(86 247.3 243.0)"/>
<ellipse cx="249.3" cy="274.6" rx="2.7" ry="0.55" fill="#c08ab0" opacity="0.7" transform="rotate(177 249.3 274.6)"/>
<ellipse cx="248.3" cy="303.0" rx="2.0" ry="0.55" fill="#a07aa8" opacity="0.7" transform="rotate(178 248.3 303.0)"/>
<ellipse cx="224.0" cy="268.7" rx="2.0" ry="0.55" fill="#a07aa8" opacity="0.7" transform="rotate(75 224.0 268.7)"/>
<ellipse cx="255.9" cy="247.1" rx="3.6" ry="0.55" fill="#c08ab0" opacity="0.7" transform="rotate(87 255.9 247.1)"/>
<ellipse cx="267.5" cy="279.3" rx="3.3" ry="0.55" fill="#a07aa8" opacity="0.7" transform="rotate(70 267.5 279.3)"/>
<ellipse cx="293.8" cy="242.6" rx="2.8" ry="0.55" fill="#c08ab0" opacity="0.7" transform="rotate(81 293.8 242.6)"/>
<ellipse cx="280.4" cy="304.2" rx="1.6" ry="0.55" fill="#a07aa8" opacity="0.7" transform="rotate(146 280.4 304.2)"/>
<ellipse cx="238.8" cy="284.5" rx="2.2" ry="0.55" fill="#c08ab0" opacity="0.7" transform="rotate(75 238.8 284.5)"/>
<ellipse cx="255.6" cy="297.2" rx="3.3" ry="0.55" fill="#8a6a9a" opacity="0.7" transform="rotate(44 255.6 297.2)"/>
<ellipse cx="224.9" cy="285.3" rx="2.5" ry="0.55" fill="#c08ab0" opacity="0.7" transform="rotate(47 224.9 285.3)"/>
<ellipse cx="298.0" cy="247.1" rx="3.1" ry="0.55" fill="#c08ab0" opacity="0.7" transform="rotate(132 298.0 247.1)"/>
<ellipse cx="302.2" cy="282.3" rx="2.5" ry="0.55" fill="#a07aa8" opacity="0.7" transform="rotate(108 302.2 282.3)"/>
<ellipse cx="234.4" cy="242.7" rx="2.5" ry="0.55" fill="#8a6a9a" opacity="0.7" transform="rotate(35 234.4 242.7)"/>
<ellipse cx="258.1" cy="274.5" rx="3.3" ry="0.55" fill="#c08ab0" opacity="0.7" transform="rotate(128 258.1 274.5)"/>
<ellipse cx="280.8" cy="257.1" rx="1.8" ry="0.55" fill="#8a6a9a" opacity="0.7" transform="rotate(0 280.8 257.1)"/>
<ellipse cx="236.1" cy="258.6" rx="2.4" ry="0.55" fill="#8a6a9a" opacity="0.7" transform="rotate(163 236.1 258.6)"/>
<ellipse cx="258.6" cy="297.4" rx="2.6" ry="0.55" fill="#a07aa8" opacity="0.7" transform="rotate(65 258.6 297.4)"/>
<ellipse cx="256.7" cy="275.2" rx="3.5" ry="0.55" fill="#a07aa8" opacity="0.7" transform="rotate(127 256.7 275.2)"/>
<ellipse cx="246.1" cy="288.1" rx="2.0" ry="0.55" fill="#8a6a9a" opacity="0.7" transform="rotate(176 246.1 288.1)"/>
<ellipse cx="262.4" cy="296.3" rx="1.5" ry="0.55" fill="#a07aa8" opacity="0.7" transform="rotate(158 262.4 296.3)"/>
<ellipse cx="276.7" cy="257.3" rx="3.5" ry="0.55" fill="#8a6a9a" opacity="0.7" transform="rotate(177 276.7 257.3)"/>
<ellipse cx="229.9" cy="295.2" rx="1.6" ry="0.55" fill="#a07aa8" opacity="0.7" transform="rotate(73 229.9 295.2)"/>
<ellipse cx="247.0" cy="291.1" rx="1.7" ry="0.55" fill="#c08ab0" opacity="0.7" transform="rotate(72 247.0 291.1)"/>
<ellipse cx="249.5" cy="252.6" rx="1.8" ry="0.55" fill="#c08ab0" opacity="0.7" transform="rotate(126 249.5 252.6)"/>
<ellipse cx="274.8" cy="245.0" rx="1.8" ry="0.55" fill="#c08ab0" opacity="0.7" transform="rotate(93 274.8 245.0)"/>
<ellipse cx="226.6" cy="299.1" rx="3.3" ry="0.55" fill="#8a6a9a" opacity="0.7" transform="rotate(116 226.6 299.1)"/>
<ellipse cx="249.6" cy="244.8" rx="3.4" ry="0.55" fill="#a07aa8" opacity="0.7" transform="rotate(94 249.6 244.8)"/>
<ellipse cx="269.6" cy="284.1" rx="2.6" ry="0.55" fill="#a07aa8" opacity="0.7" transform="rotate(176 269.6 284.1)"/>
<ellipse cx="243.5" cy="274.8" rx="1.8" ry="0.55" fill="#a07aa8" opacity="0.7" transform="rotate(157 243.5 274.8)"/>
<ellipse cx="292.6" cy="243.2" rx="2.7" ry="0.55" fill="#8a6a9a" opacity="0.7" transform="rotate(36 292.6 243.2)"/>
<ellipse cx="299.3" cy="293.1" rx="2.1" ry="0.55" fill="#a07aa8" opacity="0.7" transform="rotate(99 299.3 293.1)"/>
<ellipse cx="246.0" cy="248.0" rx="2.0" ry="0.55" fill="#c08ab0" opacity="0.7" transform="rotate(125 246.0 248.0)"/>
<ellipse cx="302.7" cy="257.7" rx="2.0" ry="0.55" fill="#8a6a9a" opacity="0.7" transform="rotate(82 302.7 257.7)"/>
<ellipse cx="238.1" cy="260.5" rx="1.6" ry="0.55" fill="#a07aa8" opacity="0.7" transform="rotate(156 238.1 260.5)"/>
<ellipse cx="245.5" cy="282.6" rx="2.0" ry="0.55" fill="#8a6a9a" opacity="0.7" transform="rotate(27 245.5 282.6)"/>
<ellipse cx="224.4" cy="242.1" rx="2.3" ry="0.55" fill="#a07aa8" opacity="0.7" transform="rotate(51 224.4 242.1)"/>
<ellipse cx="277.6" cy="277.2" rx="3.1" ry="0.55" fill="#a07aa8" opacity="0.7" transform="rotate(99 277.6 277.2)"/>
<ellipse cx="281.0" cy="301.1" rx="3.0" ry="0.55" fill="#c08ab0" opacity="0.7" transform="rotate(101 281.0 301.1)"/>
<ellipse cx="302.1" cy="277.0" rx="3.3" ry="0.55" fill="#8a6a9a" opacity="0.7" transform="rotate(143 302.1 277.0)"/>
<ellipse cx="283.7" cy="273.6" rx="2.4" ry="0.55" fill="#a07aa8" opacity="0.7" transform="rotate(171 283.7 273.6)"/>
<ellipse cx="271.5" cy="293.6" rx="3.2" ry="0.55" fill="#a07aa8" opacity="0.7" transform="rotate(151 271.5 293.6)"/>
<ellipse cx="233.4" cy="297.4" rx="2.0" ry="0.55" fill="#8a6a9a" opacity="0.7" transform="rotate(179 233.4 297.4)"/>
<ellipse cx="268.6" cy="276.8" rx="2.1" ry="0.55" fill="#a07aa8" opacity="0.7" transform="rotate(38 268.6 276.8)"/>
<ellipse cx="223.7" cy="285.1" rx="3.3" ry="0.55" fill="#a07aa8" opacity="0.7" transform="rotate(125 223.7 285.1)"/>
<ellipse cx="289.7" cy="284.5" rx="1.7" ry="0.55" fill="#c08ab0" opacity="0.7" transform="rotate(56 289.7 284.5)"/>
<ellipse cx="266.3" cy="284.7" rx="2.9" ry="0.55" fill="#c08ab0" opacity="0.7" transform="rotate(152 266.3 284.7)"/>
<ellipse cx="224.5" cy="292.4" rx="1.9" ry="0.55" fill="#a07aa8" opacity="0.7" transform="rotate(157 224.5 292.4)"/>
<ellipse cx="290.4" cy="277.3" rx="3.1" ry="0.55" fill="#8a6a9a" opacity="0.7" transform="rotate(64 290.4 277.3)"/>
<ellipse cx="235.1" cy="297.5" rx="1.9" ry="0.55" fill="#8a6a9a" opacity="0.7" transform="rotate(148 235.1 297.5)"/>
<ellipse cx="289.5" cy="300.1" rx="1.7" ry="0.55" fill="#8a6a9a" opacity="0.7" transform="rotate(162 289.5 300.1)"/>
<ellipse cx="290.7" cy="293.5" rx="2.6" ry="0.55" fill="#8a6a9a" opacity="0.7" transform="rotate(131 290.7 293.5)"/>
<ellipse cx="290.9" cy="267.1" rx="3.0" ry="0.55" fill="#c08ab0" opacity="0.7" transform="rotate(74 290.9 267.1)"/>
<ellipse cx="227.9" cy="267.9" rx="2.0" ry="0.55" fill="#8a6a9a" opacity="0.7" transform="rotate(77 227.9 267.9)"/>
<ellipse cx="281.8" cy="255.7" rx="2.8" ry="0.55" fill="#c08ab0" opacity="0.7" transform="rotate(134 281.8 255.7)"/>
<ellipse cx="300.1" cy="261.1" rx="2.8" ry="0.55" fill="#c08ab0" opacity="0.7" transform="rotate(75 300.1 261.1)"/>
<ellipse cx="261.3" cy="297.5" rx="2.7" ry="0.55" fill="#a07aa8" opacity="0.7" transform="rotate(172 261.3 297.5)"/>
<ellipse cx="293.3" cy="268.0" rx="3.6" ry="0.55" fill="#8a6a9a" opacity="0.7" transform="rotate(173 293.3 268.0)"/>
<ellipse cx="228.1" cy="278.5" rx="2.8" ry="0.55" fill="#c08ab0" opacity="0.7" transform="rotate(91 228.1 278.5)"/>
<ellipse cx="287.1" cy="259.3" rx="3.0" ry="0.55" fill="#c08ab0" opacity="0.7" transform="rotate(45 287.1 259.3)"/>
<ellipse cx="268.8" cy="281.5" rx="3.3" ry="0.55" fill="#a07aa8" opacity="0.7" transform="rotate(70 268.8 281.5)"/>
<ellipse cx="299.7" cy="297.9" rx="1.5" ry="0.55" fill="#8a6a9a" opacity="0.7" transform="rotate(128 299.7 297.9)"/>
<ellipse cx="236.1" cy="250.1" rx="3.6" ry="0.55" fill="#c08ab0" opacity="0.7" transform="rotate(132 236.1 250.1)"/>
<ellipse cx="273.9" cy="246.1" rx="1.7" ry="0.55" fill="#a07aa8" opacity="0.7" transform="rotate(136 273.9 246.1)"/>
<ellipse cx="240.6" cy="269.6" rx="3.0" ry="0.55" fill="#a07aa8" opacity="0.7" transform="rotate(169 240.6 269.6)"/>
<ellipse cx="284.3" cy="273.5" rx="3.5" ry="0.55" fill="#a07aa8" opacity="0.7" transform="rotate(112 284.3 273.5)"/>
<ellipse cx="280.3" cy="304.3" rx="1.6" ry="0.55" fill="#8a6a9a" opacity="0.7" transform="rotate(20 280.3 304.3)"/>
<ellipse cx="298.9" cy="292.7" rx="2.6" ry="0.55" fill="#a07aa8" opacity="0.7" transform="rotate(20 298.9 292.7)"/>
<ellipse cx="286.8" cy="289.9" rx="2.6" ry="0.55" fill="#8a6a9a" opacity="0.7" transform="rotate(25 286.8 289.9)"/>
<ellipse cx="303.0" cy="263.1" rx="2.3" ry="0.55" fill="#a07aa8" opacity="0.7" transform="rotate(108 303.0 263.1)"/>
<ellipse cx="283.8" cy="263.1" rx="2.6" ry="0.55" fill="#c08ab0" opacity="0.7" transform="rotate(139 283.8 263.1)"/>
<ellipse cx="263.0" cy="270.3" rx="2.6" ry="0.55" fill="#8a6a9a" opacity="0.7" transform="rotate(177 263.0 270.3)"/>
<ellipse cx="302.4" cy="243.3" rx="1.7" ry="0.55" fill="#a07aa8" opacity="0.7" transform="rotate(139 302.4 243.3)"/>
<ellipse cx="289.9" cy="258.7" rx="3.0" ry="0.55" fill="#a07aa8" opacity="0.7" transform="rotate(69 289.9 258.7)"/>
<ellipse cx="236.7" cy="271.4" rx="3.6" ry="0.55" fill="#c08ab0" opacity="0.7" transform="rotate(70 236.7 271.4)"/>
<ellipse cx="300.1" cy="282.3" rx="3.3" ry="0.55" fill="#c08ab0" opacity="0.7" transform="rotate(97 300.1 282.3)"/>
<ellipse cx="284.8" cy="267.1" rx="2.2" ry="0.55" fill="#8a6a9a" opacity="0.7" transform="rotate(97 284.8 267.1)"/>
<ellipse cx="277.2" cy="289.1" rx="3.0" ry="0.55" fill="#a07aa8" opacity="0.7" transform="rotate(112 277.2 289.1)"/>
<ellipse cx="247.8" cy="299.8" rx="1.8" ry="0.55" fill="#a07aa8" opacity="0.7" transform="rotate(4 247.8 299.8)"/>
<ellipse cx="227.0" cy="271.1" rx="2.6" ry="0.55" fill="#8a6a9a" opacity="0.7" transform="rotate(86 227.0 271.1)"/>
<ellipse cx="257.3" cy="277.8" rx="3.4" ry="0.55" fill="#c08ab0" opacity="0.7" transform="rotate(34 257.3 277.8)"/>
<ellipse cx="224.0" cy="254.5" rx="3.6" ry="0.55" fill="#a07aa8" opacity="0.7" transform="rotate(179 224.0 254.5)"/>
<ellipse cx="304.8" cy="261.3" rx="2.3" ry="0.55" fill="#8a6a9a" opacity="0.7" transform="rotate(176 304.8 261.3)"/>
<ellipse cx="239.0" cy="259.3" rx="2.0" ry="0.55" fill="#a07aa8" opacity="0.7" transform="rotate(129 239.0 259.3)"/>
<ellipse cx="258.0" cy="299.5" rx="2.5" ry="0.55" fill="#a07aa8" opacity="0.7" transform="rotate(143 258.0 299.5)"/>
<ellipse cx="230.1" cy="267.5" rx="3.6" ry="0.55" fill="#a07aa8" opacity="0.7" transform="rotate(15 230.1 267.5)"/>
<ellipse cx="237.6" cy="287.9" rx="3.2" ry="0.55" fill="#8a6a9a" opacity="0.7" transform="rotate(72 237.6 287.9)"/>
<ellipse cx="228.3" cy="265.2" rx="3.5" ry="0.55" fill="#a07aa8" opacity="0.7" transform="rotate(164 228.3 265.2)"/>
<ellipse cx="285.7" cy="267.4" rx="2.3" ry="0.55" fill="#8a6a9a" opacity="0.7" transform="rotate(147 285.7 267.4)"/>
<ellipse cx="242.4" cy="295.3" rx="2.6" ry="0.55" fill="#a07aa8" opacity="0.7" transform="rotate(29 242.4 295.3)"/>
<ellipse cx="291.0" cy="296.6" rx="2.9" ry="0.55" fill="#a07aa8" opacity="0.7" transform="rotate(24 291.0 296.6)"/>
<ellipse cx="223.3" cy="248.8" rx="2.5" ry="0.55" fill="#c08ab0" opacity="0.7" transform="rotate(142 223.3 248.8)"/>
<ellipse cx="240.3" cy="290.8" rx="2.0" ry="0.55" fill="#a07aa8" opacity="0.7" transform="rotate(88 240.3 290.8)"/>
<ellipse cx="284.4" cy="288.3" rx="2.8" ry="0.55" fill="#a07aa8" opacity="0.7" transform="rotate(83 284.4 288.3)"/>
<ellipse cx="299.3" cy="262.3" rx="1.6" ry="0.55" fill="#c08ab0" opacity="0.7" transform="rotate(34 299.3 262.3)"/>
<ellipse cx="270.0" cy="287.0" rx="3.2" ry="0.55" fill="#a07aa8" opacity="0.7" transform="rotate(96 270.0 287.0)"/>
<ellipse cx="272.7" cy="277.7" rx="1.9" ry="0.55" fill="#a07aa8" opacity="0.7" transform="rotate(136 272.7 277.7)"/>
<ellipse cx="255.5" cy="298.2" rx="1.9" ry="0.55" fill="#c08ab0" opacity="0.7" transform="rotate(5 255.5 298.2)"/>
<ellipse cx="261.3" cy="261.5" rx="3.6" ry="0.55" fill="#c08ab0" opacity="0.7" transform="rotate(159 261.3 261.5)"/>
<ellipse cx="272.0" cy="251.3" rx="2.1" ry="0.55" fill="#8a6a9a" opacity="0.7" transform="rotate(98 272.0 251.3)"/>
<ellipse cx="280.6" cy="254.4" rx="2.0" ry="0.55" fill="#8a6a9a" opacity="0.7" transform="rotate(136 280.6 254.4)"/>
<ellipse cx="273.7" cy="243.9" rx="3.7" ry="0.55" fill="#c08ab0" opacity="0.7" transform="rotate(99 273.7 243.9)"/>
<ellipse cx="302.8" cy="285.2" rx="1.9" ry="0.55" fill="#a07aa8" opacity="0.7" transform="rotate(52 302.8 285.2)"/>
<ellipse cx="292.4" cy="278.8" rx="2.7" ry="0.55" fill="#a07aa8" opacity="0.7" transform="rotate(84 292.4 278.8)"/>
<ellipse cx="290.7" cy="256.6" rx="3.1" ry="0.55" fill="#a07aa8" opacity="0.7" transform="rotate(157 290.7 256.6)"/>
<ellipse cx="258.5" cy="280.5" rx="2.8" ry="0.55" fill="#8a6a9a" opacity="0.7" transform="rotate(56 258.5 280.5)"/>
<ellipse cx="239.6" cy="259.7" rx="2.1" ry="0.55" fill="#c08ab0" opacity="0.7" transform="rotate(162 239.6 259.7)"/>
<ellipse cx="287.3" cy="289.5" rx="2.7" ry="0.55" fill="#8a6a9a" opacity="0.7" transform="rotate(34 287.3 289.5)"/>
<ellipse cx="305.0" cy="295.2" rx="2.8" ry="0.55" fill="#a07aa8" opacity="0.7" transform="rotate(5 305.0 295.2)"/>
<ellipse cx="229.5" cy="284.2" rx="1.6" ry="0.55" fill="#c08ab0" opacity="0.7" transform="rotate(126 229.5 284.2)"/>
<ellipse cx="293.2" cy="301.6" rx="3.5" ry="0.55" fill="#8a6a9a" opacity="0.7" transform="rotate(109 293.2 301.6)"/>
<ellipse cx="240.5" cy="265.7" rx="3.1" ry="0.55" fill="#a07aa8" opacity="0.7" transform="rotate(4 240.5 265.7)"/>
<ellipse cx="258.2" cy="246.8" rx="2.2" ry="0.55" fill="#8a6a9a" opacity="0.7" transform="rotate(147 258.2 246.8)"/>
<ellipse cx="264.9" cy="263.3" rx="3.7" ry="0.55" fill="#c08ab0" opacity="0.7" transform="rotate(127 264.9 263.3)"/>
<ellipse cx="270.3" cy="246.7" rx="3.5" ry="0.55" fill="#a07aa8" opacity="0.7" transform="rotate(1 270.3 246.7)"/>
<ellipse cx="260.9" cy="283.9" rx="2.7" ry="0.55" fill="#a07aa8" opacity="0.7" transform="rotate(154 260.9 283.9)"/>
<ellipse cx="240.3" cy="255.1" rx="3.7" ry="0.55" fill="#a07aa8" opacity="0.7" transform="rotate(92 240.3 255.1)"/>
<ellipse cx="241.2" cy="282.1" rx="2.3" ry="0.55" fill="#a07aa8" opacity="0.7" transform="rotate(52 241.2 282.1)"/>
<ellipse cx="254.3" cy="305.2" rx="3.2" ry="0.55" fill="#c08ab0" opacity="0.7" transform="rotate(161 254.3 305.2)"/>
<ellipse cx="292.4" cy="247.0" rx="2.0" ry="0.55" fill="#8a6a9a" opacity="0.7" transform="rotate(149 292.4 247.0)"/>
<ellipse cx="290.0" cy="291.5" rx="2.1" ry="0.55" fill="#a07aa8" opacity="0.7" transform="rotate(60 290.0 291.5)"/>
<ellipse cx="283.0" cy="288.7" rx="2.7" ry="0.55" fill="#a07aa8" opacity="0.7" transform="rotate(17 283.0 288.7)"/>
<ellipse cx="225.3" cy="291.5" rx="3.2" ry="0.55" fill="#c08ab0" opacity="0.7" transform="rotate(142 225.3 291.5)"/>
<ellipse cx="283.8" cy="282.0" rx="3.5" ry="0.55" fill="#a07aa8" opacity="0.7" transform="rotate(61 283.8 282.0)"/>
<ellipse cx="285.7" cy="253.2" rx="2.9" ry="0.55" fill="#8a6a9a" opacity="0.7" transform="rotate(68 285.7 253.2)"/>
<ellipse cx="295.6" cy="258.3" rx="2.7" ry="0.55" fill="#a07aa8" opacity="0.7" transform="rotate(76 295.6 258.3)"/>
<ellipse cx="279.2" cy="273.4" rx="2.0" ry="0.55" fill="#a07aa8" opacity="0.7" transform="rotate(30 279.2 273.4)"/>
<ellipse cx="295.0" cy="298.6" rx="3.5" ry="0.55" fill="#8a6a9a" opacity="0.7" transform="rotate(93 295.0 298.6)"/>
<ellipse cx="222.8" cy="279.3" rx="2.2" ry="0.55" fill="#a07aa8" opacity="0.7" transform="rotate(172 222.8 279.3)"/>
<ellipse cx="249.8" cy="292.9" rx="3.0" ry="0.55" fill="#8a6a9a" opacity="0.7" transform="rotate(142 249.8 292.9)"/>
<ellipse cx="271.5" cy="298.9" rx="2.7" ry="0.55" fill="#a07aa8" opacity="0.7" transform="rotate(93 271.5 298.9)"/>
<ellipse cx="224.4" cy="275.8" rx="2.4" ry="0.55" fill="#8a6a9a" opacity="0.7" transform="rotate(49 224.4 275.8)"/>
<ellipse cx="229.4" cy="282.4" rx="2.5" ry="0.55" fill="#8a6a9a" opacity="0.7" transform="rotate(8 229.4 282.4)"/>
<ellipse cx="240.0" cy="291.6" rx="2.7" ry="0.55" fill="#c08ab0" opacity="0.7" transform="rotate(124 240.0 291.6)"/>
<ellipse cx="232.0" cy="257.6" rx="1.7" ry="0.55" fill="#c08ab0" opacity="0.7" transform="rotate(130 232.0 257.6)"/>
<ellipse cx="256.1" cy="255.1" rx="2.3" ry="0.55" fill="#a07aa8" opacity="0.7" transform="rotate(139 256.1 255.1)"/>
<ellipse cx="274.0" cy="261.0" rx="2.4" ry="0.55" fill="#8a6a9a" opacity="0.7" transform="rotate(139 274.0 261.0)"/>
<ellipse cx="258.1" cy="279.2" rx="1.8" ry="0.55" fill="#c08ab0" opacity="0.7" transform="rotate(16 258.1 279.2)"/>
<ellipse cx="274.4" cy="261.9" rx="2.1" ry="0.55" fill="#a07aa8" opacity="0.7" transform="rotate(155 274.4 261.9)"/>
<ellipse cx="237.0" cy="244.2" rx="3.5" ry="0.55" fill="#8a6a9a" opacity="0.7" transform="rotate(106 237.0 244.2)"/>
<ellipse cx="300.4" cy="254.5" rx="1.7" ry="0.55" fill="#a07aa8" opacity="0.7" transform="rotate(17 300.4 254.5)"/>
<path d="M239.5,241.5 L281,241.5 L279.6,261.7 L285,266 L294,272.5 L306.6,277 L306.6,307.3 L230,307.3 L228,292 L229,272.5 L233,257.4 Z" fill="#c8709e"/>
<ellipse cx="270" cy="273" rx="6" ry="5" fill="#dcaac4" filter="url(#soft2)"/>
<ellipse cx="263.4" cy="291.8" rx="2.9" ry="0.66" fill="#d0509a" transform="rotate(-67 263.4 291.8)"/>
<ellipse cx="246.4" cy="264.4" rx="3.3" ry="0.67" fill="#f6eaf2" transform="rotate(63 246.4 264.4)"/>
<ellipse cx="264.2" cy="262.8" rx="2.0" ry="0.36" fill="#f6eaf2" transform="rotate(102 264.2 262.8)"/>
<ellipse cx="266.2" cy="264.7" rx="3.3" ry="0.66" fill="#f6eaf2" transform="rotate(-65 266.2 264.7)"/>
<ellipse cx="269.4" cy="267.7" rx="1.4" ry="0.39" fill="#34102a" transform="rotate(-35 269.4 267.7)"/>
<ellipse cx="297.2" cy="276.1" rx="2.8" ry="0.54" fill="#4a1436" transform="rotate(81 297.2 276.1)"/>
<ellipse cx="253.2" cy="272.7" rx="3.4" ry="0.41" fill="#e070a8" transform="rotate(-59 253.2 272.7)"/>
<ellipse cx="236.0" cy="266.4" rx="1.9" ry="0.61" fill="#f0dcea" transform="rotate(109 236.0 266.4)"/>
<ellipse cx="239.4" cy="261.4" rx="2.7" ry="0.44" fill="#e8c0d8" transform="rotate(92 239.4 261.4)"/>
<ellipse cx="237.1" cy="277.2" rx="3.5" ry="0.41" fill="#f0dcea" transform="rotate(-47 237.1 277.2)"/>
<ellipse cx="242.4" cy="284.7" rx="3.1" ry="0.63" fill="#e070a8" transform="rotate(95 242.4 284.7)"/>
<ellipse cx="255.2" cy="255.4" rx="2.8" ry="0.45" fill="#e8c0d8" transform="rotate(-35 255.2 255.4)"/>
<ellipse cx="247.3" cy="305.5" rx="1.5" ry="0.41" fill="#d0509a" transform="rotate(68 247.3 305.5)"/>
<ellipse cx="285.3" cy="301.4" rx="3.0" ry="0.54" fill="#d0509a" transform="rotate(106 285.3 301.4)"/>
<ellipse cx="237.9" cy="264.3" rx="1.9" ry="0.55" fill="#e8c0d8" transform="rotate(-50 237.9 264.3)"/>
<ellipse cx="297.9" cy="294.7" rx="3.6" ry="0.47" fill="#e070a8" transform="rotate(-49 297.9 294.7)"/>
<ellipse cx="293.2" cy="301.3" rx="1.8" ry="0.35" fill="#5a1a44" transform="rotate(-60 293.2 301.3)"/>
<ellipse cx="279.6" cy="273.9" rx="1.5" ry="0.45" fill="#4a1436" transform="rotate(79 279.6 273.9)"/>
<ellipse cx="241.0" cy="293.2" rx="2.1" ry="0.36" fill="#5a1a44" transform="rotate(-63 241.0 293.2)"/>
<ellipse cx="236.5" cy="286.5" rx="3.5" ry="0.69" fill="#3a1030" transform="rotate(-46 236.5 286.5)"/>
<ellipse cx="290.0" cy="273.9" rx="3.3" ry="0.42" fill="#3a1030" transform="rotate(115 290.0 273.9)"/>
<ellipse cx="273.5" cy="290.0" rx="1.7" ry="0.47" fill="#d0509a" transform="rotate(-46 273.5 290.0)"/>
<ellipse cx="277.1" cy="264.3" rx="3.2" ry="0.50" fill="#f6eaf2" transform="rotate(-71 277.1 264.3)"/>
<ellipse cx="232.9" cy="290.7" rx="3.3" ry="0.66" fill="#d0509a" transform="rotate(86 232.9 290.7)"/>
<ellipse cx="286.2" cy="270.0" rx="1.8" ry="0.70" fill="#5a1a44" transform="rotate(108 286.2 270.0)"/>
<ellipse cx="272.0" cy="278.1" rx="3.1" ry="0.46" fill="#e070a8" transform="rotate(-44 272.0 278.1)"/>
<ellipse cx="253.1" cy="279.1" rx="3.1" ry="0.40" fill="#e070a8" transform="rotate(79 253.1 279.1)"/>
<ellipse cx="243.0" cy="249.6" rx="3.4" ry="0.42" fill="#5a1a44" transform="rotate(86 243.0 249.6)"/>
<ellipse cx="261.8" cy="291.0" rx="3.6" ry="0.37" fill="#5a1a44" transform="rotate(-58 261.8 291.0)"/>
<ellipse cx="250.5" cy="290.8" rx="3.3" ry="0.51" fill="#e8c0d8" transform="rotate(-64 250.5 290.8)"/>
<ellipse cx="239.2" cy="262.7" rx="2.6" ry="0.35" fill="#e070a8" transform="rotate(-55 239.2 262.7)"/>
<ellipse cx="237.7" cy="305.9" rx="3.3" ry="0.49" fill="#34102a" transform="rotate(86 237.7 305.9)"/>
<ellipse cx="304.1" cy="280.8" rx="2.0" ry="0.41" fill="#f6eaf2" transform="rotate(-63 304.1 280.8)"/>
<ellipse cx="266.2" cy="241.6" rx="1.9" ry="0.42" fill="#e8c0d8" transform="rotate(80 266.2 241.6)"/>
<ellipse cx="300.1" cy="299.5" rx="2.1" ry="0.47" fill="#3a1030" transform="rotate(-57 300.1 299.5)"/>
<ellipse cx="256.7" cy="303.4" rx="2.9" ry="0.69" fill="#f6eaf2" transform="rotate(-55 256.7 303.4)"/>
<ellipse cx="284.1" cy="294.7" rx="1.9" ry="0.60" fill="#e8c0d8" transform="rotate(83 284.1 294.7)"/>
<ellipse cx="286.5" cy="291.7" rx="1.7" ry="0.53" fill="#e8c0d8" transform="rotate(-51 286.5 291.7)"/>
<ellipse cx="304.3" cy="275.4" rx="2.5" ry="0.60" fill="#e8c0d8" transform="rotate(74 304.3 275.4)"/>
<ellipse cx="284.8" cy="287.8" rx="2.8" ry="0.63" fill="#34102a" transform="rotate(-66 284.8 287.8)"/>
<ellipse cx="270.0" cy="242.4" rx="2.6" ry="0.64" fill="#5a1a44" transform="rotate(73 270.0 242.4)"/>
<ellipse cx="271.3" cy="278.7" rx="2.9" ry="0.54" fill="#3a1030" transform="rotate(97 271.3 278.7)"/>
<ellipse cx="267.3" cy="251.3" rx="1.8" ry="0.57" fill="#e8c0d8" transform="rotate(-50 267.3 251.3)"/>
<ellipse cx="241.6" cy="262.3" rx="1.4" ry="0.62" fill="#4a1436" transform="rotate(-69 241.6 262.3)"/>
<ellipse cx="282.8" cy="286.5" rx="1.8" ry="0.41" fill="#e070a8" transform="rotate(-33 282.8 286.5)"/>
<ellipse cx="264.3" cy="252.5" rx="1.9" ry="0.39" fill="#5a1a44" transform="rotate(-66 264.3 252.5)"/>
<ellipse cx="259.0" cy="263.3" rx="2.3" ry="0.37" fill="#4a1436" transform="rotate(-40 259.0 263.3)"/>
<ellipse cx="249.7" cy="244.4" rx="2.4" ry="0.40" fill="#e8c0d8" transform="rotate(115 249.7 244.4)"/>
<ellipse cx="280.6" cy="304.3" rx="3.5" ry="0.36" fill="#5a1a44" transform="rotate(109 280.6 304.3)"/>
<ellipse cx="279.4" cy="276.4" rx="2.3" ry="0.50" fill="#5a1a44" transform="rotate(115 279.4 276.4)"/>
<ellipse cx="254.1" cy="283.6" rx="3.5" ry="0.59" fill="#e8c0d8" transform="rotate(75 254.1 283.6)"/>
<ellipse cx="302.7" cy="289.4" rx="1.5" ry="0.49" fill="#f0dcea" transform="rotate(-75 302.7 289.4)"/>
<ellipse cx="260.4" cy="280.6" rx="2.9" ry="0.59" fill="#3a1030" transform="rotate(-58 260.4 280.6)"/>
<ellipse cx="281.2" cy="302.2" rx="2.7" ry="0.54" fill="#f0dcea" transform="rotate(114 281.2 302.2)"/>
<ellipse cx="261.7" cy="276.9" rx="2.7" ry="0.63" fill="#e8c0d8" transform="rotate(-65 261.7 276.9)"/>
<ellipse cx="304.2" cy="300.1" rx="3.2" ry="0.69" fill="#f6eaf2" transform="rotate(83 304.2 300.1)"/>
<ellipse cx="269.6" cy="260.2" rx="2.4" ry="0.38" fill="#34102a" transform="rotate(-64 269.6 260.2)"/>
<ellipse cx="279.4" cy="268.7" rx="1.9" ry="0.42" fill="#e070a8" transform="rotate(-41 279.4 268.7)"/>
<ellipse cx="268.3" cy="257.6" rx="2.7" ry="0.50" fill="#f6eaf2" transform="rotate(-52 268.3 257.6)"/>
<ellipse cx="292.5" cy="301.3" rx="3.0" ry="0.60" fill="#f6eaf2" transform="rotate(-79 292.5 301.3)"/>
<ellipse cx="278.7" cy="254.9" rx="3.5" ry="0.54" fill="#5a1a44" transform="rotate(116 278.7 254.9)"/>
<ellipse cx="233.1" cy="281.5" rx="3.0" ry="0.63" fill="#4a1436" transform="rotate(-57 233.1 281.5)"/>
<ellipse cx="243.9" cy="275.7" rx="3.4" ry="0.63" fill="#34102a" transform="rotate(-55 243.9 275.7)"/>
<ellipse cx="238.2" cy="271.9" rx="2.8" ry="0.45" fill="#e8c0d8" transform="rotate(100 238.2 271.9)"/>
<ellipse cx="247.5" cy="289.3" rx="3.1" ry="0.35" fill="#3a1030" transform="rotate(70 247.5 289.3)"/>
<ellipse cx="256.4" cy="291.5" rx="2.9" ry="0.68" fill="#f6eaf2" transform="rotate(109 256.4 291.5)"/>
<ellipse cx="260.5" cy="254.8" rx="2.4" ry="0.48" fill="#e8c0d8" transform="rotate(101 260.5 254.8)"/>
<ellipse cx="240.1" cy="279.5" rx="1.4" ry="0.70" fill="#3a1030" transform="rotate(116 240.1 279.5)"/>
<ellipse cx="273.8" cy="249.7" rx="2.6" ry="0.53" fill="#34102a" transform="rotate(-41 273.8 249.7)"/>
<ellipse cx="242.5" cy="262.3" rx="3.0" ry="0.69" fill="#d0509a" transform="rotate(-54 242.5 262.3)"/>
<ellipse cx="280.4" cy="263.5" rx="3.4" ry="0.39" fill="#5a1a44" transform="rotate(96 280.4 263.5)"/>
<ellipse cx="278.6" cy="301.2" rx="1.8" ry="0.52" fill="#4a1436" transform="rotate(-53 278.6 301.2)"/>
<ellipse cx="250.2" cy="250.7" rx="2.8" ry="0.38" fill="#34102a" transform="rotate(60 250.2 250.7)"/>
<ellipse cx="237.3" cy="267.0" rx="3.5" ry="0.37" fill="#3a1030" transform="rotate(88 237.3 267.0)"/>
<ellipse cx="259.6" cy="287.5" rx="1.9" ry="0.46" fill="#d0509a" transform="rotate(-72 259.6 287.5)"/>
<ellipse cx="304.7" cy="276.2" rx="1.5" ry="0.53" fill="#e8c0d8" transform="rotate(88 304.7 276.2)"/>
<ellipse cx="290.6" cy="287.9" rx="3.2" ry="0.47" fill="#f0dcea" transform="rotate(-59 290.6 287.9)"/>
<ellipse cx="281.7" cy="296.2" rx="2.9" ry="0.57" fill="#d0509a" transform="rotate(-43 281.7 296.2)"/>
<ellipse cx="248.8" cy="281.6" rx="3.2" ry="0.36" fill="#4a1436" transform="rotate(-46 248.8 281.6)"/>
<ellipse cx="277.0" cy="257.4" rx="1.8" ry="0.48" fill="#5a1a44" transform="rotate(110 277.0 257.4)"/>
<ellipse cx="238.6" cy="294.9" rx="1.6" ry="0.62" fill="#f6eaf2" transform="rotate(116 238.6 294.9)"/>
<ellipse cx="272.1" cy="304.0" rx="3.0" ry="0.47" fill="#e8c0d8" transform="rotate(115 272.1 304.0)"/>
<ellipse cx="253.9" cy="281.0" rx="2.0" ry="0.42" fill="#34102a" transform="rotate(-47 253.9 281.0)"/>
<ellipse cx="260.6" cy="259.8" rx="2.0" ry="0.49" fill="#d0509a" transform="rotate(-67 260.6 259.8)"/>
<ellipse cx="294.7" cy="287.5" rx="2.2" ry="0.45" fill="#4a1436" transform="rotate(-60 294.7 287.5)"/>
<ellipse cx="275.6" cy="268.0" rx="3.6" ry="0.70" fill="#4a1436" transform="rotate(97 275.6 268.0)"/>
<ellipse cx="290.4" cy="274.9" rx="2.4" ry="0.61" fill="#f6eaf2" transform="rotate(-35 290.4 274.9)"/>
<ellipse cx="298.9" cy="301.2" rx="3.4" ry="0.35" fill="#e8c0d8" transform="rotate(-47 298.9 301.2)"/>
<ellipse cx="268.2" cy="258.9" rx="3.1" ry="0.42" fill="#e070a8" transform="rotate(84 268.2 258.9)"/>
<ellipse cx="261.7" cy="249.0" rx="2.1" ry="0.63" fill="#d0509a" transform="rotate(-46 261.7 249.0)"/>
<ellipse cx="264.7" cy="256.0" rx="2.4" ry="0.59" fill="#34102a" transform="rotate(98 264.7 256.0)"/>
<ellipse cx="280.1" cy="267.8" rx="1.5" ry="0.67" fill="#34102a" transform="rotate(93 280.1 267.8)"/>
<ellipse cx="257.2" cy="243.5" rx="2.9" ry="0.40" fill="#34102a" transform="rotate(-56 257.2 243.5)"/>
<ellipse cx="245.6" cy="256.7" rx="2.0" ry="0.47" fill="#f0dcea" transform="rotate(-60 245.6 256.7)"/>
<ellipse cx="247.2" cy="283.5" rx="1.6" ry="0.56" fill="#e8c0d8" transform="rotate(116 247.2 283.5)"/>
<ellipse cx="254.8" cy="261.9" rx="3.3" ry="0.40" fill="#4a1436" transform="rotate(71 254.8 261.9)"/>
<ellipse cx="241.1" cy="279.3" rx="1.8" ry="0.55" fill="#4a1436" transform="rotate(-62 241.1 279.3)"/>
<ellipse cx="240.8" cy="293.2" rx="3.5" ry="0.49" fill="#4a1436" transform="rotate(-73 240.8 293.2)"/>
<ellipse cx="235.6" cy="266.5" rx="2.8" ry="0.68" fill="#34102a" transform="rotate(63 235.6 266.5)"/>
<ellipse cx="234.5" cy="272.4" rx="2.2" ry="0.40" fill="#3a1030" transform="rotate(-46 234.5 272.4)"/>
<ellipse cx="295.3" cy="273.5" rx="1.9" ry="0.49" fill="#5a1a44" transform="rotate(102 295.3 273.5)"/>
<ellipse cx="290.4" cy="302.6" rx="3.2" ry="0.52" fill="#34102a" transform="rotate(-53 290.4 302.6)"/>
<ellipse cx="235.5" cy="255.5" rx="3.1" ry="0.61" fill="#34102a" transform="rotate(-61 235.5 255.5)"/>
<ellipse cx="257.6" cy="284.8" rx="2.4" ry="0.52" fill="#4a1436" transform="rotate(-43 257.6 284.8)"/>
<ellipse cx="258.2" cy="242.7" rx="3.4" ry="0.56" fill="#f0dcea" transform="rotate(79 258.2 242.7)"/>
<ellipse cx="242.5" cy="274.3" rx="1.7" ry="0.58" fill="#34102a" transform="rotate(-53 242.5 274.3)"/>
<ellipse cx="274.7" cy="256.8" rx="2.8" ry="0.54" fill="#34102a" transform="rotate(112 274.7 256.8)"/>
<ellipse cx="266.2" cy="249.4" rx="3.4" ry="0.64" fill="#34102a" transform="rotate(110 266.2 249.4)"/>
<ellipse cx="264.3" cy="279.9" rx="3.2" ry="0.46" fill="#4a1436" transform="rotate(90 264.3 279.9)"/>
<ellipse cx="277.3" cy="249.3" rx="1.6" ry="0.65" fill="#34102a" transform="rotate(-71 277.3 249.3)"/>
<ellipse cx="241.9" cy="246.8" rx="3.6" ry="0.49" fill="#3a1030" transform="rotate(-63 241.9 246.8)"/>
<ellipse cx="250.9" cy="290.6" rx="2.1" ry="0.60" fill="#34102a" transform="rotate(-65 250.9 290.6)"/>
<ellipse cx="273.9" cy="241.7" rx="2.7" ry="0.39" fill="#e070a8" transform="rotate(-62 273.9 241.7)"/>
<ellipse cx="254.6" cy="264.1" rx="1.9" ry="0.54" fill="#e8c0d8" transform="rotate(-41 254.6 264.1)"/>
<ellipse cx="288.6" cy="296.9" rx="3.1" ry="0.50" fill="#3a1030" transform="rotate(116 288.6 296.9)"/>
<ellipse cx="277.2" cy="264.5" rx="3.3" ry="0.52" fill="#d0509a" transform="rotate(-47 277.2 264.5)"/>
<ellipse cx="246.3" cy="251.8" rx="3.0" ry="0.39" fill="#34102a" transform="rotate(72 246.3 251.8)"/>
<ellipse cx="245.6" cy="300.2" rx="2.8" ry="0.46" fill="#e8c0d8" transform="rotate(-65 245.6 300.2)"/>
<ellipse cx="305.4" cy="301.6" rx="1.7" ry="0.39" fill="#d0509a" transform="rotate(95 305.4 301.6)"/>
<ellipse cx="247.0" cy="254.2" rx="1.7" ry="0.48" fill="#5a1a44" transform="rotate(90 247.0 254.2)"/>
<ellipse cx="235.3" cy="284.7" rx="1.5" ry="0.49" fill="#4a1436" transform="rotate(-77 235.3 284.7)"/>
<ellipse cx="237.6" cy="301.3" rx="2.4" ry="0.50" fill="#f6eaf2" transform="rotate(-34 237.6 301.3)"/>
<ellipse cx="258.2" cy="251.5" rx="2.5" ry="0.43" fill="#5a1a44" transform="rotate(-73 258.2 251.5)"/>
<ellipse cx="246.7" cy="249.1" rx="2.2" ry="0.69" fill="#d0509a" transform="rotate(118 246.7 249.1)"/>
<ellipse cx="255.2" cy="264.4" rx="2.6" ry="0.69" fill="#5a1a44" transform="rotate(-46 255.2 264.4)"/>
<ellipse cx="269.2" cy="244.4" rx="3.6" ry="0.48" fill="#f6eaf2" transform="rotate(107 269.2 244.4)"/>
<ellipse cx="270.0" cy="267.3" rx="2.8" ry="0.69" fill="#34102a" transform="rotate(-44 270.0 267.3)"/>
<ellipse cx="296.2" cy="274.8" rx="1.8" ry="0.40" fill="#5a1a44" transform="rotate(-72 296.2 274.8)"/>
<ellipse cx="239.0" cy="277.2" rx="2.4" ry="0.63" fill="#34102a" transform="rotate(-59 239.0 277.2)"/>
<ellipse cx="264.9" cy="257.0" rx="1.8" ry="0.70" fill="#f6eaf2" transform="rotate(-70 264.9 257.0)"/>
<ellipse cx="280.2" cy="243.8" rx="1.9" ry="0.60" fill="#e8c0d8" transform="rotate(-62 280.2 243.8)"/>
<ellipse cx="261.9" cy="248.0" rx="3.3" ry="0.66" fill="#3a1030" transform="rotate(85 261.9 248.0)"/>
<ellipse cx="247.2" cy="299.2" rx="3.3" ry="0.43" fill="#5a1a44" transform="rotate(85 247.2 299.2)"/>
<ellipse cx="231.7" cy="286.4" rx="2.2" ry="0.56" fill="#5a1a44" transform="rotate(-36 231.7 286.4)"/>
<ellipse cx="231.4" cy="290.9" rx="2.8" ry="0.42" fill="#f6eaf2" transform="rotate(-61 231.4 290.9)"/>
<ellipse cx="251.5" cy="284.7" rx="1.7" ry="0.45" fill="#f6eaf2" transform="rotate(-33 251.5 284.7)"/>
<ellipse cx="243.0" cy="274.5" rx="1.9" ry="0.49" fill="#5a1a44" transform="rotate(-59 243.0 274.5)"/>
<ellipse cx="258.4" cy="262.0" rx="2.2" ry="0.64" fill="#5a1a44" transform="rotate(117 258.4 262.0)"/>
<ellipse cx="301.0" cy="301.3" rx="3.3" ry="0.43" fill="#34102a" transform="rotate(-46 301.0 301.3)"/>
<ellipse cx="301.5" cy="298.1" rx="2.8" ry="0.55" fill="#f6eaf2" transform="rotate(77 301.5 298.1)"/>
<ellipse cx="249.7" cy="300.6" rx="1.9" ry="0.61" fill="#e8c0d8" transform="rotate(70 249.7 300.6)"/>
<ellipse cx="268.8" cy="250.9" rx="2.4" ry="0.45" fill="#3a1030" transform="rotate(-54 268.8 250.9)"/>
<ellipse cx="268.1" cy="286.6" rx="3.3" ry="0.44" fill="#3a1030" transform="rotate(-59 268.1 286.6)"/>
<ellipse cx="245.9" cy="243.5" rx="3.6" ry="0.46" fill="#d0509a" transform="rotate(-73 245.9 243.5)"/>
<ellipse cx="272.0" cy="280.7" rx="1.4" ry="0.64" fill="#34102a" transform="rotate(110 272.0 280.7)"/>
<ellipse cx="274.6" cy="279.3" rx="2.4" ry="0.51" fill="#3a1030" transform="rotate(112 274.6 279.3)"/>
<ellipse cx="247.5" cy="273.3" rx="2.3" ry="0.69" fill="#d0509a" transform="rotate(75 247.5 273.3)"/>
<ellipse cx="243.1" cy="300.9" rx="1.6" ry="0.45" fill="#4a1436" transform="rotate(-58 243.1 300.9)"/>
<ellipse cx="260.0" cy="300.2" rx="3.1" ry="0.52" fill="#5a1a44" transform="rotate(-34 260.0 300.2)"/>
<ellipse cx="283.8" cy="305.9" rx="2.0" ry="0.53" fill="#e070a8" transform="rotate(-65 283.8 305.9)"/>
<ellipse cx="253.6" cy="270.4" rx="1.8" ry="0.43" fill="#e8c0d8" transform="rotate(-63 253.6 270.4)"/>
<ellipse cx="258.5" cy="303.7" rx="2.0" ry="0.60" fill="#5a1a44" transform="rotate(-51 258.5 303.7)"/>
<ellipse cx="295.8" cy="305.3" rx="1.8" ry="0.65" fill="#4a1436" transform="rotate(97 295.8 305.3)"/>
<ellipse cx="242.9" cy="249.6" rx="2.9" ry="0.43" fill="#e8c0d8" transform="rotate(-70 242.9 249.6)"/>
<ellipse cx="260.1" cy="273.5" rx="3.0" ry="0.60" fill="#34102a" transform="rotate(-70 260.1 273.5)"/>
<ellipse cx="291.5" cy="280.4" rx="2.0" ry="0.42" fill="#5a1a44" transform="rotate(111 291.5 280.4)"/>
<ellipse cx="236.9" cy="297.8" rx="2.5" ry="0.38" fill="#f0dcea" transform="rotate(81 236.9 297.8)"/>
<ellipse cx="283.2" cy="302.9" rx="1.6" ry="0.63" fill="#f6eaf2" transform="rotate(100 283.2 302.9)"/>
<ellipse cx="274.5" cy="287.0" rx="1.5" ry="0.68" fill="#d0509a" transform="rotate(-55 274.5 287.0)"/>
<ellipse cx="305.0" cy="287.4" rx="1.7" ry="0.69" fill="#5a1a44" transform="rotate(97 305.0 287.4)"/>
<ellipse cx="256.9" cy="269.1" rx="3.4" ry="0.42" fill="#34102a" transform="rotate(-41 256.9 269.1)"/>
<ellipse cx="266.2" cy="288.3" rx="1.8" ry="0.48" fill="#d0509a" transform="rotate(115 266.2 288.3)"/>
<ellipse cx="272.1" cy="286.2" rx="1.9" ry="0.48" fill="#e8c0d8" transform="rotate(83 272.1 286.2)"/>
<ellipse cx="295.3" cy="281.3" rx="2.1" ry="0.69" fill="#34102a" transform="rotate(-58 295.3 281.3)"/>
<ellipse cx="281.6" cy="298.2" rx="3.1" ry="0.41" fill="#d0509a" transform="rotate(69 281.6 298.2)"/>
<ellipse cx="294.2" cy="291.0" rx="2.8" ry="0.36" fill="#f0dcea" transform="rotate(-71 294.2 291.0)"/>
<ellipse cx="248.4" cy="249.2" rx="1.9" ry="0.48" fill="#4a1436" transform="rotate(-55 248.4 249.2)"/>
<ellipse cx="282.2" cy="297.3" rx="2.8" ry="0.41" fill="#34102a" transform="rotate(100 282.2 297.3)"/>
<ellipse cx="260.0" cy="298.9" rx="1.9" ry="0.43" fill="#3a1030" transform="rotate(-48 260.0 298.9)"/>
<ellipse cx="238.0" cy="288.8" rx="2.1" ry="0.60" fill="#4a1436" transform="rotate(-54 238.0 288.8)"/>
<ellipse cx="255.1" cy="291.2" rx="1.9" ry="0.61" fill="#d0509a" transform="rotate(-51 255.1 291.2)"/>
<ellipse cx="251.8" cy="242.6" rx="3.1" ry="0.43" fill="#f6eaf2" transform="rotate(94 251.8 242.6)"/>
<ellipse cx="230.0" cy="276.2" rx="3.0" ry="0.37" fill="#d0509a" transform="rotate(96 230.0 276.2)"/>
<ellipse cx="298.4" cy="293.6" rx="3.6" ry="0.45" fill="#d0509a" transform="rotate(103 298.4 293.6)"/>
<ellipse cx="234.2" cy="256.0" rx="3.2" ry="0.48" fill="#e8c0d8" transform="rotate(-78 234.2 256.0)"/>
<ellipse cx="276.2" cy="286.9" rx="3.2" ry="0.43" fill="#e070a8" transform="rotate(-32 276.2 286.9)"/>
<ellipse cx="302.3" cy="279.7" rx="3.3" ry="0.69" fill="#e070a8" transform="rotate(83 302.3 279.7)"/>
<ellipse cx="234.1" cy="300.2" rx="3.4" ry="0.55" fill="#d0509a" transform="rotate(81 234.1 300.2)"/>
<ellipse cx="280.6" cy="266.2" rx="2.7" ry="0.44" fill="#e070a8" transform="rotate(-52 280.6 266.2)"/>
<ellipse cx="267.4" cy="281.4" rx="1.6" ry="0.48" fill="#4a1436" transform="rotate(116 267.4 281.4)"/>
<ellipse cx="272.7" cy="293.0" rx="3.2" ry="0.38" fill="#34102a" transform="rotate(65 272.7 293.0)"/>
<ellipse cx="241.6" cy="276.9" rx="3.5" ry="0.67" fill="#5a1a44" transform="rotate(-50 241.6 276.9)"/>
<ellipse cx="239.0" cy="252.3" rx="1.4" ry="0.69" fill="#4a1436" transform="rotate(-79 239.0 252.3)"/>
<ellipse cx="240.6" cy="247.0" rx="2.7" ry="0.68" fill="#e8c0d8" transform="rotate(-80 240.6 247.0)"/>
<ellipse cx="305.7" cy="300.1" rx="2.4" ry="0.67" fill="#f0dcea" transform="rotate(-71 305.7 300.1)"/>
<ellipse cx="255.3" cy="263.0" rx="3.4" ry="0.67" fill="#3a1030" transform="rotate(-53 255.3 263.0)"/>
<ellipse cx="253.2" cy="273.4" rx="3.3" ry="0.69" fill="#f0dcea" transform="rotate(-51 253.2 273.4)"/>
<ellipse cx="265.3" cy="274.8" rx="1.7" ry="0.35" fill="#d0509a" transform="rotate(-60 265.3 274.8)"/>
<ellipse cx="251.0" cy="251.2" rx="2.0" ry="0.55" fill="#3a1030" transform="rotate(-56 251.0 251.2)"/>
<ellipse cx="269.5" cy="293.7" rx="2.3" ry="0.39" fill="#e070a8" transform="rotate(117 269.5 293.7)"/>
<ellipse cx="267.0" cy="260.0" rx="3.3" ry="0.59" fill="#e070a8" transform="rotate(116 267.0 260.0)"/>
<ellipse cx="265.0" cy="252.6" rx="3.0" ry="0.37" fill="#4a1436" transform="rotate(-59 265.0 252.6)"/>
<ellipse cx="239.6" cy="292.9" rx="3.4" ry="0.66" fill="#5a1a44" transform="rotate(-58 239.6 292.9)"/>
<ellipse cx="240.2" cy="247.0" rx="3.5" ry="0.49" fill="#4a1436" transform="rotate(-55 240.2 247.0)"/>
<ellipse cx="266.9" cy="249.4" rx="2.3" ry="0.36" fill="#34102a" transform="rotate(107 266.9 249.4)"/>
<ellipse cx="304.2" cy="281.2" rx="2.5" ry="0.55" fill="#3a1030" transform="rotate(-63 304.2 281.2)"/>
<ellipse cx="263.3" cy="295.7" rx="2.6" ry="0.43" fill="#e070a8" transform="rotate(-47 263.3 295.7)"/>
<ellipse cx="264.4" cy="269.1" rx="2.6" ry="0.59" fill="#4a1436" transform="rotate(-51 264.4 269.1)"/>
<ellipse cx="253.9" cy="267.3" rx="3.5" ry="0.41" fill="#e8c0d8" transform="rotate(-63 253.9 267.3)"/>
<ellipse cx="265.2" cy="252.3" rx="2.1" ry="0.38" fill="#d0509a" transform="rotate(-60 265.2 252.3)"/>
<ellipse cx="232.5" cy="268.6" rx="3.2" ry="0.68" fill="#e070a8" transform="rotate(-64 232.5 268.6)"/>
<ellipse cx="279.8" cy="298.4" rx="2.9" ry="0.44" fill="#5a1a44" transform="rotate(95 279.8 298.4)"/>
<ellipse cx="290.7" cy="299.4" rx="1.6" ry="0.65" fill="#4a1436" transform="rotate(77 290.7 299.4)"/>
<ellipse cx="299.0" cy="293.5" rx="2.7" ry="0.51" fill="#5a1a44" transform="rotate(-76 299.0 293.5)"/>
<ellipse cx="245.4" cy="283.9" rx="2.1" ry="0.62" fill="#d0509a" transform="rotate(-59 245.4 283.9)"/>
<ellipse cx="289.9" cy="291.7" rx="1.6" ry="0.50" fill="#4a1436" transform="rotate(-32 289.9 291.7)"/>
<ellipse cx="231.4" cy="270.4" rx="3.3" ry="0.61" fill="#f6eaf2" transform="rotate(-67 231.4 270.4)"/>
<ellipse cx="264.8" cy="268.3" rx="2.3" ry="0.51" fill="#4a1436" transform="rotate(109 264.8 268.3)"/>
<ellipse cx="244.8" cy="270.4" rx="2.6" ry="0.65" fill="#e8c0d8" transform="rotate(96 244.8 270.4)"/>
<ellipse cx="247.4" cy="304.2" rx="1.8" ry="0.61" fill="#e070a8" transform="rotate(105 247.4 304.2)"/>
<ellipse cx="273.9" cy="288.2" rx="1.4" ry="0.51" fill="#d0509a" transform="rotate(72 273.9 288.2)"/>
<ellipse cx="246.9" cy="283.4" rx="1.5" ry="0.46" fill="#d0509a" transform="rotate(-77 246.9 283.4)"/>
<ellipse cx="276.3" cy="288.3" rx="3.1" ry="0.63" fill="#d0509a" transform="rotate(-57 276.3 288.3)"/>
<ellipse cx="258.9" cy="303.2" rx="1.9" ry="0.60" fill="#3a1030" transform="rotate(82 258.9 303.2)"/>
<ellipse cx="304.8" cy="288.6" rx="2.4" ry="0.38" fill="#f0dcea" transform="rotate(-63 304.8 288.6)"/>
<ellipse cx="277.7" cy="272.6" rx="2.3" ry="0.42" fill="#34102a" transform="rotate(94 277.7 272.6)"/>
<ellipse cx="247.4" cy="244.5" rx="2.4" ry="0.69" fill="#f0dcea" transform="rotate(63 247.4 244.5)"/>
<ellipse cx="259.4" cy="264.9" rx="2.3" ry="0.55" fill="#34102a" transform="rotate(78 259.4 264.9)"/>
<ellipse cx="288.0" cy="288.7" rx="1.6" ry="0.65" fill="#34102a" transform="rotate(-51 288.0 288.7)"/>
<ellipse cx="251.0" cy="242.1" rx="1.7" ry="0.49" fill="#5a1a44" transform="rotate(64 251.0 242.1)"/>
<ellipse cx="256.2" cy="258.9" rx="3.3" ry="0.36" fill="#34102a" transform="rotate(-59 256.2 258.9)"/>
<ellipse cx="288.0" cy="280.1" rx="3.5" ry="0.69" fill="#5a1a44" transform="rotate(-60 288.0 280.1)"/>
<ellipse cx="287.8" cy="268.4" rx="3.0" ry="0.35" fill="#f6eaf2" transform="rotate(-46 287.8 268.4)"/>
<ellipse cx="304.6" cy="287.2" rx="1.8" ry="0.58" fill="#e070a8" transform="rotate(107 304.6 287.2)"/>
<ellipse cx="294.6" cy="277.3" rx="3.6" ry="0.56" fill="#5a1a44" transform="rotate(76 294.6 277.3)"/>
<ellipse cx="240.8" cy="301.3" rx="3.5" ry="0.59" fill="#e070a8" transform="rotate(115 240.8 301.3)"/>
<ellipse cx="302.2" cy="285.3" rx="3.4" ry="0.49" fill="#f6eaf2" transform="rotate(-52 302.2 285.3)"/>
<ellipse cx="240.8" cy="246.5" rx="2.0" ry="0.68" fill="#f6eaf2" transform="rotate(74 240.8 246.5)"/>
<ellipse cx="301.8" cy="297.7" rx="1.6" ry="0.64" fill="#d0509a" transform="rotate(92 301.8 297.7)"/>
<ellipse cx="250.4" cy="262.6" rx="3.6" ry="0.67" fill="#e8c0d8" transform="rotate(87 250.4 262.6)"/>
<ellipse cx="244.8" cy="268.3" rx="1.9" ry="0.37" fill="#34102a" transform="rotate(65 244.8 268.3)"/>
<ellipse cx="240.9" cy="275.3" rx="1.9" ry="0.58" fill="#34102a" transform="rotate(63 240.9 275.3)"/>
<ellipse cx="265.3" cy="254.9" rx="2.0" ry="0.69" fill="#3a1030" transform="rotate(75 265.3 254.9)"/>
<ellipse cx="242.5" cy="260.5" rx="2.0" ry="0.49" fill="#3a1030" transform="rotate(115 242.5 260.5)"/>
<ellipse cx="246.1" cy="278.7" rx="3.6" ry="0.48" fill="#3a1030" transform="rotate(-74 246.1 278.7)"/>
<ellipse cx="262.2" cy="302.7" rx="1.5" ry="0.53" fill="#5a1a44" transform="rotate(-36 262.2 302.7)"/>
<ellipse cx="277.6" cy="295.6" rx="3.4" ry="0.64" fill="#f6eaf2" transform="rotate(61 277.6 295.6)"/>
<ellipse cx="233.9" cy="272.4" rx="1.4" ry="0.45" fill="#5a1a44" transform="rotate(67 233.9 272.4)"/>
<ellipse cx="237.8" cy="285.6" rx="1.5" ry="0.39" fill="#f6eaf2" transform="rotate(70 237.8 285.6)"/>
<ellipse cx="286.0" cy="283.3" rx="1.7" ry="0.39" fill="#f0dcea" transform="rotate(-41 286.0 283.3)"/>
<ellipse cx="245.7" cy="289.6" rx="1.9" ry="0.60" fill="#f0dcea" transform="rotate(107 245.7 289.6)"/>
<ellipse cx="249.5" cy="301.7" rx="2.8" ry="0.53" fill="#f0dcea" transform="rotate(-57 249.5 301.7)"/>
<ellipse cx="275.6" cy="245.1" rx="1.9" ry="0.38" fill="#34102a" transform="rotate(-47 275.6 245.1)"/>
<ellipse cx="260.5" cy="278.4" rx="3.5" ry="0.56" fill="#4a1436" transform="rotate(-55 260.5 278.4)"/>
<ellipse cx="269.8" cy="273.6" rx="1.6" ry="0.51" fill="#d0509a" transform="rotate(79 269.8 273.6)"/>
<ellipse cx="252.3" cy="259.9" rx="1.6" ry="0.58" fill="#d0509a" transform="rotate(-73 252.3 259.9)"/>
<ellipse cx="264.0" cy="301.3" rx="2.2" ry="0.59" fill="#f0dcea" transform="rotate(-34 264.0 301.3)"/>
<ellipse cx="263.9" cy="249.8" rx="2.2" ry="0.52" fill="#3a1030" transform="rotate(-57 263.9 249.8)"/>
<ellipse cx="262.8" cy="263.7" rx="2.5" ry="0.56" fill="#e070a8" transform="rotate(68 262.8 263.7)"/>
<ellipse cx="244.3" cy="247.3" rx="3.0" ry="0.49" fill="#e070a8" transform="rotate(74 244.3 247.3)"/>
<ellipse cx="252.8" cy="303.3" rx="2.2" ry="0.37" fill="#d0509a" transform="rotate(84 252.8 303.3)"/>
<ellipse cx="289.7" cy="275.5" rx="2.8" ry="0.69" fill="#4a1436" transform="rotate(-51 289.7 275.5)"/>
<ellipse cx="276.5" cy="303.7" rx="1.4" ry="0.60" fill="#5a1a44" transform="rotate(-75 276.5 303.7)"/>
<ellipse cx="242.4" cy="266.5" rx="3.1" ry="0.49" fill="#34102a" transform="rotate(62 242.4 266.5)"/>
<ellipse cx="253.5" cy="253.1" rx="3.2" ry="0.40" fill="#e8c0d8" transform="rotate(-61 253.5 253.1)"/>
<ellipse cx="254.6" cy="273.9" rx="2.8" ry="0.69" fill="#f6eaf2" transform="rotate(-30 254.6 273.9)"/>
<ellipse cx="252.9" cy="305.2" rx="2.7" ry="0.38" fill="#34102a" transform="rotate(-80 252.9 305.2)"/>
<ellipse cx="272.9" cy="287.7" rx="2.5" ry="0.39" fill="#34102a" transform="rotate(-67 272.9 287.7)"/>
<ellipse cx="236.3" cy="257.6" rx="3.5" ry="0.42" fill="#3a1030" transform="rotate(68 236.3 257.6)"/>
<ellipse cx="241.5" cy="275.7" rx="3.2" ry="0.41" fill="#f6eaf2" transform="rotate(-40 241.5 275.7)"/>
<ellipse cx="295.2" cy="290.0" rx="3.2" ry="0.39" fill="#34102a" transform="rotate(69 295.2 290.0)"/>
<ellipse cx="269.6" cy="252.5" rx="1.6" ry="0.42" fill="#f6eaf2" transform="rotate(-45 269.6 252.5)"/>
<ellipse cx="285.5" cy="294.1" rx="2.5" ry="0.52" fill="#e070a8" transform="rotate(-52 285.5 294.1)"/>
<ellipse cx="243.6" cy="302.8" rx="1.7" ry="0.65" fill="#5a1a44" transform="rotate(-44 243.6 302.8)"/>
<ellipse cx="262.8" cy="288.2" rx="3.1" ry="0.69" fill="#5a1a44" transform="rotate(-69 262.8 288.2)"/>
<ellipse cx="262.7" cy="295.6" rx="3.0" ry="0.54" fill="#3a1030" transform="rotate(119 262.7 295.6)"/>
<ellipse cx="256.3" cy="284.3" rx="1.8" ry="0.41" fill="#f6eaf2" transform="rotate(-52 256.3 284.3)"/>
<ellipse cx="246.3" cy="243.1" rx="2.7" ry="0.58" fill="#5a1a44" transform="rotate(96 246.3 243.1)"/>
<ellipse cx="297.6" cy="303.6" rx="2.3" ry="0.51" fill="#34102a" transform="rotate(67 297.6 303.6)"/>
<ellipse cx="246.4" cy="289.5" rx="2.4" ry="0.36" fill="#5a1a44" transform="rotate(-56 246.4 289.5)"/>
<ellipse cx="236.7" cy="299.4" rx="1.9" ry="0.49" fill="#e070a8" transform="rotate(-63 236.7 299.4)"/>
<ellipse cx="253.6" cy="304.8" rx="1.9" ry="0.57" fill="#f0dcea" transform="rotate(-59 253.6 304.8)"/>
<ellipse cx="303.8" cy="297.0" rx="2.8" ry="0.50" fill="#4a1436" transform="rotate(-50 303.8 297.0)"/>
<ellipse cx="245.1" cy="262.5" rx="1.9" ry="0.43" fill="#34102a" transform="rotate(69 245.1 262.5)"/>
<ellipse cx="246.7" cy="274.1" rx="2.2" ry="0.63" fill="#e8c0d8" transform="rotate(-33 246.7 274.1)"/>
<ellipse cx="230.5" cy="304.9" rx="3.2" ry="0.65" fill="#5a1a44" transform="rotate(-36 230.5 304.9)"/>
<ellipse cx="254.0" cy="290.9" rx="2.8" ry="0.44" fill="#f6eaf2" transform="rotate(72 254.0 290.9)"/>
<ellipse cx="298.5" cy="300.7" rx="2.1" ry="0.44" fill="#3a1030" transform="rotate(-42 298.5 300.7)"/>
<ellipse cx="246.0" cy="294.7" rx="1.8" ry="0.42" fill="#d0509a" transform="rotate(71 246.0 294.7)"/>
<ellipse cx="237.9" cy="304.4" rx="1.5" ry="0.42" fill="#5a1a44" transform="rotate(-51 237.9 304.4)"/>
<ellipse cx="255.4" cy="242.9" rx="2.4" ry="0.58" fill="#e8c0d8" transform="rotate(-54 255.4 242.9)"/>
<ellipse cx="240.7" cy="300.2" rx="2.2" ry="0.43" fill="#5a1a44" transform="rotate(87 240.7 300.2)"/>
<ellipse cx="301.9" cy="273.1" rx="2.8" ry="0.38" fill="#f6eaf2" transform="rotate(-68 301.9 273.1)"/>
<ellipse cx="239.8" cy="256.7" rx="2.4" ry="0.54" fill="#34102a" transform="rotate(-59 239.8 256.7)"/>
<ellipse cx="277.3" cy="285.6" rx="2.5" ry="0.55" fill="#34102a" transform="rotate(70 277.3 285.6)"/>
<ellipse cx="236.9" cy="271.2" rx="2.2" ry="0.70" fill="#d0509a" transform="rotate(82 236.9 271.2)"/>
<ellipse cx="277.6" cy="276.8" rx="3.1" ry="0.47" fill="#e070a8" transform="rotate(-77 277.6 276.8)"/>
<ellipse cx="301.2" cy="279.5" rx="1.9" ry="0.43" fill="#f0dcea" transform="rotate(-54 301.2 279.5)"/>
<ellipse cx="236.2" cy="270.5" rx="2.9" ry="0.38" fill="#3a1030" transform="rotate(-57 236.2 270.5)"/>
<ellipse cx="298.2" cy="300.1" rx="3.4" ry="0.64" fill="#3a1030" transform="rotate(-57 298.2 300.1)"/>
<ellipse cx="276.9" cy="291.7" rx="3.3" ry="0.58" fill="#e070a8" transform="rotate(-62 276.9 291.7)"/>
<ellipse cx="256.6" cy="302.5" rx="3.4" ry="0.48" fill="#3a1030" transform="rotate(66 256.6 302.5)"/>
<ellipse cx="289.5" cy="298.7" rx="2.7" ry="0.48" fill="#e070a8" transform="rotate(-69 289.5 298.7)"/>
<ellipse cx="283.6" cy="298.6" rx="1.5" ry="0.51" fill="#34102a" transform="rotate(69 283.6 298.6)"/>
<ellipse cx="271.4" cy="268.1" rx="2.8" ry="0.47" fill="#e8c0d8" transform="rotate(-55 271.4 268.1)"/>
<ellipse cx="234.5" cy="254.8" rx="1.7" ry="0.36" fill="#e8c0d8" transform="rotate(-53 234.5 254.8)"/>
<ellipse cx="243.4" cy="247.6" rx="1.7" ry="0.55" fill="#5a1a44" transform="rotate(-68 243.4 247.6)"/>
<ellipse cx="256.0" cy="285.6" rx="2.0" ry="0.50" fill="#3a1030" transform="rotate(-40 256.0 285.6)"/>
<ellipse cx="246.2" cy="247.4" rx="2.9" ry="0.43" fill="#4a1436" transform="rotate(-75 246.2 247.4)"/>
<ellipse cx="273.8" cy="302.1" rx="3.4" ry="0.41" fill="#e070a8" transform="rotate(64 273.8 302.1)"/>
<ellipse cx="296.9" cy="302.7" rx="3.3" ry="0.50" fill="#d0509a" transform="rotate(78 296.9 302.7)"/>
<ellipse cx="253.0" cy="278.9" rx="2.6" ry="0.39" fill="#34102a" transform="rotate(62 253.0 278.9)"/>
<ellipse cx="235.4" cy="275.9" rx="3.4" ry="0.55" fill="#e070a8" transform="rotate(-68 235.4 275.9)"/>
<ellipse cx="278.5" cy="284.4" rx="3.2" ry="0.66" fill="#34102a" transform="rotate(70 278.5 284.4)"/>
<ellipse cx="238.1" cy="261.2" rx="3.3" ry="0.43" fill="#e8c0d8" transform="rotate(-54 238.1 261.2)"/>
<ellipse cx="287.5" cy="294.2" rx="3.6" ry="0.47" fill="#3a1030" transform="rotate(-61 287.5 294.2)"/>
<ellipse cx="237.0" cy="257.3" rx="2.6" ry="0.44" fill="#3a1030" transform="rotate(-46 237.0 257.3)"/>
<ellipse cx="241.7" cy="246.2" rx="3.5" ry="0.69" fill="#d0509a" transform="rotate(-65 241.7 246.2)"/>
<ellipse cx="266.2" cy="274.8" rx="2.0" ry="0.49" fill="#d0509a" transform="rotate(-59 266.2 274.8)"/>
<ellipse cx="244.0" cy="249.8" rx="3.3" ry="0.36" fill="#d0509a" transform="rotate(-45 244.0 249.8)"/>
<ellipse cx="298.7" cy="275.4" rx="3.3" ry="0.65" fill="#34102a" transform="rotate(118 298.7 275.4)"/>
<ellipse cx="252.7" cy="274.1" rx="1.8" ry="0.56" fill="#f6eaf2" transform="rotate(72 252.7 274.1)"/>
<ellipse cx="266.4" cy="275.2" rx="2.6" ry="0.66" fill="#f6eaf2" transform="rotate(-32 266.4 275.2)"/>
<ellipse cx="244.6" cy="263.0" rx="2.6" ry="0.36" fill="#34102a" transform="rotate(105 244.6 263.0)"/>
<ellipse cx="236.3" cy="301.8" rx="1.5" ry="0.36" fill="#e070a8" transform="rotate(84 236.3 301.8)"/>
<ellipse cx="255.5" cy="293.0" rx="1.8" ry="0.61" fill="#4a1436" transform="rotate(-58 255.5 293.0)"/>
<ellipse cx="273.8" cy="297.2" rx="2.7" ry="0.66" fill="#d0509a" transform="rotate(119 273.8 297.2)"/>
<ellipse cx="237.8" cy="284.8" rx="2.1" ry="0.43" fill="#4a1436" transform="rotate(72 237.8 284.8)"/>
<ellipse cx="291.1" cy="290.7" rx="3.2" ry="0.63" fill="#d0509a" transform="rotate(-67 291.1 290.7)"/>
<ellipse cx="243.7" cy="291.1" rx="2.8" ry="0.41" fill="#e8c0d8" transform="rotate(-45 243.7 291.1)"/>
<ellipse cx="229.9" cy="300.2" rx="3.1" ry="0.35" fill="#3a1030" transform="rotate(88 229.9 300.2)"/>
<ellipse cx="237.4" cy="281.2" rx="1.8" ry="0.40" fill="#e8c0d8" transform="rotate(-77 237.4 281.2)"/>
<ellipse cx="275.1" cy="297.7" rx="2.8" ry="0.39" fill="#f0dcea" transform="rotate(-62 275.1 297.7)"/>
<ellipse cx="239.6" cy="271.0" rx="2.1" ry="0.49" fill="#4a1436" transform="rotate(-51 239.6 271.0)"/>
<ellipse cx="260.7" cy="254.3" rx="1.6" ry="0.35" fill="#4a1436" transform="rotate(-50 260.7 254.3)"/>
<ellipse cx="288.8" cy="281.6" rx="1.5" ry="0.47" fill="#3a1030" transform="rotate(-63 288.8 281.6)"/>
<ellipse cx="294.6" cy="305.2" rx="3.3" ry="0.60" fill="#e8c0d8" transform="rotate(64 294.6 305.2)"/>
<ellipse cx="229.3" cy="273.8" rx="2.7" ry="0.68" fill="#3a1030" transform="rotate(-55 229.3 273.8)"/>
<ellipse cx="259.4" cy="263.9" rx="2.3" ry="0.46" fill="#3a1030" transform="rotate(100 259.4 263.9)"/>
<ellipse cx="240.1" cy="295.5" rx="1.9" ry="0.45" fill="#f0dcea" transform="rotate(87 240.1 295.5)"/>
<ellipse cx="240.8" cy="282.1" rx="3.2" ry="0.40" fill="#f0dcea" transform="rotate(-56 240.8 282.1)"/>
<ellipse cx="279.9" cy="305.0" rx="2.1" ry="0.54" fill="#e8c0d8" transform="rotate(-32 279.9 305.0)"/>
<ellipse cx="262.3" cy="276.4" rx="1.8" ry="0.64" fill="#f0dcea" transform="rotate(110 262.3 276.4)"/>
<ellipse cx="280.6" cy="301.5" rx="1.7" ry="0.46" fill="#3a1030" transform="rotate(69 280.6 301.5)"/>
<ellipse cx="248.0" cy="279.4" rx="3.0" ry="0.65" fill="#e070a8" transform="rotate(106 248.0 279.4)"/>
<ellipse cx="304.4" cy="301.2" rx="2.4" ry="0.38" fill="#f0dcea" transform="rotate(-57 304.4 301.2)"/>
<ellipse cx="269.4" cy="275.1" rx="2.6" ry="0.45" fill="#e8c0d8" transform="rotate(84 269.4 275.1)"/>
<ellipse cx="243.4" cy="294.1" rx="2.8" ry="0.42" fill="#34102a" transform="rotate(110 243.4 294.1)"/>
<ellipse cx="230.0" cy="278.5" rx="2.3" ry="0.57" fill="#3a1030" transform="rotate(69 230.0 278.5)"/>
<ellipse cx="286.0" cy="282.3" rx="2.4" ry="0.38" fill="#e070a8" transform="rotate(-48 286.0 282.3)"/>
<ellipse cx="232.0" cy="289.6" rx="3.5" ry="0.53" fill="#f0dcea" transform="rotate(-40 232.0 289.6)"/>
<ellipse cx="272.3" cy="251.6" rx="2.0" ry="0.62" fill="#f0dcea" transform="rotate(-53 272.3 251.6)"/>
<ellipse cx="252.3" cy="250.9" rx="1.4" ry="0.67" fill="#f6eaf2" transform="rotate(-33 252.3 250.9)"/>
<ellipse cx="230.5" cy="269.1" rx="2.0" ry="0.41" fill="#4a1436" transform="rotate(-64 230.5 269.1)"/>
<ellipse cx="268.2" cy="294.1" rx="1.5" ry="0.49" fill="#5a1a44" transform="rotate(-52 268.2 294.1)"/>
<ellipse cx="230.0" cy="303.9" rx="1.5" ry="0.51" fill="#e8c0d8" transform="rotate(103 230.0 303.9)"/>
<ellipse cx="302.6" cy="298.4" rx="3.3" ry="0.43" fill="#f6eaf2" transform="rotate(67 302.6 298.4)"/>
<ellipse cx="276.1" cy="282.6" rx="3.5" ry="0.68" fill="#34102a" transform="rotate(110 276.1 282.6)"/>
<ellipse cx="302.8" cy="304.7" rx="2.5" ry="0.50" fill="#4a1436" transform="rotate(76 302.8 304.7)"/>
<ellipse cx="236.2" cy="260.9" rx="2.4" ry="0.51" fill="#3a1030" transform="rotate(-52 236.2 260.9)"/>
<ellipse cx="286.8" cy="300.2" rx="3.3" ry="0.36" fill="#34102a" transform="rotate(-32 286.8 300.2)"/>
<ellipse cx="264.3" cy="302.1" rx="2.7" ry="0.42" fill="#f0dcea" transform="rotate(-67 264.3 302.1)"/>
<ellipse cx="238.3" cy="297.4" rx="3.2" ry="0.46" fill="#4a1436" transform="rotate(-50 238.3 297.4)"/>
<ellipse cx="283.2" cy="280.7" rx="1.6" ry="0.36" fill="#4a1436" transform="rotate(80 283.2 280.7)"/>
<ellipse cx="278.1" cy="258.7" rx="3.4" ry="0.66" fill="#e070a8" transform="rotate(82 278.1 258.7)"/>
<ellipse cx="268.5" cy="287.0" rx="2.3" ry="0.51" fill="#34102a" transform="rotate(-41 268.5 287.0)"/>
<ellipse cx="247.6" cy="245.2" rx="1.5" ry="0.60" fill="#f6eaf2" transform="rotate(-53 247.6 245.2)"/>
<ellipse cx="279.4" cy="268.7" rx="2.7" ry="0.66" fill="#f0dcea" transform="rotate(-37 279.4 268.7)"/>
<ellipse cx="276.1" cy="250.7" rx="1.5" ry="0.62" fill="#3a1030" transform="rotate(-51 276.1 250.7)"/>
<ellipse cx="247.5" cy="260.9" rx="2.9" ry="0.39" fill="#e070a8" transform="rotate(-52 247.5 260.9)"/>
<ellipse cx="278.4" cy="281.6" rx="1.8" ry="0.66" fill="#4a1436" transform="rotate(-39 278.4 281.6)"/>
<ellipse cx="296.3" cy="291.1" rx="3.5" ry="0.62" fill="#e070a8" transform="rotate(64 296.3 291.1)"/>
<ellipse cx="299.1" cy="299.2" rx="2.1" ry="0.61" fill="#5a1a44" transform="rotate(83 299.1 299.2)"/>
<ellipse cx="295.1" cy="301.7" rx="2.4" ry="0.43" fill="#d0509a" transform="rotate(-39 295.1 301.7)"/>
<ellipse cx="286.9" cy="304.3" rx="1.5" ry="0.69" fill="#3a1030" transform="rotate(-69 286.9 304.3)"/>
<ellipse cx="258.5" cy="255.2" rx="1.4" ry="0.38" fill="#e8c0d8" transform="rotate(-62 258.5 255.2)"/>
<ellipse cx="260.7" cy="258.5" rx="2.3" ry="0.38" fill="#5a1a44" transform="rotate(104 260.7 258.5)"/>
<ellipse cx="301.3" cy="286.5" rx="2.9" ry="0.61" fill="#f0dcea" transform="rotate(-36 301.3 286.5)"/>
<ellipse cx="261.1" cy="296.4" rx="3.3" ry="0.60" fill="#5a1a44" transform="rotate(107 261.1 296.4)"/>
<ellipse cx="284.6" cy="305.3" rx="1.6" ry="0.70" fill="#3a1030" transform="rotate(-67 284.6 305.3)"/>
<ellipse cx="274.6" cy="300.0" rx="3.6" ry="0.58" fill="#d0509a" transform="rotate(-50 274.6 300.0)"/>
<ellipse cx="273.1" cy="272.6" rx="2.3" ry="0.44" fill="#f0dcea" transform="rotate(-46 273.1 272.6)"/>
<ellipse cx="240.7" cy="269.9" rx="2.4" ry="0.50" fill="#e8c0d8" transform="rotate(-49 240.7 269.9)"/>
<ellipse cx="283.2" cy="275.5" rx="2.1" ry="0.41" fill="#34102a" transform="rotate(81 283.2 275.5)"/>
<ellipse cx="258.9" cy="303.0" rx="2.5" ry="0.63" fill="#d0509a" transform="rotate(-49 258.9 303.0)"/>
<ellipse cx="272.6" cy="275.0" rx="1.9" ry="0.63" fill="#f0dcea" transform="rotate(-59 272.6 275.0)"/>
<ellipse cx="282.6" cy="297.3" rx="2.2" ry="0.60" fill="#5a1a44" transform="rotate(92 282.6 297.3)"/>
<ellipse cx="249.3" cy="304.3" rx="2.3" ry="0.53" fill="#e8c0d8" transform="rotate(100 249.3 304.3)"/>
<ellipse cx="287.9" cy="304.1" rx="3.5" ry="0.48" fill="#f0dcea" transform="rotate(-44 287.9 304.1)"/>
<ellipse cx="255.0" cy="248.2" rx="2.6" ry="0.38" fill="#e070a8" transform="rotate(116 255.0 248.2)"/>
<ellipse cx="265.8" cy="294.2" rx="1.7" ry="0.58" fill="#4a1436" transform="rotate(-55 265.8 294.2)"/>
<ellipse cx="261.5" cy="292.8" rx="2.2" ry="0.38" fill="#f6eaf2" transform="rotate(-74 261.5 292.8)"/>
<ellipse cx="248.5" cy="250.2" rx="2.6" ry="0.40" fill="#5a1a44" transform="rotate(-33 248.5 250.2)"/>
<ellipse cx="292.2" cy="299.6" rx="2.3" ry="0.45" fill="#34102a" transform="rotate(100 292.2 299.6)"/>
<ellipse cx="284.6" cy="282.5" rx="1.7" ry="0.37" fill="#34102a" transform="rotate(-42 284.6 282.5)"/>
<ellipse cx="237.7" cy="288.5" rx="1.9" ry="0.67" fill="#f6eaf2" transform="rotate(65 237.7 288.5)"/>
<ellipse cx="245.5" cy="275.9" rx="3.2" ry="0.52" fill="#e070a8" transform="rotate(-46 245.5 275.9)"/>
<ellipse cx="290.2" cy="294.2" rx="2.3" ry="0.56" fill="#d0509a" transform="rotate(-56 290.2 294.2)"/>
<ellipse cx="288.2" cy="290.4" rx="3.4" ry="0.67" fill="#3a1030" transform="rotate(93 288.2 290.4)"/>
<ellipse cx="231.3" cy="298.7" rx="3.5" ry="0.43" fill="#4a1436" transform="rotate(94 231.3 298.7)"/>
<ellipse cx="246.9" cy="286.5" rx="2.8" ry="0.40" fill="#f6eaf2" transform="rotate(-48 246.9 286.5)"/>
<ellipse cx="281.4" cy="304.1" rx="3.5" ry="0.45" fill="#e8c0d8" transform="rotate(-62 281.4 304.1)"/>
<ellipse cx="234.7" cy="256.3" rx="3.4" ry="0.55" fill="#5a1a44" transform="rotate(79 234.7 256.3)"/>
<ellipse cx="277.4" cy="303.5" rx="3.5" ry="0.67" fill="#34102a" transform="rotate(-51 277.4 303.5)"/>
<ellipse cx="235.2" cy="276.7" rx="3.5" ry="0.47" fill="#5a1a44" transform="rotate(-48 235.2 276.7)"/>
<ellipse cx="236.8" cy="297.3" rx="2.2" ry="0.44" fill="#e070a8" transform="rotate(-46 236.8 297.3)"/>
<ellipse cx="245.2" cy="265.1" rx="2.3" ry="0.64" fill="#4a1436" transform="rotate(-50 245.2 265.1)"/>
<ellipse cx="293.7" cy="274.5" rx="2.2" ry="0.68" fill="#5a1a44" transform="rotate(89 293.7 274.5)"/>
<ellipse cx="268.9" cy="246.3" rx="2.8" ry="0.70" fill="#4a1436" transform="rotate(-48 268.9 246.3)"/>
<ellipse cx="236.2" cy="255.0" rx="2.8" ry="0.52" fill="#f0dcea" transform="rotate(-68 236.2 255.0)"/>
<ellipse cx="236.1" cy="298.1" rx="1.9" ry="0.40" fill="#d0509a" transform="rotate(-30 236.1 298.1)"/>
<ellipse cx="239.9" cy="249.1" rx="2.5" ry="0.50" fill="#34102a" transform="rotate(-62 239.9 249.1)"/>
<ellipse cx="286.1" cy="292.8" rx="2.1" ry="0.59" fill="#e8c0d8" transform="rotate(95 286.1 292.8)"/>
<ellipse cx="269.5" cy="243.8" rx="1.5" ry="0.47" fill="#f0dcea" transform="rotate(-61 269.5 243.8)"/>
<ellipse cx="299.9" cy="304.8" rx="2.2" ry="0.69" fill="#f0dcea" transform="rotate(-35 299.9 304.8)"/>
<ellipse cx="234.6" cy="268.1" rx="3.0" ry="0.64" fill="#4a1436" transform="rotate(91 234.6 268.1)"/>
<ellipse cx="234.6" cy="266.5" rx="3.5" ry="0.56" fill="#e070a8" transform="rotate(-39 234.6 266.5)"/>
<ellipse cx="233.1" cy="281.4" rx="3.4" ry="0.38" fill="#3a1030" transform="rotate(70 233.1 281.4)"/>
<ellipse cx="253.5" cy="263.9" rx="2.2" ry="0.61" fill="#e070a8" transform="rotate(-57 253.5 263.9)"/>
<ellipse cx="304.5" cy="296.8" rx="1.5" ry="0.56" fill="#e8c0d8" transform="rotate(-75 304.5 296.8)"/>
<ellipse cx="262.3" cy="265.2" rx="3.1" ry="0.36" fill="#e070a8" transform="rotate(-71 262.3 265.2)"/>
<ellipse cx="282.6" cy="296.5" rx="3.4" ry="0.36" fill="#3a1030" transform="rotate(-51 282.6 296.5)"/>
<ellipse cx="270.8" cy="260.9" rx="3.3" ry="0.64" fill="#d0509a" transform="rotate(114 270.8 260.9)"/>
<ellipse cx="241.8" cy="280.5" rx="2.3" ry="0.66" fill="#e8c0d8" transform="rotate(-47 241.8 280.5)"/>
<ellipse cx="299.5" cy="294.1" rx="2.9" ry="0.56" fill="#e070a8" transform="rotate(77 299.5 294.1)"/>
<ellipse cx="244.5" cy="300.6" rx="2.0" ry="0.45" fill="#d0509a" transform="rotate(-51 244.5 300.6)"/>
<ellipse cx="231.7" cy="285.0" rx="2.1" ry="0.36" fill="#4a1436" transform="rotate(79 231.7 285.0)"/>
<ellipse cx="255.1" cy="283.7" rx="2.8" ry="0.64" fill="#3a1030" transform="rotate(95 255.1 283.7)"/>
<ellipse cx="261.8" cy="261.4" rx="3.0" ry="0.36" fill="#e8c0d8" transform="rotate(-41 261.8 261.4)"/>
<ellipse cx="248.5" cy="305.6" rx="1.8" ry="0.44" fill="#f0dcea" transform="rotate(-59 248.5 305.6)"/>
<ellipse cx="290.3" cy="286.7" rx="2.9" ry="0.58" fill="#f0dcea" transform="rotate(-54 290.3 286.7)"/>
<ellipse cx="300.6" cy="282.3" rx="2.5" ry="0.37" fill="#f0dcea" transform="rotate(89 300.6 282.3)"/>
<ellipse cx="230.5" cy="298.9" rx="1.8" ry="0.41" fill="#e8c0d8" transform="rotate(92 230.5 298.9)"/>
<ellipse cx="257.2" cy="272.2" rx="1.9" ry="0.48" fill="#3a1030" transform="rotate(103 257.2 272.2)"/>
<ellipse cx="231.6" cy="279.2" rx="2.8" ry="0.43" fill="#f0dcea" transform="rotate(-73 231.6 279.2)"/>
<ellipse cx="298.9" cy="279.4" rx="1.8" ry="0.47" fill="#4a1436" transform="rotate(-78 298.9 279.4)"/>
<ellipse cx="275.8" cy="281.8" rx="2.5" ry="0.36" fill="#34102a" transform="rotate(-53 275.8 281.8)"/>
<ellipse cx="279.8" cy="278.2" rx="3.6" ry="0.61" fill="#34102a" transform="rotate(-49 279.8 278.2)"/>
<ellipse cx="242.4" cy="263.2" rx="3.3" ry="0.40" fill="#4a1436" transform="rotate(77 242.4 263.2)"/>
<ellipse cx="302.5" cy="279.2" rx="2.0" ry="0.49" fill="#f0dcea" transform="rotate(-77 302.5 279.2)"/>
<ellipse cx="237.6" cy="268.5" rx="1.4" ry="0.41" fill="#34102a" transform="rotate(-40 237.6 268.5)"/>
<ellipse cx="291.3" cy="279.1" rx="2.7" ry="0.52" fill="#34102a" transform="rotate(66 291.3 279.1)"/>
<ellipse cx="253.9" cy="286.8" rx="3.5" ry="0.62" fill="#e070a8" transform="rotate(-49 253.9 286.8)"/>
<ellipse cx="245.9" cy="257.5" rx="1.6" ry="0.69" fill="#3a1030" transform="rotate(-53 245.9 257.5)"/>
<ellipse cx="270.1" cy="281.7" rx="2.8" ry="0.44" fill="#5a1a44" transform="rotate(104 270.1 281.7)"/>
<ellipse cx="271.6" cy="278.1" rx="3.5" ry="0.68" fill="#5a1a44" transform="rotate(-63 271.6 278.1)"/>
<ellipse cx="271.5" cy="258.9" rx="1.6" ry="0.59" fill="#d0509a" transform="rotate(-39 271.5 258.9)"/>
<ellipse cx="234.7" cy="271.3" rx="3.5" ry="0.51" fill="#5a1a44" transform="rotate(-33 234.7 271.3)"/>
<ellipse cx="285.1" cy="266.8" rx="2.9" ry="0.56" fill="#34102a" transform="rotate(67 285.1 266.8)"/>
<ellipse cx="294.9" cy="273.7" rx="2.6" ry="0.36" fill="#f0dcea" transform="rotate(-79 294.9 273.7)"/>
<ellipse cx="248.9" cy="289.5" rx="2.2" ry="0.40" fill="#e8c0d8" transform="rotate(62 248.9 289.5)"/>
<ellipse cx="265.5" cy="252.4" rx="2.7" ry="0.45" fill="#e8c0d8" transform="rotate(97 265.5 252.4)"/>
<ellipse cx="240.8" cy="267.5" rx="1.7" ry="0.40" fill="#d0509a" transform="rotate(75 240.8 267.5)"/>
<ellipse cx="236.7" cy="280.1" rx="2.7" ry="0.40" fill="#f6eaf2" transform="rotate(-53 236.7 280.1)"/>
<ellipse cx="275.1" cy="289.3" rx="2.7" ry="0.66" fill="#f0dcea" transform="rotate(95 275.1 289.3)"/>
<ellipse cx="263.6" cy="302.6" rx="3.6" ry="0.67" fill="#4a1436" transform="rotate(-60 263.6 302.6)"/>
<ellipse cx="260.0" cy="241.8" rx="1.4" ry="0.50" fill="#34102a" transform="rotate(-55 260.0 241.8)"/>
<ellipse cx="272.5" cy="284.1" rx="2.6" ry="0.66" fill="#e070a8" transform="rotate(85 272.5 284.1)"/>
<ellipse cx="272.6" cy="293.7" rx="1.5" ry="0.70" fill="#e070a8" transform="rotate(-50 272.6 293.7)"/>
<ellipse cx="276.9" cy="297.1" rx="2.0" ry="0.62" fill="#5a1a44" transform="rotate(-58 276.9 297.1)"/>
<ellipse cx="230.4" cy="301.6" rx="1.5" ry="0.58" fill="#f0dcea" transform="rotate(-63 230.4 301.6)"/>
<ellipse cx="252.1" cy="278.5" rx="1.9" ry="0.65" fill="#e8c0d8" transform="rotate(82 252.1 278.5)"/>
<ellipse cx="267.2" cy="272.8" rx="2.3" ry="0.40" fill="#34102a" transform="rotate(78 267.2 272.8)"/>
<ellipse cx="257.4" cy="246.9" rx="2.4" ry="0.61" fill="#3a1030" transform="rotate(-67 257.4 246.9)"/>
<ellipse cx="289.6" cy="281.4" rx="1.8" ry="0.54" fill="#3a1030" transform="rotate(-72 289.6 281.4)"/>
<ellipse cx="267.1" cy="270.5" rx="3.5" ry="0.45" fill="#f0dcea" transform="rotate(-51 267.1 270.5)"/>
<ellipse cx="253.4" cy="304.6" rx="3.1" ry="0.59" fill="#34102a" transform="rotate(-53 253.4 304.6)"/>
<ellipse cx="285.1" cy="291.7" rx="1.6" ry="0.50" fill="#4a1436" transform="rotate(64 285.1 291.7)"/>
<ellipse cx="245.4" cy="282.4" rx="1.8" ry="0.39" fill="#3a1030" transform="rotate(93 245.4 282.4)"/>
<ellipse cx="282.9" cy="274.8" rx="2.9" ry="0.67" fill="#4a1436" transform="rotate(85 282.9 274.8)"/>
<ellipse cx="289.2" cy="277.1" rx="3.0" ry="0.60" fill="#f0dcea" transform="rotate(94 289.2 277.1)"/>
<ellipse cx="288.6" cy="291.7" rx="3.0" ry="0.41" fill="#d0509a" transform="rotate(-45 288.6 291.7)"/>
<ellipse cx="254.4" cy="292.4" rx="3.2" ry="0.39" fill="#34102a" transform="rotate(-72 254.4 292.4)"/>
<ellipse cx="262.0" cy="244.9" rx="2.4" ry="0.68" fill="#f0dcea" transform="rotate(-43 262.0 244.9)"/>
<ellipse cx="248.9" cy="290.7" rx="2.7" ry="0.66" fill="#4a1436" transform="rotate(-59 248.9 290.7)"/>
<ellipse cx="267.3" cy="256.9" rx="2.4" ry="0.46" fill="#d0509a" transform="rotate(-44 267.3 256.9)"/>
<ellipse cx="267.5" cy="247.9" rx="1.6" ry="0.39" fill="#f6eaf2" transform="rotate(-60 267.5 247.9)"/>
<ellipse cx="255.9" cy="305.8" rx="2.3" ry="0.42" fill="#34102a" transform="rotate(-68 255.9 305.8)"/>
<ellipse cx="285.5" cy="272.4" rx="1.9" ry="0.40" fill="#3a1030" transform="rotate(97 285.5 272.4)"/>
<ellipse cx="238.8" cy="266.6" rx="3.5" ry="0.53" fill="#f0dcea" transform="rotate(76 238.8 266.6)"/>
<ellipse cx="306.0" cy="273.6" rx="2.7" ry="0.50" fill="#34102a" transform="rotate(61 306.0 273.6)"/>
<ellipse cx="271.1" cy="295.4" rx="1.5" ry="0.48" fill="#34102a" transform="rotate(-43 271.1 295.4)"/>
<ellipse cx="251.2" cy="264.5" rx="1.9" ry="0.62" fill="#f0dcea" transform="rotate(75 251.2 264.5)"/>
<ellipse cx="275.6" cy="252.6" rx="2.7" ry="0.58" fill="#f6eaf2" transform="rotate(-31 275.6 252.6)"/>
<ellipse cx="256.7" cy="250.6" rx="1.5" ry="0.68" fill="#3a1030" transform="rotate(-55 256.7 250.6)"/>
<ellipse cx="281.3" cy="296.8" rx="1.8" ry="0.50" fill="#4a1436" transform="rotate(62 281.3 296.8)"/>
<ellipse cx="274.3" cy="259.0" rx="3.5" ry="0.41" fill="#f0dcea" transform="rotate(73 274.3 259.0)"/>
<ellipse cx="301.6" cy="284.8" rx="2.4" ry="0.65" fill="#d0509a" transform="rotate(-35 301.6 284.8)"/>
<ellipse cx="250.2" cy="294.8" rx="3.3" ry="0.44" fill="#5a1a44" transform="rotate(64 250.2 294.8)"/>
<ellipse cx="300.8" cy="285.7" rx="1.7" ry="0.63" fill="#d0509a" transform="rotate(83 300.8 285.7)"/>
<ellipse cx="300.4" cy="287.2" rx="1.7" ry="0.53" fill="#e070a8" transform="rotate(71 300.4 287.2)"/>
<ellipse cx="268.9" cy="273.7" rx="2.4" ry="0.68" fill="#e070a8" transform="rotate(-57 268.9 273.7)"/>
<ellipse cx="250.6" cy="294.5" rx="1.7" ry="0.61" fill="#f6eaf2" transform="rotate(-45 250.6 294.5)"/>
<ellipse cx="230.5" cy="275.2" rx="2.9" ry="0.55" fill="#5a1a44" transform="rotate(-60 230.5 275.2)"/>
<ellipse cx="265.8" cy="302.4" rx="2.8" ry="0.44" fill="#4a1436" transform="rotate(73 265.8 302.4)"/>
<ellipse cx="233.4" cy="294.5" rx="2.4" ry="0.56" fill="#f6eaf2" transform="rotate(-31 233.4 294.5)"/>
<ellipse cx="243.8" cy="272.0" rx="1.6" ry="0.68" fill="#d0509a" transform="rotate(105 243.8 272.0)"/>
<ellipse cx="302.1" cy="273.5" rx="3.1" ry="0.64" fill="#f6eaf2" transform="rotate(-67 302.1 273.5)"/>
<ellipse cx="296.2" cy="290.4" rx="2.6" ry="0.50" fill="#f6eaf2" transform="rotate(79 296.2 290.4)"/>
<ellipse cx="279.3" cy="243.0" rx="1.7" ry="0.55" fill="#e8c0d8" transform="rotate(-76 279.3 243.0)"/>
<ellipse cx="240.9" cy="260.5" rx="2.7" ry="0.46" fill="#e070a8" transform="rotate(75 240.9 260.5)"/>
<ellipse cx="276.9" cy="275.8" rx="1.5" ry="0.54" fill="#3a1030" transform="rotate(85 276.9 275.8)"/>
<ellipse cx="285.7" cy="299.7" rx="3.3" ry="0.43" fill="#34102a" transform="rotate(82 285.7 299.7)"/>
<ellipse cx="278.2" cy="269.1" rx="3.5" ry="0.60" fill="#d0509a" transform="rotate(-49 278.2 269.1)"/>
<ellipse cx="301.5" cy="280.9" rx="1.6" ry="0.40" fill="#d0509a" transform="rotate(-66 301.5 280.9)"/>
<ellipse cx="286.7" cy="299.3" rx="3.3" ry="0.59" fill="#5a1a44" transform="rotate(-43 286.7 299.3)"/>
<ellipse cx="258.4" cy="302.3" rx="2.7" ry="0.53" fill="#f6eaf2" transform="rotate(-65 258.4 302.3)"/>
<ellipse cx="273.2" cy="277.5" rx="1.6" ry="0.67" fill="#5a1a44" transform="rotate(-63 273.2 277.5)"/>
<ellipse cx="264.2" cy="291.4" rx="2.4" ry="0.70" fill="#4a1436" transform="rotate(-40 264.2 291.4)"/>
<ellipse cx="301.7" cy="287.6" rx="2.5" ry="0.59" fill="#5a1a44" transform="rotate(-53 301.7 287.6)"/>
<ellipse cx="292.7" cy="292.8" rx="2.1" ry="0.60" fill="#e070a8" transform="rotate(60 292.7 292.8)"/>
<ellipse cx="258.2" cy="294.0" rx="2.8" ry="0.59" fill="#4a1436" transform="rotate(97 258.2 294.0)"/>
<ellipse cx="265.2" cy="263.9" rx="2.5" ry="0.35" fill="#e070a8" transform="rotate(-35 265.2 263.9)"/>
<ellipse cx="296.5" cy="279.1" rx="2.6" ry="0.54" fill="#5a1a44" transform="rotate(-70 296.5 279.1)"/>
<ellipse cx="234.7" cy="305.5" rx="3.4" ry="0.37" fill="#f6eaf2" transform="rotate(-54 234.7 305.5)"/>
<ellipse cx="277.4" cy="297.5" rx="1.7" ry="0.65" fill="#d0509a" transform="rotate(-73 277.4 297.5)"/>
<ellipse cx="280.2" cy="291.0" rx="3.0" ry="0.45" fill="#4a1436" transform="rotate(102 280.2 291.0)"/>
<ellipse cx="241.5" cy="266.3" rx="2.3" ry="0.53" fill="#f0dcea" transform="rotate(62 241.5 266.3)"/>
<ellipse cx="280.1" cy="294.6" rx="3.0" ry="0.45" fill="#e8c0d8" transform="rotate(118 280.1 294.6)"/>
<ellipse cx="281.8" cy="285.7" rx="2.0" ry="0.49" fill="#f0dcea" transform="rotate(-42 281.8 285.7)"/>
<ellipse cx="296.9" cy="301.6" rx="1.5" ry="0.68" fill="#f0dcea" transform="rotate(79 296.9 301.6)"/>
<ellipse cx="295.9" cy="284.3" rx="2.7" ry="0.68" fill="#e070a8" transform="rotate(-57 295.9 284.3)"/>
<ellipse cx="242.3" cy="250.5" rx="3.5" ry="0.58" fill="#e070a8" transform="rotate(-61 242.3 250.5)"/>
<ellipse cx="272.9" cy="278.0" rx="3.3" ry="0.40" fill="#f0dcea" transform="rotate(88 272.9 278.0)"/>
<ellipse cx="291.8" cy="272.1" rx="1.8" ry="0.37" fill="#34102a" transform="rotate(-69 291.8 272.1)"/>
<ellipse cx="272.0" cy="250.8" rx="1.5" ry="0.39" fill="#f0dcea" transform="rotate(73 272.0 250.8)"/>
<ellipse cx="289.0" cy="303.8" rx="2.5" ry="0.54" fill="#f0dcea" transform="rotate(-70 289.0 303.8)"/>
<ellipse cx="286.5" cy="303.1" rx="2.6" ry="0.48" fill="#d0509a" transform="rotate(75 286.5 303.1)"/>
<ellipse cx="235.0" cy="295.5" rx="1.5" ry="0.61" fill="#d0509a" transform="rotate(-37 235.0 295.5)"/>
<ellipse cx="264.2" cy="286.8" rx="2.3" ry="0.50" fill="#4a1436" transform="rotate(80 264.2 286.8)"/>
<ellipse cx="277.3" cy="300.8" rx="1.6" ry="0.56" fill="#e070a8" transform="rotate(118 277.3 300.8)"/>
<ellipse cx="271.9" cy="246.3" rx="1.7" ry="0.53" fill="#5a1a44" transform="rotate(77 271.9 246.3)"/>
<ellipse cx="267.0" cy="269.5" rx="2.2" ry="0.56" fill="#e070a8" transform="rotate(-47 267.0 269.5)"/>
<ellipse cx="246.6" cy="263.4" rx="3.4" ry="0.67" fill="#5a1a44" transform="rotate(-34 246.6 263.4)"/>
<ellipse cx="250.4" cy="249.3" rx="3.1" ry="0.44" fill="#f0dcea" transform="rotate(79 250.4 249.3)"/>
<ellipse cx="233.7" cy="289.0" rx="1.7" ry="0.38" fill="#f0dcea" transform="rotate(61 233.7 289.0)"/>
<ellipse cx="246.7" cy="280.9" rx="2.2" ry="0.54" fill="#5a1a44" transform="rotate(-51 246.7 280.9)"/>
<ellipse cx="305.6" cy="283.6" rx="3.3" ry="0.61" fill="#4a1436" transform="rotate(75 305.6 283.6)"/>
<ellipse cx="247.3" cy="246.7" rx="2.7" ry="0.48" fill="#34102a" transform="rotate(-77 247.3 246.7)"/>
<ellipse cx="277.0" cy="258.2" rx="3.2" ry="0.50" fill="#d0509a" transform="rotate(-73 277.0 258.2)"/>
<ellipse cx="277.0" cy="261.2" rx="2.9" ry="0.39" fill="#f0dcea" transform="rotate(-50 277.0 261.2)"/>
<ellipse cx="304.0" cy="305.3" rx="2.5" ry="0.44" fill="#34102a" transform="rotate(-58 304.0 305.3)"/>
<ellipse cx="245.5" cy="246.1" rx="2.9" ry="0.57" fill="#5a1a44" transform="rotate(98 245.5 246.1)"/>
<ellipse cx="271.9" cy="255.3" rx="3.2" ry="0.37" fill="#f6eaf2" transform="rotate(-61 271.9 255.3)"/>
<ellipse cx="241.8" cy="283.7" rx="2.4" ry="0.54" fill="#e8c0d8" transform="rotate(61 241.8 283.7)"/>
<ellipse cx="305.7" cy="294.2" rx="1.4" ry="0.57" fill="#5a1a44" transform="rotate(-43 305.7 294.2)"/>
<ellipse cx="253.6" cy="290.5" rx="2.4" ry="0.56" fill="#d0509a" transform="rotate(-75 253.6 290.5)"/>
<ellipse cx="242.0" cy="278.0" rx="1.7" ry="0.56" fill="#d0509a" transform="rotate(66 242.0 278.0)"/>
<ellipse cx="260.4" cy="277.7" rx="3.5" ry="0.67" fill="#3a1030" transform="rotate(110 260.4 277.7)"/>
<ellipse cx="237.6" cy="289.9" rx="2.4" ry="0.53" fill="#5a1a44" transform="rotate(-43 237.6 289.9)"/>
<ellipse cx="305.7" cy="285.0" rx="2.3" ry="0.57" fill="#3a1030" transform="rotate(119 305.7 285.0)"/>
<ellipse cx="299.0" cy="282.9" rx="2.7" ry="0.65" fill="#3a1030" transform="rotate(94 299.0 282.9)"/>
<ellipse cx="300.3" cy="285.9" rx="1.9" ry="0.62" fill="#5a1a44" transform="rotate(-37 300.3 285.9)"/>
<ellipse cx="277.8" cy="291.1" rx="2.8" ry="0.49" fill="#f0dcea" transform="rotate(65 277.8 291.1)"/>
<ellipse cx="247.5" cy="254.0" rx="2.7" ry="0.66" fill="#d0509a" transform="rotate(85 247.5 254.0)"/>
<ellipse cx="279.6" cy="257.5" rx="1.5" ry="0.68" fill="#4a1436" transform="rotate(-40 279.6 257.5)"/>
<ellipse cx="231.2" cy="277.6" rx="2.9" ry="0.39" fill="#d0509a" transform="rotate(83 231.2 277.6)"/>
<ellipse cx="282.2" cy="301.4" rx="1.8" ry="0.47" fill="#34102a" transform="rotate(-54 282.2 301.4)"/>
<ellipse cx="255.9" cy="292.6" rx="3.3" ry="0.36" fill="#5a1a44" transform="rotate(97 255.9 292.6)"/>
<ellipse cx="292.8" cy="276.0" rx="3.4" ry="0.69" fill="#e8c0d8" transform="rotate(-80 292.8 276.0)"/>
<ellipse cx="235.3" cy="293.8" rx="3.3" ry="0.36" fill="#d0509a" transform="rotate(94 235.3 293.8)"/>
<ellipse cx="246.6" cy="284.4" rx="3.0" ry="0.53" fill="#f0dcea" transform="rotate(-44 246.6 284.4)"/>
<ellipse cx="269.1" cy="286.0" rx="2.9" ry="0.36" fill="#e8c0d8" transform="rotate(-48 269.1 286.0)"/>
<ellipse cx="238.7" cy="259.4" rx="2.1" ry="0.55" fill="#f6eaf2" transform="rotate(-68 238.7 259.4)"/>
<ellipse cx="297.6" cy="277.6" rx="3.4" ry="0.37" fill="#e070a8" transform="rotate(-35 297.6 277.6)"/>
<ellipse cx="303.5" cy="273.2" rx="1.8" ry="0.36" fill="#f6eaf2" transform="rotate(112 303.5 273.2)"/>
<ellipse cx="290.0" cy="279.6" rx="1.8" ry="0.49" fill="#f0dcea" transform="rotate(86 290.0 279.6)"/>
<ellipse cx="286.4" cy="285.9" rx="2.8" ry="0.39" fill="#e070a8" transform="rotate(-38 286.4 285.9)"/>
<ellipse cx="286.9" cy="298.9" rx="1.5" ry="0.56" fill="#5a1a44" transform="rotate(-68 286.9 298.9)"/>
<ellipse cx="244.2" cy="292.0" rx="2.5" ry="0.56" fill="#e070a8" transform="rotate(-67 244.2 292.0)"/>
<ellipse cx="249.5" cy="251.6" rx="1.9" ry="0.65" fill="#f0dcea" transform="rotate(-48 249.5 251.6)"/>
<ellipse cx="303.3" cy="288.8" rx="3.2" ry="0.60" fill="#34102a" transform="rotate(113 303.3 288.8)"/>
<ellipse cx="299.8" cy="280.5" rx="3.1" ry="0.49" fill="#e8c0d8" transform="rotate(-69 299.8 280.5)"/>
<ellipse cx="256.3" cy="260.9" rx="2.4" ry="0.42" fill="#34102a" transform="rotate(99 256.3 260.9)"/>
<ellipse cx="270.5" cy="271.3" rx="1.7" ry="0.53" fill="#f0dcea" transform="rotate(114 270.5 271.3)"/>
<ellipse cx="269.6" cy="272.0" rx="3.3" ry="0.38" fill="#e8c0d8" transform="rotate(-56 269.6 272.0)"/>
<ellipse cx="279.2" cy="298.0" rx="3.2" ry="0.55" fill="#f0dcea" transform="rotate(118 279.2 298.0)"/>
<ellipse cx="253.9" cy="277.9" rx="2.1" ry="0.51" fill="#e070a8" transform="rotate(-36 253.9 277.9)"/>
<ellipse cx="274.9" cy="263.9" rx="2.6" ry="0.59" fill="#3a1030" transform="rotate(-49 274.9 263.9)"/>
<ellipse cx="244.3" cy="247.2" rx="3.4" ry="0.55" fill="#3a1030" transform="rotate(-67 244.3 247.2)"/>
<ellipse cx="247.4" cy="295.2" rx="2.0" ry="0.64" fill="#e070a8" transform="rotate(-78 247.4 295.2)"/>
<ellipse cx="285.3" cy="280.8" rx="1.7" ry="0.38" fill="#e070a8" transform="rotate(67 285.3 280.8)"/>
<ellipse cx="256.9" cy="269.9" rx="2.7" ry="0.64" fill="#34102a" transform="rotate(106 256.9 269.9)"/>
<ellipse cx="256.5" cy="260.4" rx="2.7" ry="0.50" fill="#3a1030" transform="rotate(63 256.5 260.4)"/>
<ellipse cx="261.6" cy="285.0" rx="3.5" ry="0.61" fill="#e070a8" transform="rotate(-68 261.6 285.0)"/>
<ellipse cx="300.7" cy="280.5" rx="2.0" ry="0.67" fill="#f6eaf2" transform="rotate(94 300.7 280.5)"/>
<ellipse cx="297.9" cy="283.9" rx="2.8" ry="0.41" fill="#e070a8" transform="rotate(118 297.9 283.9)"/>
<ellipse cx="303.0" cy="295.5" rx="1.9" ry="0.66" fill="#e070a8" transform="rotate(-73 303.0 295.5)"/>
<ellipse cx="294.1" cy="295.7" rx="3.2" ry="0.52" fill="#f0dcea" transform="rotate(-77 294.1 295.7)"/>
<ellipse cx="287.1" cy="291.4" rx="2.6" ry="0.51" fill="#d0509a" transform="rotate(-49 287.1 291.4)"/>
<ellipse cx="278.1" cy="242.6" rx="1.6" ry="0.62" fill="#d0509a" transform="rotate(-62 278.1 242.6)"/>
<ellipse cx="269.7" cy="245.1" rx="2.3" ry="0.69" fill="#e8c0d8" transform="rotate(-62 269.7 245.1)"/>
<ellipse cx="292.9" cy="287.9" rx="3.1" ry="0.60" fill="#e070a8" transform="rotate(-41 292.9 287.9)"/>
<ellipse cx="292.7" cy="305.9" rx="2.9" ry="0.69" fill="#5a1a44" transform="rotate(-55 292.7 305.9)"/>
<ellipse cx="279.3" cy="291.6" rx="2.2" ry="0.65" fill="#f0dcea" transform="rotate(79 279.3 291.6)"/>
<ellipse cx="229.8" cy="301.5" rx="3.2" ry="0.58" fill="#4a1436" transform="rotate(-51 229.8 301.5)"/>
<ellipse cx="273.3" cy="285.7" rx="3.3" ry="0.49" fill="#3a1030" transform="rotate(110 273.3 285.7)"/>
<ellipse cx="278.7" cy="292.8" rx="1.5" ry="0.40" fill="#d0509a" transform="rotate(82 278.7 292.8)"/>
<ellipse cx="276.0" cy="293.7" rx="3.2" ry="0.43" fill="#5a1a44" transform="rotate(110 276.0 293.7)"/>
<ellipse cx="262.4" cy="303.3" rx="2.2" ry="0.64" fill="#d0509a" transform="rotate(63 262.4 303.3)"/>
<ellipse cx="263.7" cy="304.9" rx="2.7" ry="0.53" fill="#3a1030" transform="rotate(101 263.7 304.9)"/>
<ellipse cx="242.6" cy="288.3" rx="3.3" ry="0.53" fill="#d0509a" transform="rotate(80 242.6 288.3)"/>
<ellipse cx="268.7" cy="255.7" rx="2.2" ry="0.58" fill="#5a1a44" transform="rotate(-68 268.7 255.7)"/>
<ellipse cx="301.4" cy="286.2" rx="2.3" ry="0.55" fill="#5a1a44" transform="rotate(98 301.4 286.2)"/>
<ellipse cx="252.8" cy="264.9" rx="3.1" ry="0.46" fill="#4a1436" transform="rotate(86 252.8 264.9)"/>
<ellipse cx="238.4" cy="274.9" rx="2.7" ry="0.46" fill="#f0dcea" transform="rotate(87 238.4 274.9)"/>
<ellipse cx="260.8" cy="249.5" rx="2.5" ry="0.62" fill="#e8c0d8" transform="rotate(71 260.8 249.5)"/>
<ellipse cx="272.9" cy="291.1" rx="2.3" ry="0.37" fill="#3a1030" transform="rotate(-60 272.9 291.1)"/>
<ellipse cx="247.6" cy="283.3" rx="1.4" ry="0.58" fill="#f0dcea" transform="rotate(73 247.6 283.3)"/>
<ellipse cx="237.1" cy="294.9" rx="2.2" ry="0.59" fill="#34102a" transform="rotate(72 237.1 294.9)"/>
<ellipse cx="281.4" cy="304.2" rx="3.1" ry="0.63" fill="#f6eaf2" transform="rotate(70 281.4 304.2)"/>
<ellipse cx="254.3" cy="289.9" rx="1.6" ry="0.68" fill="#e070a8" transform="rotate(73 254.3 289.9)"/>
<ellipse cx="297.4" cy="299.7" rx="3.0" ry="0.37" fill="#f6eaf2" transform="rotate(-66 297.4 299.7)"/>
<ellipse cx="235.7" cy="301.0" rx="2.8" ry="0.52" fill="#f0dcea" transform="rotate(-80 235.7 301.0)"/>
<ellipse cx="273.6" cy="302.4" rx="3.3" ry="0.36" fill="#e070a8" transform="rotate(-51 273.6 302.4)"/>
<ellipse cx="292.4" cy="295.8" rx="2.6" ry="0.37" fill="#3a1030" transform="rotate(-57 292.4 295.8)"/>
<ellipse cx="292.8" cy="271.9" rx="2.3" ry="0.53" fill="#3a1030" transform="rotate(-64 292.8 271.9)"/>
<ellipse cx="236.8" cy="295.2" rx="3.3" ry="0.41" fill="#3a1030" transform="rotate(-57 236.8 295.2)"/>
<ellipse cx="244.6" cy="247.0" rx="2.9" ry="0.43" fill="#d0509a" transform="rotate(106 244.6 247.0)"/>
<ellipse cx="252.2" cy="257.6" rx="2.1" ry="0.49" fill="#3a1030" transform="rotate(111 252.2 257.6)"/>
<ellipse cx="268.7" cy="271.2" rx="2.5" ry="0.52" fill="#e070a8" transform="rotate(112 268.7 271.2)"/>
<ellipse cx="257.9" cy="292.6" rx="2.6" ry="0.59" fill="#e070a8" transform="rotate(-75 257.9 292.6)"/>
<ellipse cx="246.7" cy="297.4" rx="2.8" ry="0.60" fill="#4a1436" transform="rotate(-69 246.7 297.4)"/>
<ellipse cx="243.9" cy="296.1" rx="2.3" ry="0.65" fill="#f0dcea" transform="rotate(64 243.9 296.1)"/>
<ellipse cx="263.7" cy="268.1" rx="3.2" ry="0.42" fill="#34102a" transform="rotate(-47 263.7 268.1)"/>
<ellipse cx="294.6" cy="291.4" rx="2.4" ry="0.51" fill="#34102a" transform="rotate(-38 294.6 291.4)"/>
<ellipse cx="285.9" cy="303.3" rx="2.1" ry="0.60" fill="#3a1030" transform="rotate(120 285.9 303.3)"/>
<ellipse cx="269.8" cy="284.7" rx="3.4" ry="0.67" fill="#4a1436" transform="rotate(-71 269.8 284.7)"/>
<ellipse cx="242.1" cy="306.0" rx="2.6" ry="0.57" fill="#4a1436" transform="rotate(-73 242.1 306.0)"/>
<ellipse cx="242.1" cy="254.8" rx="1.9" ry="0.70" fill="#e070a8" transform="rotate(-57 242.1 254.8)"/>
<ellipse cx="295.1" cy="298.0" rx="2.9" ry="0.66" fill="#3a1030" transform="rotate(-75 295.1 298.0)"/>
<ellipse cx="289.0" cy="273.8" rx="2.5" ry="0.59" fill="#4a1436" transform="rotate(-50 289.0 273.8)"/>
<ellipse cx="263.1" cy="296.0" rx="2.7" ry="0.57" fill="#4a1436" transform="rotate(-51 263.1 296.0)"/>
<ellipse cx="288.4" cy="278.7" rx="1.8" ry="0.59" fill="#3a1030" transform="rotate(-46 288.4 278.7)"/>
<ellipse cx="285.4" cy="279.9" rx="2.0" ry="0.68" fill="#e070a8" transform="rotate(-63 285.4 279.9)"/>
<ellipse cx="270.4" cy="298.3" rx="2.6" ry="0.62" fill="#f0dcea" transform="rotate(-56 270.4 298.3)"/>
<ellipse cx="301.0" cy="298.3" rx="2.7" ry="0.41" fill="#e8c0d8" transform="rotate(116 301.0 298.3)"/>
<ellipse cx="259.4" cy="301.1" rx="3.2" ry="0.37" fill="#e070a8" transform="rotate(-79 259.4 301.1)"/>
<ellipse cx="253.5" cy="281.5" rx="1.5" ry="0.37" fill="#f6eaf2" transform="rotate(-51 253.5 281.5)"/>
<ellipse cx="253.9" cy="288.9" rx="2.3" ry="0.49" fill="#d0509a" transform="rotate(94 253.9 288.9)"/>
<ellipse cx="262.6" cy="270.8" rx="2.4" ry="0.45" fill="#d0509a" transform="rotate(-80 262.6 270.8)"/>
<ellipse cx="246.1" cy="303.9" rx="1.7" ry="0.55" fill="#4a1436" transform="rotate(-37 246.1 303.9)"/>
<ellipse cx="261.2" cy="294.1" rx="2.6" ry="0.45" fill="#3a1030" transform="rotate(-78 261.2 294.1)"/>
<ellipse cx="257.6" cy="249.0" rx="1.7" ry="0.51" fill="#5a1a44" transform="rotate(-57 257.6 249.0)"/>
<ellipse cx="276.8" cy="290.0" rx="2.4" ry="0.69" fill="#d0509a" transform="rotate(-39 276.8 290.0)"/>
<ellipse cx="239.1" cy="294.8" rx="2.7" ry="0.54" fill="#f0dcea" transform="rotate(-78 239.1 294.8)"/>
<ellipse cx="254.7" cy="281.9" rx="3.4" ry="0.69" fill="#34102a" transform="rotate(-54 254.7 281.9)"/>
<ellipse cx="232.8" cy="261.0" rx="1.8" ry="0.62" fill="#5a1a44" transform="rotate(-59 232.8 261.0)"/>
<ellipse cx="249.8" cy="291.5" rx="2.5" ry="0.66" fill="#4a1436" transform="rotate(73 249.8 291.5)"/>
<ellipse cx="261.9" cy="252.6" rx="2.2" ry="0.57" fill="#d0509a" transform="rotate(77 261.9 252.6)"/>
<ellipse cx="241.3" cy="279.3" rx="2.4" ry="0.46" fill="#e070a8" transform="rotate(-49 241.3 279.3)"/>
<ellipse cx="249.3" cy="246.7" rx="3.0" ry="0.67" fill="#4a1436" transform="rotate(62 249.3 246.7)"/>
<ellipse cx="265.0" cy="251.1" rx="1.5" ry="0.39" fill="#e8c0d8" transform="rotate(-57 265.0 251.1)"/>
<ellipse cx="246.0" cy="251.4" rx="2.2" ry="0.49" fill="#34102a" transform="rotate(107 246.0 251.4)"/>
<ellipse cx="299.8" cy="305.4" rx="1.8" ry="0.60" fill="#34102a" transform="rotate(-46 299.8 305.4)"/>
<ellipse cx="304.0" cy="285.4" rx="3.6" ry="0.69" fill="#5a1a44" transform="rotate(106 304.0 285.4)"/>
<ellipse cx="240.5" cy="269.1" rx="1.5" ry="0.51" fill="#e070a8" transform="rotate(-43 240.5 269.1)"/>
<ellipse cx="232.8" cy="280.4" rx="2.4" ry="0.49" fill="#e070a8" transform="rotate(-32 232.8 280.4)"/>
<ellipse cx="237.2" cy="250.0" rx="1.6" ry="0.54" fill="#3a1030" transform="rotate(-49 237.2 250.0)"/>
<ellipse cx="279.9" cy="277.1" rx="2.5" ry="0.49" fill="#e8c0d8" transform="rotate(111 279.9 277.1)"/>
<ellipse cx="276.5" cy="243.1" rx="2.1" ry="0.49" fill="#f0dcea" transform="rotate(77 276.5 243.1)"/>
<ellipse cx="230.0" cy="280.7" rx="1.8" ry="0.45" fill="#e070a8" transform="rotate(-43 230.0 280.7)"/>
<ellipse cx="247.0" cy="269.2" rx="2.4" ry="0.45" fill="#f0dcea" transform="rotate(65 247.0 269.2)"/>
<ellipse cx="271.8" cy="289.5" rx="2.7" ry="0.37" fill="#e070a8" transform="rotate(-55 271.8 289.5)"/>
<ellipse cx="251.5" cy="265.6" rx="2.0" ry="0.37" fill="#f6eaf2" transform="rotate(-46 251.5 265.6)"/>
<ellipse cx="260.5" cy="259.1" rx="2.7" ry="0.63" fill="#5a1a44" transform="rotate(-64 260.5 259.1)"/>
<ellipse cx="298.8" cy="287.1" rx="1.7" ry="0.54" fill="#e070a8" transform="rotate(85 298.8 287.1)"/>
<ellipse cx="235.1" cy="265.6" rx="3.6" ry="0.44" fill="#34102a" transform="rotate(66 235.1 265.6)"/>
<ellipse cx="237.7" cy="257.7" rx="3.5" ry="0.43" fill="#f0dcea" transform="rotate(68 237.7 257.7)"/>
<ellipse cx="300.5" cy="286.0" rx="3.1" ry="0.51" fill="#4a1436" transform="rotate(-62 300.5 286.0)"/>
<ellipse cx="297.7" cy="274.4" rx="3.4" ry="0.46" fill="#e8c0d8" transform="rotate(93 297.7 274.4)"/>
<ellipse cx="233.8" cy="295.8" rx="2.8" ry="0.46" fill="#f0dcea" transform="rotate(-56 233.8 295.8)"/>
<ellipse cx="304.0" cy="304.5" rx="1.5" ry="0.55" fill="#e070a8" transform="rotate(70 304.0 304.5)"/>
<ellipse cx="271.1" cy="269.9" rx="3.2" ry="0.36" fill="#5a1a44" transform="rotate(117 271.1 269.9)"/>
<ellipse cx="266.2" cy="299.1" rx="1.6" ry="0.60" fill="#e070a8" transform="rotate(82 266.2 299.1)"/>
<ellipse cx="269.2" cy="280.3" rx="1.9" ry="0.42" fill="#5a1a44" transform="rotate(-42 269.2 280.3)"/>
<ellipse cx="238.0" cy="247.2" rx="3.3" ry="0.55" fill="#e8c0d8" transform="rotate(-33 238.0 247.2)"/>
<ellipse cx="279.8" cy="281.2" rx="2.2" ry="0.45" fill="#3a1030" transform="rotate(-46 279.8 281.2)"/>
<ellipse cx="253.3" cy="294.6" rx="2.7" ry="0.59" fill="#e070a8" transform="rotate(-53 253.3 294.6)"/>
<ellipse cx="285.9" cy="281.7" rx="2.9" ry="0.63" fill="#e8c0d8" transform="rotate(-40 285.9 281.7)"/>
<ellipse cx="232.8" cy="270.2" rx="2.9" ry="0.69" fill="#4a1436" transform="rotate(-80 232.8 270.2)"/>
<ellipse cx="230.3" cy="299.8" rx="3.4" ry="0.61" fill="#3a1030" transform="rotate(-47 230.3 299.8)"/>
<ellipse cx="254.2" cy="295.0" rx="1.5" ry="0.63" fill="#3a1030" transform="rotate(62 254.2 295.0)"/>
<ellipse cx="268.6" cy="249.2" rx="1.6" ry="0.66" fill="#5a1a44" transform="rotate(-46 268.6 249.2)"/>
<ellipse cx="263.9" cy="258.0" rx="1.6" ry="0.63" fill="#e070a8" transform="rotate(-40 263.9 258.0)"/>
<ellipse cx="302.5" cy="292.6" rx="2.1" ry="0.61" fill="#5a1a44" transform="rotate(-64 302.5 292.6)"/>
<ellipse cx="249.7" cy="272.3" rx="2.4" ry="0.58" fill="#e8c0d8" transform="rotate(112 249.7 272.3)"/>
<ellipse cx="238.0" cy="271.9" rx="2.2" ry="0.55" fill="#34102a" transform="rotate(-56 238.0 271.9)"/>
<ellipse cx="253.1" cy="248.3" rx="1.9" ry="0.48" fill="#f0dcea" transform="rotate(77 253.1 248.3)"/>
<ellipse cx="246.7" cy="262.8" rx="1.5" ry="0.70" fill="#3a1030" transform="rotate(-37 246.7 262.8)"/>
<ellipse cx="290.9" cy="270.6" rx="3.2" ry="0.38" fill="#5a1a44" transform="rotate(88 290.9 270.6)"/>
<ellipse cx="283.9" cy="282.7" rx="1.6" ry="0.65" fill="#3a1030" transform="rotate(-58 283.9 282.7)"/>
<ellipse cx="272.4" cy="286.6" rx="1.4" ry="0.41" fill="#e070a8" transform="rotate(-58 272.4 286.6)"/>
<ellipse cx="274.9" cy="274.0" rx="2.2" ry="0.67" fill="#f0dcea" transform="rotate(86 274.9 274.0)"/>
<ellipse cx="254.4" cy="270.3" rx="1.8" ry="0.65" fill="#d0509a" transform="rotate(61 254.4 270.3)"/>
<ellipse cx="246.9" cy="271.8" rx="1.6" ry="0.70" fill="#34102a" transform="rotate(68 246.9 271.8)"/>
<ellipse cx="267.7" cy="261.5" rx="2.2" ry="0.40" fill="#e070a8" transform="rotate(-63 267.7 261.5)"/>
<ellipse cx="240.7" cy="271.0" rx="1.7" ry="0.48" fill="#34102a" transform="rotate(80 240.7 271.0)"/>
<ellipse cx="237.2" cy="269.5" rx="3.2" ry="0.63" fill="#5a1a44" transform="rotate(109 237.2 269.5)"/>
<ellipse cx="256.0" cy="256.8" rx="1.8" ry="0.56" fill="#3a1030" transform="rotate(-44 256.0 256.8)"/>
<ellipse cx="241.6" cy="251.7" rx="1.8" ry="0.48" fill="#5a1a44" transform="rotate(108 241.6 251.7)"/>
<ellipse cx="236.1" cy="298.1" rx="2.5" ry="0.53" fill="#f6eaf2" transform="rotate(72 236.1 298.1)"/>
<ellipse cx="255.5" cy="263.5" rx="2.0" ry="0.65" fill="#e070a8" transform="rotate(-51 255.5 263.5)"/>
<ellipse cx="298.3" cy="291.3" rx="2.7" ry="0.58" fill="#3a1030" transform="rotate(-79 298.3 291.3)"/>
<ellipse cx="269.5" cy="242.8" rx="3.2" ry="0.69" fill="#e8c0d8" transform="rotate(103 269.5 242.8)"/>
<ellipse cx="292.1" cy="276.9" rx="1.8" ry="0.39" fill="#5a1a44" transform="rotate(107 292.1 276.9)"/>
<ellipse cx="255.8" cy="291.8" rx="2.3" ry="0.52" fill="#d0509a" transform="rotate(114 255.8 291.8)"/>
<ellipse cx="304.7" cy="304.6" rx="1.7" ry="0.68" fill="#e8c0d8" transform="rotate(112 304.7 304.6)"/>
<ellipse cx="229.3" cy="282.7" rx="2.9" ry="0.43" fill="#5a1a44" transform="rotate(-70 229.3 282.7)"/>
<ellipse cx="233.0" cy="278.3" rx="2.4" ry="0.48" fill="#e8c0d8" transform="rotate(96 233.0 278.3)"/>
<ellipse cx="276.6" cy="279.4" rx="3.3" ry="0.58" fill="#d0509a" transform="rotate(-46 276.6 279.4)"/>
<ellipse cx="272.0" cy="296.2" rx="2.4" ry="0.67" fill="#f0dcea" transform="rotate(87 272.0 296.2)"/>
<ellipse cx="301.0" cy="275.8" rx="3.0" ry="0.57" fill="#34102a" transform="rotate(75 301.0 275.8)"/>
<ellipse cx="255.0" cy="277.5" rx="1.5" ry="0.41" fill="#e8c0d8" transform="rotate(61 255.0 277.5)"/>
<ellipse cx="253.9" cy="297.3" rx="2.8" ry="0.41" fill="#f6eaf2" transform="rotate(80 253.9 297.3)"/>
<ellipse cx="242.6" cy="285.4" rx="2.2" ry="0.40" fill="#5a1a44" transform="rotate(89 242.6 285.4)"/>
<ellipse cx="267.8" cy="269.0" rx="1.4" ry="0.69" fill="#34102a" transform="rotate(-56 267.8 269.0)"/>
<ellipse cx="274.4" cy="286.6" rx="2.8" ry="0.68" fill="#5a1a44" transform="rotate(-64 274.4 286.6)"/>
<ellipse cx="229.6" cy="281.5" rx="1.6" ry="0.48" fill="#f0dcea" transform="rotate(90 229.6 281.5)"/>
<ellipse cx="234.8" cy="289.8" rx="3.3" ry="0.35" fill="#f6eaf2" transform="rotate(-53 234.8 289.8)"/>
<ellipse cx="276.2" cy="265.0" rx="2.3" ry="0.54" fill="#3a1030" transform="rotate(69 276.2 265.0)"/>
<ellipse cx="238.7" cy="255.6" rx="2.2" ry="0.57" fill="#4a1436" transform="rotate(87 238.7 255.6)"/>
<ellipse cx="255.7" cy="281.5" rx="1.8" ry="0.48" fill="#34102a" transform="rotate(-52 255.7 281.5)"/>
<ellipse cx="301.2" cy="273.4" rx="3.5" ry="0.64" fill="#34102a" transform="rotate(-61 301.2 273.4)"/>
<ellipse cx="259.8" cy="295.4" rx="2.1" ry="0.42" fill="#e070a8" transform="rotate(-63 259.8 295.4)"/>
<ellipse cx="293.4" cy="296.5" rx="3.1" ry="0.56" fill="#5a1a44" transform="rotate(74 293.4 296.5)"/>
<ellipse cx="240.1" cy="253.2" rx="1.9" ry="0.50" fill="#e8c0d8" transform="rotate(102 240.1 253.2)"/>
<ellipse cx="280.4" cy="242.3" rx="3.6" ry="0.53" fill="#4a1436" transform="rotate(76 280.4 242.3)"/>
<ellipse cx="296.4" cy="298.4" rx="1.7" ry="0.45" fill="#4a1436" transform="rotate(-76 296.4 298.4)"/>
<ellipse cx="261.2" cy="287.6" rx="1.8" ry="0.40" fill="#4a1436" transform="rotate(114 261.2 287.6)"/>
<ellipse cx="249.5" cy="289.5" rx="2.0" ry="0.53" fill="#e8c0d8" transform="rotate(-74 249.5 289.5)"/>
<ellipse cx="294.8" cy="298.8" rx="1.5" ry="0.59" fill="#e070a8" transform="rotate(104 294.8 298.8)"/>
<ellipse cx="244.7" cy="260.7" rx="1.9" ry="0.69" fill="#f6eaf2" transform="rotate(-73 244.7 260.7)"/>
<ellipse cx="277.1" cy="259.3" rx="3.0" ry="0.55" fill="#3a1030" transform="rotate(94 277.1 259.3)"/>
<ellipse cx="260.5" cy="251.7" rx="1.8" ry="0.61" fill="#f0dcea" transform="rotate(-32 260.5 251.7)"/>
<ellipse cx="268.8" cy="256.9" rx="2.8" ry="0.45" fill="#f0dcea" transform="rotate(113 268.8 256.9)"/>
<ellipse cx="275.0" cy="277.0" rx="2.6" ry="0.61" fill="#f6eaf2" transform="rotate(77 275.0 277.0)"/>
<ellipse cx="262.9" cy="279.2" rx="2.1" ry="0.48" fill="#d0509a" transform="rotate(100 262.9 279.2)"/>
<ellipse cx="235.4" cy="298.1" rx="3.5" ry="0.48" fill="#f0dcea" transform="rotate(-35 235.4 298.1)"/>
<ellipse cx="246.3" cy="246.3" rx="1.9" ry="0.60" fill="#34102a" transform="rotate(-30 246.3 246.3)"/>
<ellipse cx="270.1" cy="304.4" rx="2.2" ry="0.66" fill="#34102a" transform="rotate(68 270.1 304.4)"/>
<ellipse cx="241.4" cy="248.0" rx="2.0" ry="0.50" fill="#e070a8" transform="rotate(-41 241.4 248.0)"/>
<ellipse cx="277.8" cy="288.9" rx="1.7" ry="0.67" fill="#e070a8" transform="rotate(71 277.8 288.9)"/>
<ellipse cx="237.4" cy="253.8" rx="2.8" ry="0.52" fill="#3a1030" transform="rotate(-39 237.4 253.8)"/>
<ellipse cx="302.3" cy="304.1" rx="2.3" ry="0.48" fill="#f0dcea" transform="rotate(103 302.3 304.1)"/>
<ellipse cx="251.3" cy="294.0" rx="2.4" ry="0.37" fill="#4a1436" transform="rotate(-53 251.3 294.0)"/>
<ellipse cx="235.6" cy="269.1" rx="3.2" ry="0.50" fill="#5a1a44" transform="rotate(-43 235.6 269.1)"/>
<ellipse cx="281.0" cy="305.1" rx="3.5" ry="0.68" fill="#e070a8" transform="rotate(101 281.0 305.1)"/>
<ellipse cx="242.1" cy="246.9" rx="2.4" ry="0.63" fill="#e070a8" transform="rotate(-54 242.1 246.9)"/>
<ellipse cx="270.7" cy="303.9" rx="3.2" ry="0.45" fill="#d0509a" transform="rotate(80 270.7 303.9)"/>
<ellipse cx="240.5" cy="271.2" rx="2.0" ry="0.49" fill="#e070a8" transform="rotate(-34 240.5 271.2)"/>
<ellipse cx="262.8" cy="259.8" rx="3.1" ry="0.58" fill="#34102a" transform="rotate(-70 262.8 259.8)"/>
<ellipse cx="294.5" cy="301.5" rx="1.9" ry="0.46" fill="#d0509a" transform="rotate(-68 294.5 301.5)"/>
<ellipse cx="248.2" cy="287.9" rx="3.1" ry="0.49" fill="#e8c0d8" transform="rotate(80 248.2 287.9)"/>
<ellipse cx="239.2" cy="253.6" rx="1.6" ry="0.54" fill="#5a1a44" transform="rotate(-59 239.2 253.6)"/>
<ellipse cx="266.9" cy="249.3" rx="2.2" ry="0.47" fill="#f0dcea" transform="rotate(-51 266.9 249.3)"/>
<ellipse cx="244.1" cy="280.3" rx="2.0" ry="0.35" fill="#f0dcea" transform="rotate(-32 244.1 280.3)"/>
<ellipse cx="259.2" cy="248.3" rx="1.6" ry="0.61" fill="#e070a8" transform="rotate(113 259.2 248.3)"/>
<ellipse cx="302.1" cy="283.5" rx="2.1" ry="0.59" fill="#34102a" transform="rotate(-49 302.1 283.5)"/>
<ellipse cx="253.8" cy="296.2" rx="3.4" ry="0.46" fill="#e070a8" transform="rotate(83 253.8 296.2)"/>
<ellipse cx="290.7" cy="289.2" rx="2.9" ry="0.41" fill="#d0509a" transform="rotate(-49 290.7 289.2)"/>
<ellipse cx="236.5" cy="294.6" rx="3.0" ry="0.48" fill="#4a1436" transform="rotate(-73 236.5 294.6)"/>
<ellipse cx="295.4" cy="298.6" rx="2.4" ry="0.64" fill="#f6eaf2" transform="rotate(-63 295.4 298.6)"/>
<ellipse cx="273.9" cy="272.8" rx="1.5" ry="0.46" fill="#3a1030" transform="rotate(-47 273.9 272.8)"/>
<ellipse cx="296.3" cy="303.3" rx="2.9" ry="0.37" fill="#3a1030" transform="rotate(81 296.3 303.3)"/>
<ellipse cx="258.7" cy="304.1" rx="2.2" ry="0.49" fill="#4a1436" transform="rotate(63 258.7 304.1)"/>
<ellipse cx="255.8" cy="284.7" rx="2.9" ry="0.59" fill="#5a1a44" transform="rotate(61 255.8 284.7)"/>
<ellipse cx="282.5" cy="285.2" rx="2.7" ry="0.53" fill="#5a1a44" transform="rotate(-70 282.5 285.2)"/>
<ellipse cx="267.9" cy="244.5" rx="1.8" ry="0.49" fill="#5a1a44" transform="rotate(-60 267.9 244.5)"/>
<ellipse cx="265.9" cy="283.8" rx="1.5" ry="0.56" fill="#e070a8" transform="rotate(-50 265.9 283.8)"/>
<ellipse cx="279.9" cy="244.8" rx="2.2" ry="0.45" fill="#3a1030" transform="rotate(66 279.9 244.8)"/>
<ellipse cx="279.2" cy="297.1" rx="2.2" ry="0.35" fill="#5a1a44" transform="rotate(76 279.2 297.1)"/>
<ellipse cx="243.3" cy="286.0" rx="2.8" ry="0.45" fill="#d0509a" transform="rotate(90 243.3 286.0)"/>
<ellipse cx="252.6" cy="250.9" rx="2.7" ry="0.50" fill="#4a1436" transform="rotate(-77 252.6 250.9)"/>
<ellipse cx="304.3" cy="301.0" rx="2.6" ry="0.66" fill="#5a1a44" transform="rotate(-61 304.3 301.0)"/>
<ellipse cx="281.2" cy="295.6" rx="3.5" ry="0.57" fill="#3a1030" transform="rotate(-73 281.2 295.6)"/>
<ellipse cx="248.6" cy="246.5" rx="3.5" ry="0.51" fill="#e8c0d8" transform="rotate(118 248.6 246.5)"/>
<ellipse cx="281.4" cy="294.3" rx="2.8" ry="0.68" fill="#5a1a44" transform="rotate(110 281.4 294.3)"/>
<ellipse cx="262.4" cy="304.4" rx="3.5" ry="0.61" fill="#34102a" transform="rotate(-42 262.4 304.4)"/>
<ellipse cx="260.4" cy="302.5" rx="2.7" ry="0.67" fill="#34102a" transform="rotate(-56 260.4 302.5)"/>
<ellipse cx="269.9" cy="303.0" rx="1.6" ry="0.49" fill="#f0dcea" transform="rotate(91 269.9 303.0)"/>
<ellipse cx="245.5" cy="290.0" rx="3.2" ry="0.52" fill="#3a1030" transform="rotate(-44 245.5 290.0)"/>
<ellipse cx="254.7" cy="304.1" rx="1.7" ry="0.46" fill="#f6eaf2" transform="rotate(-60 254.7 304.1)"/>
<ellipse cx="239.8" cy="248.8" rx="1.9" ry="0.56" fill="#34102a" transform="rotate(-33 239.8 248.8)"/>
<ellipse cx="245.2" cy="255.8" rx="3.2" ry="0.69" fill="#4a1436" transform="rotate(-46 245.2 255.8)"/>
<ellipse cx="270.1" cy="243.5" rx="1.6" ry="0.42" fill="#f6eaf2" transform="rotate(-43 270.1 243.5)"/>
<ellipse cx="267.4" cy="272.3" rx="3.4" ry="0.65" fill="#e070a8" transform="rotate(-40 267.4 272.3)"/>
<ellipse cx="243.9" cy="277.8" rx="3.5" ry="0.50" fill="#34102a" transform="rotate(-58 243.9 277.8)"/>
<ellipse cx="290.9" cy="303.4" rx="2.8" ry="0.53" fill="#34102a" transform="rotate(-58 290.9 303.4)"/>
<ellipse cx="259.3" cy="243.5" rx="3.0" ry="0.46" fill="#f6eaf2" transform="rotate(-30 259.3 243.5)"/>
<ellipse cx="263.5" cy="260.5" rx="3.3" ry="0.36" fill="#34102a" transform="rotate(85 263.5 260.5)"/>
<ellipse cx="306.0" cy="289.9" rx="3.0" ry="0.43" fill="#f6eaf2" transform="rotate(82 306.0 289.9)"/>
<ellipse cx="242.4" cy="293.7" rx="3.1" ry="0.67" fill="#5a1a44" transform="rotate(93 242.4 293.7)"/>
<ellipse cx="286.8" cy="292.4" rx="3.1" ry="0.62" fill="#34102a" transform="rotate(70 286.8 292.4)"/>
<ellipse cx="230.8" cy="283.2" rx="2.8" ry="0.49" fill="#f0dcea" transform="rotate(-63 230.8 283.2)"/>
<ellipse cx="272.4" cy="263.5" rx="2.0" ry="0.58" fill="#f6eaf2" transform="rotate(-60 272.4 263.5)"/>
<ellipse cx="284.6" cy="298.5" rx="3.6" ry="0.49" fill="#f0dcea" transform="rotate(-70 284.6 298.5)"/>
<ellipse cx="232.6" cy="261.0" rx="2.2" ry="0.66" fill="#f6eaf2" transform="rotate(-41 232.6 261.0)"/>
<ellipse cx="291.5" cy="292.3" rx="2.5" ry="0.47" fill="#f6eaf2" transform="rotate(88 291.5 292.3)"/>
<ellipse cx="244.8" cy="262.7" rx="2.8" ry="0.42" fill="#4a1436" transform="rotate(-32 244.8 262.7)"/>
<ellipse cx="245.2" cy="298.8" rx="3.0" ry="0.40" fill="#4a1436" transform="rotate(116 245.2 298.8)"/>
<ellipse cx="229.8" cy="275.6" rx="2.5" ry="0.46" fill="#3a1030" transform="rotate(-70 229.8 275.6)"/>
<ellipse cx="250.6" cy="255.8" rx="1.4" ry="0.59" fill="#3a1030" transform="rotate(-40 250.6 255.8)"/>
<ellipse cx="288.9" cy="275.0" rx="1.4" ry="0.37" fill="#e8c0d8" transform="rotate(116 288.9 275.0)"/>
<ellipse cx="267.7" cy="276.4" rx="1.4" ry="0.53" fill="#d0509a" transform="rotate(-50 267.7 276.4)"/>
<ellipse cx="248.4" cy="241.6" rx="3.4" ry="0.39" fill="#e070a8" transform="rotate(68 248.4 241.6)"/>
<ellipse cx="254.6" cy="251.3" rx="3.3" ry="0.61" fill="#4a1436" transform="rotate(102 254.6 251.3)"/>
<ellipse cx="266.3" cy="305.4" rx="2.4" ry="0.70" fill="#5a1a44" transform="rotate(-43 266.3 305.4)"/>
<ellipse cx="268.4" cy="269.4" rx="2.7" ry="0.68" fill="#e070a8" transform="rotate(109 268.4 269.4)"/>
<ellipse cx="264.3" cy="270.8" rx="2.0" ry="0.35" fill="#f0dcea" transform="rotate(64 264.3 270.8)"/>
<ellipse cx="239.0" cy="281.8" rx="2.3" ry="0.42" fill="#5a1a44" transform="rotate(78 239.0 281.8)"/>
<ellipse cx="246.9" cy="289.2" rx="2.0" ry="0.40" fill="#f0dcea" transform="rotate(-63 246.9 289.2)"/>
<ellipse cx="246.3" cy="274.1" rx="3.2" ry="0.58" fill="#d0509a" transform="rotate(-55 246.3 274.1)"/>
<ellipse cx="298.6" cy="275.5" rx="1.7" ry="0.63" fill="#f6eaf2" transform="rotate(-63 298.6 275.5)"/>
<ellipse cx="257.4" cy="257.5" rx="2.5" ry="0.66" fill="#e8c0d8" transform="rotate(-77 257.4 257.5)"/>
<ellipse cx="298.3" cy="279.3" rx="3.1" ry="0.63" fill="#4a1436" transform="rotate(63 298.3 279.3)"/>
<ellipse cx="268.2" cy="244.5" rx="2.6" ry="0.45" fill="#f6eaf2" transform="rotate(-74 268.2 244.5)"/>
<ellipse cx="301.4" cy="298.1" rx="1.6" ry="0.66" fill="#d0509a" transform="rotate(-71 301.4 298.1)"/>
<ellipse cx="232.5" cy="262.8" rx="3.2" ry="0.49" fill="#34102a" transform="rotate(69 232.5 262.8)"/>
<ellipse cx="261.0" cy="253.5" rx="2.9" ry="0.66" fill="#f6eaf2" transform="rotate(-56 261.0 253.5)"/>
<ellipse cx="278.9" cy="285.9" rx="2.8" ry="0.43" fill="#e070a8" transform="rotate(111 278.9 285.9)"/>
<ellipse cx="275.4" cy="288.1" rx="3.3" ry="0.59" fill="#4a1436" transform="rotate(64 275.4 288.1)"/>
<ellipse cx="271.5" cy="305.9" rx="3.0" ry="0.65" fill="#4a1436" transform="rotate(100 271.5 305.9)"/>
<ellipse cx="279.4" cy="286.3" rx="2.4" ry="0.49" fill="#3a1030" transform="rotate(118 279.4 286.3)"/>
<ellipse cx="235.7" cy="304.4" rx="1.8" ry="0.67" fill="#34102a" transform="rotate(-38 235.7 304.4)"/>
<ellipse cx="280.0" cy="276.1" rx="3.2" ry="0.51" fill="#d0509a" transform="rotate(-77 280.0 276.1)"/>
<ellipse cx="236.8" cy="301.0" rx="2.7" ry="0.52" fill="#f0dcea" transform="rotate(-55 236.8 301.0)"/>
<ellipse cx="249.8" cy="262.8" rx="3.1" ry="0.46" fill="#5a1a44" transform="rotate(-53 249.8 262.8)"/>
<ellipse cx="298.5" cy="284.9" rx="3.5" ry="0.43" fill="#f6eaf2" transform="rotate(-52 298.5 284.9)"/>
<ellipse cx="239.8" cy="270.0" rx="2.0" ry="0.68" fill="#e070a8" transform="rotate(-57 239.8 270.0)"/>
<ellipse cx="264.4" cy="285.4" rx="2.5" ry="0.37" fill="#f0dcea" transform="rotate(-40 264.4 285.4)"/>
<ellipse cx="236.7" cy="291.3" rx="2.0" ry="0.48" fill="#d0509a" transform="rotate(91 236.7 291.3)"/>
<ellipse cx="241.1" cy="263.9" rx="1.6" ry="0.38" fill="#e070a8" transform="rotate(62 241.1 263.9)"/>
<ellipse cx="245.4" cy="305.4" rx="3.0" ry="0.63" fill="#e8c0d8" transform="rotate(110 245.4 305.4)"/>
<ellipse cx="250.2" cy="263.5" rx="2.9" ry="0.54" fill="#f6eaf2" transform="rotate(-64 250.2 263.5)"/>
<ellipse cx="247.7" cy="296.8" rx="1.5" ry="0.65" fill="#e070a8" transform="rotate(-50 247.7 296.8)"/>
<ellipse cx="285.4" cy="292.0" rx="1.9" ry="0.54" fill="#4a1436" transform="rotate(117 285.4 292.0)"/>
<ellipse cx="241.0" cy="285.1" rx="2.4" ry="0.58" fill="#d0509a" transform="rotate(93 241.0 285.1)"/>
<ellipse cx="229.2" cy="298.7" rx="2.1" ry="0.66" fill="#3a1030" transform="rotate(-33 229.2 298.7)"/>
<ellipse cx="230.5" cy="288.5" rx="2.2" ry="0.64" fill="#34102a" transform="rotate(-59 230.5 288.5)"/>
<ellipse cx="229.8" cy="303.3" rx="2.8" ry="0.53" fill="#d0509a" transform="rotate(-35 229.8 303.3)"/>
<ellipse cx="233.9" cy="297.4" rx="1.7" ry="0.45" fill="#34102a" transform="rotate(-60 233.9 297.4)"/>
<ellipse cx="279.8" cy="252.8" rx="2.1" ry="0.40" fill="#34102a" transform="rotate(-52 279.8 252.8)"/>
<ellipse cx="283.1" cy="280.0" rx="2.3" ry="0.62" fill="#4a1436" transform="rotate(75 283.1 280.0)"/>
<ellipse cx="275.4" cy="252.4" rx="2.8" ry="0.54" fill="#5a1a44" transform="rotate(-50 275.4 252.4)"/>
<ellipse cx="271.6" cy="291.4" rx="2.2" ry="0.64" fill="#34102a" transform="rotate(-56 271.6 291.4)"/>
<ellipse cx="239.5" cy="278.9" rx="3.4" ry="0.42" fill="#e070a8" transform="rotate(-47 239.5 278.9)"/>
<ellipse cx="241.7" cy="294.2" rx="3.4" ry="0.43" fill="#f6eaf2" transform="rotate(68 241.7 294.2)"/>
<ellipse cx="241.4" cy="274.1" rx="1.5" ry="0.52" fill="#4a1436" transform="rotate(-58 241.4 274.1)"/>
<ellipse cx="246.6" cy="281.8" rx="3.4" ry="0.60" fill="#e8c0d8" transform="rotate(-56 246.6 281.8)"/>
<ellipse cx="268.4" cy="286.9" rx="2.9" ry="0.38" fill="#34102a" transform="rotate(-34 268.4 286.9)"/>
<ellipse cx="267.5" cy="251.2" rx="3.2" ry="0.36" fill="#e8c0d8" transform="rotate(-60 267.5 251.2)"/>
<ellipse cx="294.1" cy="278.8" rx="3.1" ry="0.59" fill="#34102a" transform="rotate(-53 294.1 278.8)"/>
<ellipse cx="243.7" cy="299.0" rx="3.2" ry="0.52" fill="#3a1030" transform="rotate(-53 243.7 299.0)"/>
<ellipse cx="269.6" cy="275.2" rx="3.2" ry="0.43" fill="#e070a8" transform="rotate(96 269.6 275.2)"/>
<ellipse cx="240.0" cy="248.7" rx="1.8" ry="0.69" fill="#4a1436" transform="rotate(95 240.0 248.7)"/>
<ellipse cx="268.7" cy="255.8" rx="1.5" ry="0.37" fill="#4a1436" transform="rotate(-65 268.7 255.8)"/>
<ellipse cx="293.0" cy="280.0" rx="3.6" ry="0.43" fill="#e070a8" transform="rotate(67 293.0 280.0)"/>
<ellipse cx="260.1" cy="259.2" rx="2.0" ry="0.44" fill="#4a1436" transform="rotate(-52 260.1 259.2)"/>
<ellipse cx="271.5" cy="295.7" rx="2.4" ry="0.54" fill="#5a1a44" transform="rotate(64 271.5 295.7)"/>
<text x="286.8" y="256.4" font-family='"Liberation Serif", serif' font-style="italic" font-weight="bold" font-size="8.2" fill="#1a1a1a">HA</text>
<rect x="253.6" y="293.6" width="54" height="14.5" fill="#fcfcfc"/>
</g>
</g>
<text x="261.2" y="236.6" font-size="7.7" font-weight="bold" fill="#111">Transplant</text>
<text x="258.6" y="303.4" font-size="7.7" font-weight="bold" fill="#111">HA/TCP/FB</text>
<rect x="34.7" y="20.8" width="168.60000000000002" height="106.4" fill="none" stroke="#7c7c84" stroke-width="1.2"/>
<line x1="30.1" y1="123.20" x2="34.7" y2="123.20" stroke="#7c7c84" stroke-width="1"/>
<text x="0" y="0" transform="translate(27.1,123.20) rotate(-90)" text-anchor="middle" font-size="9" font-weight="bold" fill="#111">0.0</text>
<line x1="30.1" y1="103.54" x2="34.7" y2="103.54" stroke="#7c7c84" stroke-width="1"/>
<text x="0" y="0" transform="translate(27.1,103.54) rotate(-90)" text-anchor="middle" font-size="9" font-weight="bold" fill="#111">0.2</text>
<line x1="30.1" y1="83.88" x2="34.7" y2="83.88" stroke="#7c7c84" stroke-width="1"/>
<text x="0" y="0" transform="translate(27.1,83.88) rotate(-90)" text-anchor="middle" font-size="9" font-weight="bold" fill="#111">0.4</text>
<line x1="30.1" y1="64.22" x2="34.7" y2="64.22" stroke="#7c7c84" stroke-width="1"/>
<text x="0" y="0" transform="translate(27.1,64.22) rotate(-90)" text-anchor="middle" font-size="9" font-weight="bold" fill="#111">0.6</text>
<line x1="30.1" y1="44.56" x2="34.7" y2="44.56" stroke="#7c7c84" stroke-width="1"/>
<text x="0" y="0" transform="translate(27.1,44.56) rotate(-90)" text-anchor="middle" font-size="9" font-weight="bold" fill="#111">0.8</text>
<line x1="30.1" y1="24.90" x2="34.7" y2="24.90" stroke="#7c7c84" stroke-width="1"/>
<text x="0" y="0" transform="translate(27.1,24.90) rotate(-90)" text-anchor="middle" font-size="9" font-weight="bold" fill="#111">1.0</text>
<line x1="34.70" y1="127.2" x2="34.70" y2="130.4" stroke="#7c7c84" stroke-width="1"/>
<text x="35.00" y="137.8" text-anchor="middle" font-size="9" font-weight="bold" fill="#111">0</text>
<line x1="76.60" y1="127.2" x2="76.60" y2="130.4" stroke="#7c7c84" stroke-width="1"/>
<text x="78.20" y="137.8" text-anchor="middle" font-size="9" font-weight="bold" fill="#111">200</text>
<line x1="118.50" y1="127.2" x2="118.50" y2="130.4" stroke="#7c7c84" stroke-width="1"/>
<text x="120.60" y="137.8" text-anchor="middle" font-size="9" font-weight="bold" fill="#111">400</text>
<line x1="161.50" y1="127.2" x2="161.50" y2="130.4" stroke="#7c7c84" stroke-width="1"/>
<text x="164.00" y="137.8" text-anchor="middle" font-size="9" font-weight="bold" fill="#111">600</text>
<line x1="203.30" y1="127.2" x2="203.30" y2="130.4" stroke="#7c7c84" stroke-width="1"/>
<text x="200.90" y="137.8" text-anchor="middle" font-size="9" font-weight="bold" fill="#111">800</text>
<text x="0" y="0" transform="translate(12.0,68.90) rotate(-90)" text-anchor="middle" font-size="11.0" font-weight="bold" fill="#111">Cumulative survival</text>
<text x="107.10" y="154.8" text-anchor="middle" font-size="10.7" font-weight="bold" fill="#111">Lifespan (Days)</text>
<path d="M34.70,24.90 L85.30,24.90 L85.30,29.82 L93.40,29.82 L93.40,34.73 L96.00,34.73 L96.00,49.48 L103.30,49.48 L103.30,54.39 L110.60,54.39 L110.60,59.30 L120.20,59.30 L120.20,64.22 L129.20,64.22 L129.20,78.97 L131.20,78.97 L131.20,93.71 L140.50,93.71 L140.50,98.62 L142.30,98.62 L142.30,103.54 L145.50,103.54 L145.50,108.46 L158.60,108.46 L158.60,113.37 L161.10,113.37 L161.10,123.20" fill="none" stroke="#32507f" stroke-width="1.2" stroke-linejoin="miter"/>
<path d="M34.70,24.90 L86.00,24.90 L86.00,32.46 L118.00,32.46 L118.00,47.58 L129.50,47.58 L129.50,55.15 L137.20,55.15 L137.20,62.71 L165.40,62.71 L165.40,70.27 L167.30,70.27 L167.30,77.83 L170.40,77.83 L170.40,85.39 L177.20,85.39 L177.20,92.95 L178.50,92.95 L178.50,100.52 L181.00,100.52 L181.00,108.08 L186.30,108.08 L186.30,115.64 L189.50,115.64 L189.50,123.20" fill="none" stroke="#6a2a48" stroke-width="1.2" stroke-dasharray="1.25 1.0" stroke-linejoin="miter"/>
<line x1="43.3" y1="100.9" x2="63.6" y2="100.9" stroke="#3a5e98" stroke-width="1.5"/>
<text x="65.6" y="104.00" font-size="8.5" font-weight="bold" fill="#111">Control (n=20)</text>
<line x1="43.3" y1="112.8" x2="63.6" y2="112.8" stroke="#6a2a48" stroke-width="1.2" stroke-dasharray="1.2 0.95"/>
<text x="65.6" y="115.90" font-size="8.5" font-weight="bold" fill="#111">Transplant (n=13)</text>
<rect x="34.0" y="176.9" width="168.3" height="106.49999999999997" fill="none" stroke="#7c7c84" stroke-width="1.2"/>
<line x1="29.4" y1="279.40" x2="34.0" y2="279.40" stroke="#7c7c84" stroke-width="1"/>
<text x="0" y="0" transform="translate(26.3,279.40) rotate(-90)" text-anchor="middle" font-size="9" font-weight="bold" fill="#111">0.0</text>
<line x1="29.4" y1="259.72" x2="34.0" y2="259.72" stroke="#7c7c84" stroke-width="1"/>
<text x="0" y="0" transform="translate(26.3,259.72) rotate(-90)" text-anchor="middle" font-size="9" font-weight="bold" fill="#111">0.2</text>
<line x1="29.4" y1="240.04" x2="34.0" y2="240.04" stroke="#7c7c84" stroke-width="1"/>
<text x="0" y="0" transform="translate(26.3,240.04) rotate(-90)" text-anchor="middle" font-size="9" font-weight="bold" fill="#111">0.4</text>
<line x1="29.4" y1="220.36" x2="34.0" y2="220.36" stroke="#7c7c84" stroke-width="1"/>
<text x="0" y="0" transform="translate(26.3,220.36) rotate(-90)" text-anchor="middle" font-size="9" font-weight="bold" fill="#111">0.6</text>
<line x1="29.4" y1="200.68" x2="34.0" y2="200.68" stroke="#7c7c84" stroke-width="1"/>
<text x="0" y="0" transform="translate(26.3,200.68) rotate(-90)" text-anchor="middle" font-size="9" font-weight="bold" fill="#111">0.8</text>
<line x1="29.4" y1="181.00" x2="34.0" y2="181.00" stroke="#7c7c84" stroke-width="1"/>
<text x="0" y="0" transform="translate(26.3,181.00) rotate(-90)" text-anchor="middle" font-size="9" font-weight="bold" fill="#111">1.0</text>
<line x1="34.00" y1="283.4" x2="34.00" y2="286.59999999999997" stroke="#7c7c84" stroke-width="1"/>
<text x="34.30" y="294.2" text-anchor="middle" font-size="9" font-weight="bold" fill="#111">0</text>
<line x1="76.00" y1="283.4" x2="76.00" y2="286.59999999999997" stroke="#7c7c84" stroke-width="1"/>
<text x="77.70" y="294.2" text-anchor="middle" font-size="9" font-weight="bold" fill="#111">200</text>
<line x1="117.90" y1="283.4" x2="117.90" y2="286.59999999999997" stroke="#7c7c84" stroke-width="1"/>
<text x="119.50" y="294.2" text-anchor="middle" font-size="9" font-weight="bold" fill="#111">400</text>
<line x1="160.60" y1="283.4" x2="160.60" y2="286.59999999999997" stroke="#7c7c84" stroke-width="1"/>
<text x="163.30" y="294.2" text-anchor="middle" font-size="9" font-weight="bold" fill="#111">600</text>
<line x1="202.30" y1="283.4" x2="202.30" y2="286.59999999999997" stroke="#7c7c84" stroke-width="1"/>
<text x="200.00" y="294.2" text-anchor="middle" font-size="9" font-weight="bold" fill="#111">800</text>
<text x="0" y="0" transform="translate(12.0,230.80) rotate(-90)" text-anchor="middle" font-size="10.8" font-weight="bold" fill="#111">Cumulative survival</text>
<text x="106.00" y="311.8" text-anchor="middle" font-size="10.7" font-weight="bold" fill="#111">Lifespan (Days)</text>
<path d="M34.00,181.00 L82.70,181.00 L82.70,185.92 L90.50,185.92 L90.50,190.84 L93.80,190.84 L93.80,205.60 L101.10,205.60 L101.10,210.52 L108.60,210.52 L108.60,215.44 L118.00,215.44 L118.00,220.36 L125.90,220.36 L125.90,230.20 L126.30,230.20 L126.30,235.12 L128.00,235.12 L128.00,240.04 L129.30,240.04 L129.30,249.88 L138.70,249.88 L138.70,254.80 L140.00,254.80 L140.00,259.72 L143.00,259.72 L143.00,264.64 L156.10,264.64 L156.10,269.56 L158.60,269.56 L158.60,279.40" fill="none" stroke="#32507f" stroke-width="1.2" stroke-linejoin="miter"/>
<path d="M34.00,181.00 L83.40,181.00 L83.40,190.84 L109.50,190.84 L109.50,200.68 L115.00,200.68 L115.00,210.52 L118.60,210.52 L118.60,220.36 L119.90,220.36 L119.90,230.20 L125.60,230.20 L125.60,240.04 L141.00,240.04 L141.00,249.88 L144.90,249.88 L144.90,259.72 L158.60,259.72 L158.60,269.56 L159.20,269.56 L159.20,279.40" fill="none" stroke="#efae62" stroke-width="1.2" stroke-dasharray="3 0.6" stroke-linejoin="miter"/>
<line x1="43.8" y1="261.5" x2="62.0" y2="261.5" stroke="#32507f" stroke-width="1.5"/>
<text x="64.0" y="264.60" font-size="8.5" font-weight="bold" fill="#111">Control (n=20)</text>
<line x1="43.8" y1="272.4" x2="62.0" y2="272.4" stroke="#efae62" stroke-width="1.4" stroke-dasharray="3 0.6"/>
<text x="64.0" y="275.50" font-size="8.5" font-weight="bold" fill="#111">HA/TCP/FB (n=10)</text>
<rect x="346.2" y="177.1" width="168.00000000000006" height="106.29999999999998" fill="none" stroke="#7c7c84" stroke-width="1.2"/>
<line x1="341.59999999999997" y1="279.40" x2="346.2" y2="279.40" stroke="#7c7c84" stroke-width="1"/>
<text x="0" y="0" transform="translate(338.3,279.40) rotate(-90)" text-anchor="middle" font-size="9" font-weight="bold" fill="#111">0.0</text>
<line x1="341.59999999999997" y1="259.78" x2="346.2" y2="259.78" stroke="#7c7c84" stroke-width="1"/>
<text x="0" y="0" transform="translate(338.3,259.78) rotate(-90)" text-anchor="middle" font-size="9" font-weight="bold" fill="#111">0.2</text>
<line x1="341.59999999999997" y1="240.16" x2="346.2" y2="240.16" stroke="#7c7c84" stroke-width="1"/>
<text x="0" y="0" transform="translate(338.3,240.16) rotate(-90)" text-anchor="middle" font-size="9" font-weight="bold" fill="#111">0.4</text>
<line x1="341.59999999999997" y1="220.54" x2="346.2" y2="220.54" stroke="#7c7c84" stroke-width="1"/>
<text x="0" y="0" transform="translate(338.3,220.54) rotate(-90)" text-anchor="middle" font-size="9" font-weight="bold" fill="#111">0.6</text>
<line x1="341.59999999999997" y1="200.92" x2="346.2" y2="200.92" stroke="#7c7c84" stroke-width="1"/>
<text x="0" y="0" transform="translate(338.3,200.92) rotate(-90)" text-anchor="middle" font-size="9" font-weight="bold" fill="#111">0.8</text>
<line x1="341.59999999999997" y1="181.30" x2="346.2" y2="181.30" stroke="#7c7c84" stroke-width="1"/>
<text x="0" y="0" transform="translate(338.3,181.30) rotate(-90)" text-anchor="middle" font-size="9" font-weight="bold" fill="#111">1.0</text>
<line x1="346.20" y1="283.4" x2="346.20" y2="286.59999999999997" stroke="#7c7c84" stroke-width="1"/>
<text x="346.50" y="294.2" text-anchor="middle" font-size="9" font-weight="bold" fill="#111">0</text>
<line x1="388.00" y1="283.4" x2="388.00" y2="286.59999999999997" stroke="#7c7c84" stroke-width="1"/>
<text x="389.40" y="294.2" text-anchor="middle" font-size="9" font-weight="bold" fill="#111">200</text>
<line x1="429.60" y1="283.4" x2="429.60" y2="286.59999999999997" stroke="#7c7c84" stroke-width="1"/>
<text x="431.50" y="294.2" text-anchor="middle" font-size="9" font-weight="bold" fill="#111">400</text>
<line x1="472.30" y1="283.4" x2="472.30" y2="286.59999999999997" stroke="#7c7c84" stroke-width="1"/>
<text x="474.80" y="294.2" text-anchor="middle" font-size="9" font-weight="bold" fill="#111">600</text>
<line x1="514.20" y1="283.4" x2="514.20" y2="286.59999999999997" stroke="#7c7c84" stroke-width="1"/>
<text x="511.80" y="294.2" text-anchor="middle" font-size="9" font-weight="bold" fill="#111">800</text>
<text x="0" y="0" transform="translate(322.1,228.30) rotate(-90)" text-anchor="middle" font-size="10.8" font-weight="bold" fill="#111">Cumulative survival</text>
<text x="418.40" y="311.8" text-anchor="middle" font-size="10.7" font-weight="bold" fill="#111">Lifespan (Days)</text>
<path d="M346.20,181.30 L395.00,181.30 L395.00,186.21 L403.00,186.21 L403.00,191.11 L405.40,191.11 L405.40,205.82 L413.30,205.82 L413.30,210.73 L420.60,210.73 L420.60,215.63 L429.90,215.63 L429.90,220.54 L437.70,220.54 L437.70,230.35 L439.00,230.35 L439.00,235.25 L441.40,235.25 L441.40,249.97 L449.80,249.97 L449.80,254.88 L451.20,254.88 L451.20,259.78 L454.50,259.78 L454.50,264.68 L467.60,264.68 L467.60,269.59 L470.50,269.59 L470.50,279.40" fill="none" stroke="#32507f" stroke-width="1.2" stroke-linejoin="miter"/>
<path d="M346.20,181.30 L408.60,181.30 L408.60,189.48 L414.80,189.48 L414.80,197.65 L421.80,197.65 L421.80,205.82 L424.30,205.82 L424.30,214.00 L425.50,214.00 L425.50,222.17 L427.40,222.17 L427.40,230.35 L450.50,230.35 L450.50,238.52 L454.80,238.52 L454.80,246.70 L464.30,246.70 L464.30,254.88 L489.40,254.88 L489.40,263.05 L507.30,263.05 L507.30,271.22 L508.20,271.22 L508.20,279.40" fill="none" stroke="#3e7e3e" stroke-width="1.3" stroke-dasharray="2.4 0.6 0.8 0.6" stroke-linejoin="miter"/>
<line x1="352.3" y1="259.6" x2="371.5" y2="259.6" stroke="#32507f" stroke-width="1.5"/>
<text x="373.6" y="262.70" font-size="8.5" font-weight="bold" fill="#111">Control (n=20)</text>
<line x1="352.3" y1="269.9" x2="371.5" y2="269.9" stroke="#3e7e3e" stroke-width="1.4" stroke-dasharray="2.4 0.6 0.8 0.6"/>
<text x="372.3" y="273.00" font-size="8.5" font-weight="bold" fill="#111">Systemic (n=12)</text>
<rect x="403.5" y="39.2" width="109.29999999999995" height="75.39999999999999" fill="none" stroke="#7a7a7a" stroke-width="1"/>
<line x1="401.0" y1="39.20" x2="403.5" y2="39.20" stroke="#7a7a7a" stroke-width="0.9"/>
<text x="395.4" y="42.40" text-anchor="end" font-size="8.8" font-weight="bold" fill="#111">35</text>
<line x1="401.0" y1="58.05" x2="403.5" y2="58.05" stroke="#7a7a7a" stroke-width="0.9"/>
<text x="395.4" y="61.25" text-anchor="end" font-size="8.8" font-weight="bold" fill="#111">30</text>
<line x1="401.0" y1="76.90" x2="403.5" y2="76.90" stroke="#7a7a7a" stroke-width="0.9"/>
<text x="395.4" y="80.10" text-anchor="end" font-size="8.8" font-weight="bold" fill="#111">25</text>
<line x1="401.0" y1="95.75" x2="403.5" y2="95.75" stroke="#7a7a7a" stroke-width="0.9"/>
<text x="395.4" y="98.95" text-anchor="end" font-size="8.8" font-weight="bold" fill="#111">20</text>
<line x1="401.0" y1="114.60" x2="403.5" y2="114.60" stroke="#7a7a7a" stroke-width="0.9"/>
<text x="395.4" y="117.80" text-anchor="end" font-size="8.8" font-weight="bold" fill="#111">15</text>
<text x="403.50" y="129.3" text-anchor="middle" font-size="9" font-weight="bold" fill="#111">10</text>
<text x="439.93" y="129.3" text-anchor="middle" font-size="9" font-weight="bold" fill="#111">15</text>
<text x="476.37" y="129.3" text-anchor="middle" font-size="9" font-weight="bold" fill="#111">20</text>
<text x="512.80" y="129.3" text-anchor="middle" font-size="9" font-weight="bold" fill="#111">25</text>
<text x="456.5" y="143.8" text-anchor="middle" font-size="9.6" font-weight="bold" fill="#111">Age (months)</text>
<text transform="translate(372.3,77.8) rotate(-90)" text-anchor="middle" font-size="9" font-weight="bold" fill="#111">Body Weight (g)</text>
<path d="M409.70,27.50 L411.40,29.20 L409.70,30.90 L408.00,29.20 Z" fill="#1c1ca8"/>
<text x="414.6" y="32.6" font-size="9.3" font-weight="bold" fill="#111">Control</text>
<path d="M455.00,28.00 L456.80,31.24 L453.20,31.24 Z" fill="#c82424"/>
<text x="460.3" y="32.6" font-size="9.3" font-weight="bold" fill="#111">Transplant</text>
<path d="M425.40,67.60 L427.40,71.20 L423.40,71.20 Z" fill="#c82424"/>
<path d="M425.40,85.50 L427.40,89.10 L423.40,89.10 Z" fill="#c82424"/>
<path d="M425.40,87.30 L427.40,90.90 L423.40,90.90 Z" fill="#c82424"/>
<path d="M425.40,94.30 L427.40,97.90 L423.40,97.90 Z" fill="#c82424"/>
<path d="M447.20,77.60 L449.20,81.20 L445.20,81.20 Z" fill="#c82424"/>
<path d="M447.20,79.20 L449.20,82.80 L445.20,82.80 Z" fill="#c82424"/>
<path d="M447.20,97.10 L449.20,100.70 L445.20,100.70 Z" fill="#c82424"/>
<path d="M476.40,68.40 L478.40,72.00 L474.40,72.00 Z" fill="#c82424"/>
<path d="M476.40,70.40 L478.40,74.00 L474.40,74.00 Z" fill="#c82424"/>
<path d="M476.40,81.70 L478.40,85.30 L474.40,85.30 Z" fill="#c82424"/>
<path d="M425.40,99.30 L427.40,101.30 L425.40,103.30 L423.40,101.30 Z" fill="#1c1ca8"/>
<path d="M425.40,104.40 L427.40,106.40 L425.40,108.40 L423.40,106.40 Z" fill="#1c1ca8"/>
<path d="M447.20,72.30 L449.20,74.30 L447.20,76.30 L445.20,74.30 Z" fill="#1c1ca8"/>
<path d="M447.20,81.60 L449.20,83.60 L447.20,85.60 L445.20,83.60 Z" fill="#1c1ca8"/>
<path d="M447.20,87.50 L449.20,89.50 L447.20,91.50 L445.20,89.50 Z" fill="#1c1ca8"/>
<path d="M447.20,89.20 L449.20,91.20 L447.20,93.20 L445.20,91.20 Z" fill="#1c1ca8"/>
<path d="M476.40,54.50 L478.40,56.50 L476.40,58.50 L474.40,56.50 Z" fill="#1c1ca8"/>
<path d="M476.40,86.80 L478.40,88.80 L476.40,90.80 L474.40,88.80 Z" fill="#1c1ca8"/>
<path d="M476.40,88.60 L478.40,90.60 L476.40,92.60 L474.40,90.60 Z" fill="#1c1ca8"/>
<line x1="421.80" y1="85.8" x2="429.00" y2="85.8" stroke="#c82424" stroke-width="1.7"/>
<line x1="421.80" y1="98.0" x2="429.00" y2="98.0" stroke="#1c1ca8" stroke-width="1.7"/>
<line x1="443.60" y1="85.4" x2="450.80" y2="85.4" stroke="#1c1ca8" stroke-width="1.7"/>
<line x1="443.60" y1="87.8" x2="450.80" y2="87.8" stroke="#c82424" stroke-width="1.7"/>
<line x1="472.80" y1="74.7" x2="480.00" y2="74.7" stroke="#c82424" stroke-width="1.7"/>
<line x1="472.80" y1="78.7" x2="480.00" y2="78.7" stroke="#1c1ca8" stroke-width="1.7"/>
<text x="0.4" y="12.7" font-size="15" font-weight="bold" fill="#111">A</text>
<text x="207.0" y="14.2" font-size="15" font-weight="bold" fill="#111">B</text>
<text x="363.8" y="16.6" font-size="15" font-weight="bold" fill="#111">C</text>
<text x="2.0" y="168.9" font-size="15" font-weight="bold" fill="#111">D</text>
<text x="210.2" y="172.9" font-size="15" font-weight="bold" fill="#111">E</text>
<text x="315.7" y="169.7" font-size="15" font-weight="bold" fill="#111">F</text>
</svg></body></html>
